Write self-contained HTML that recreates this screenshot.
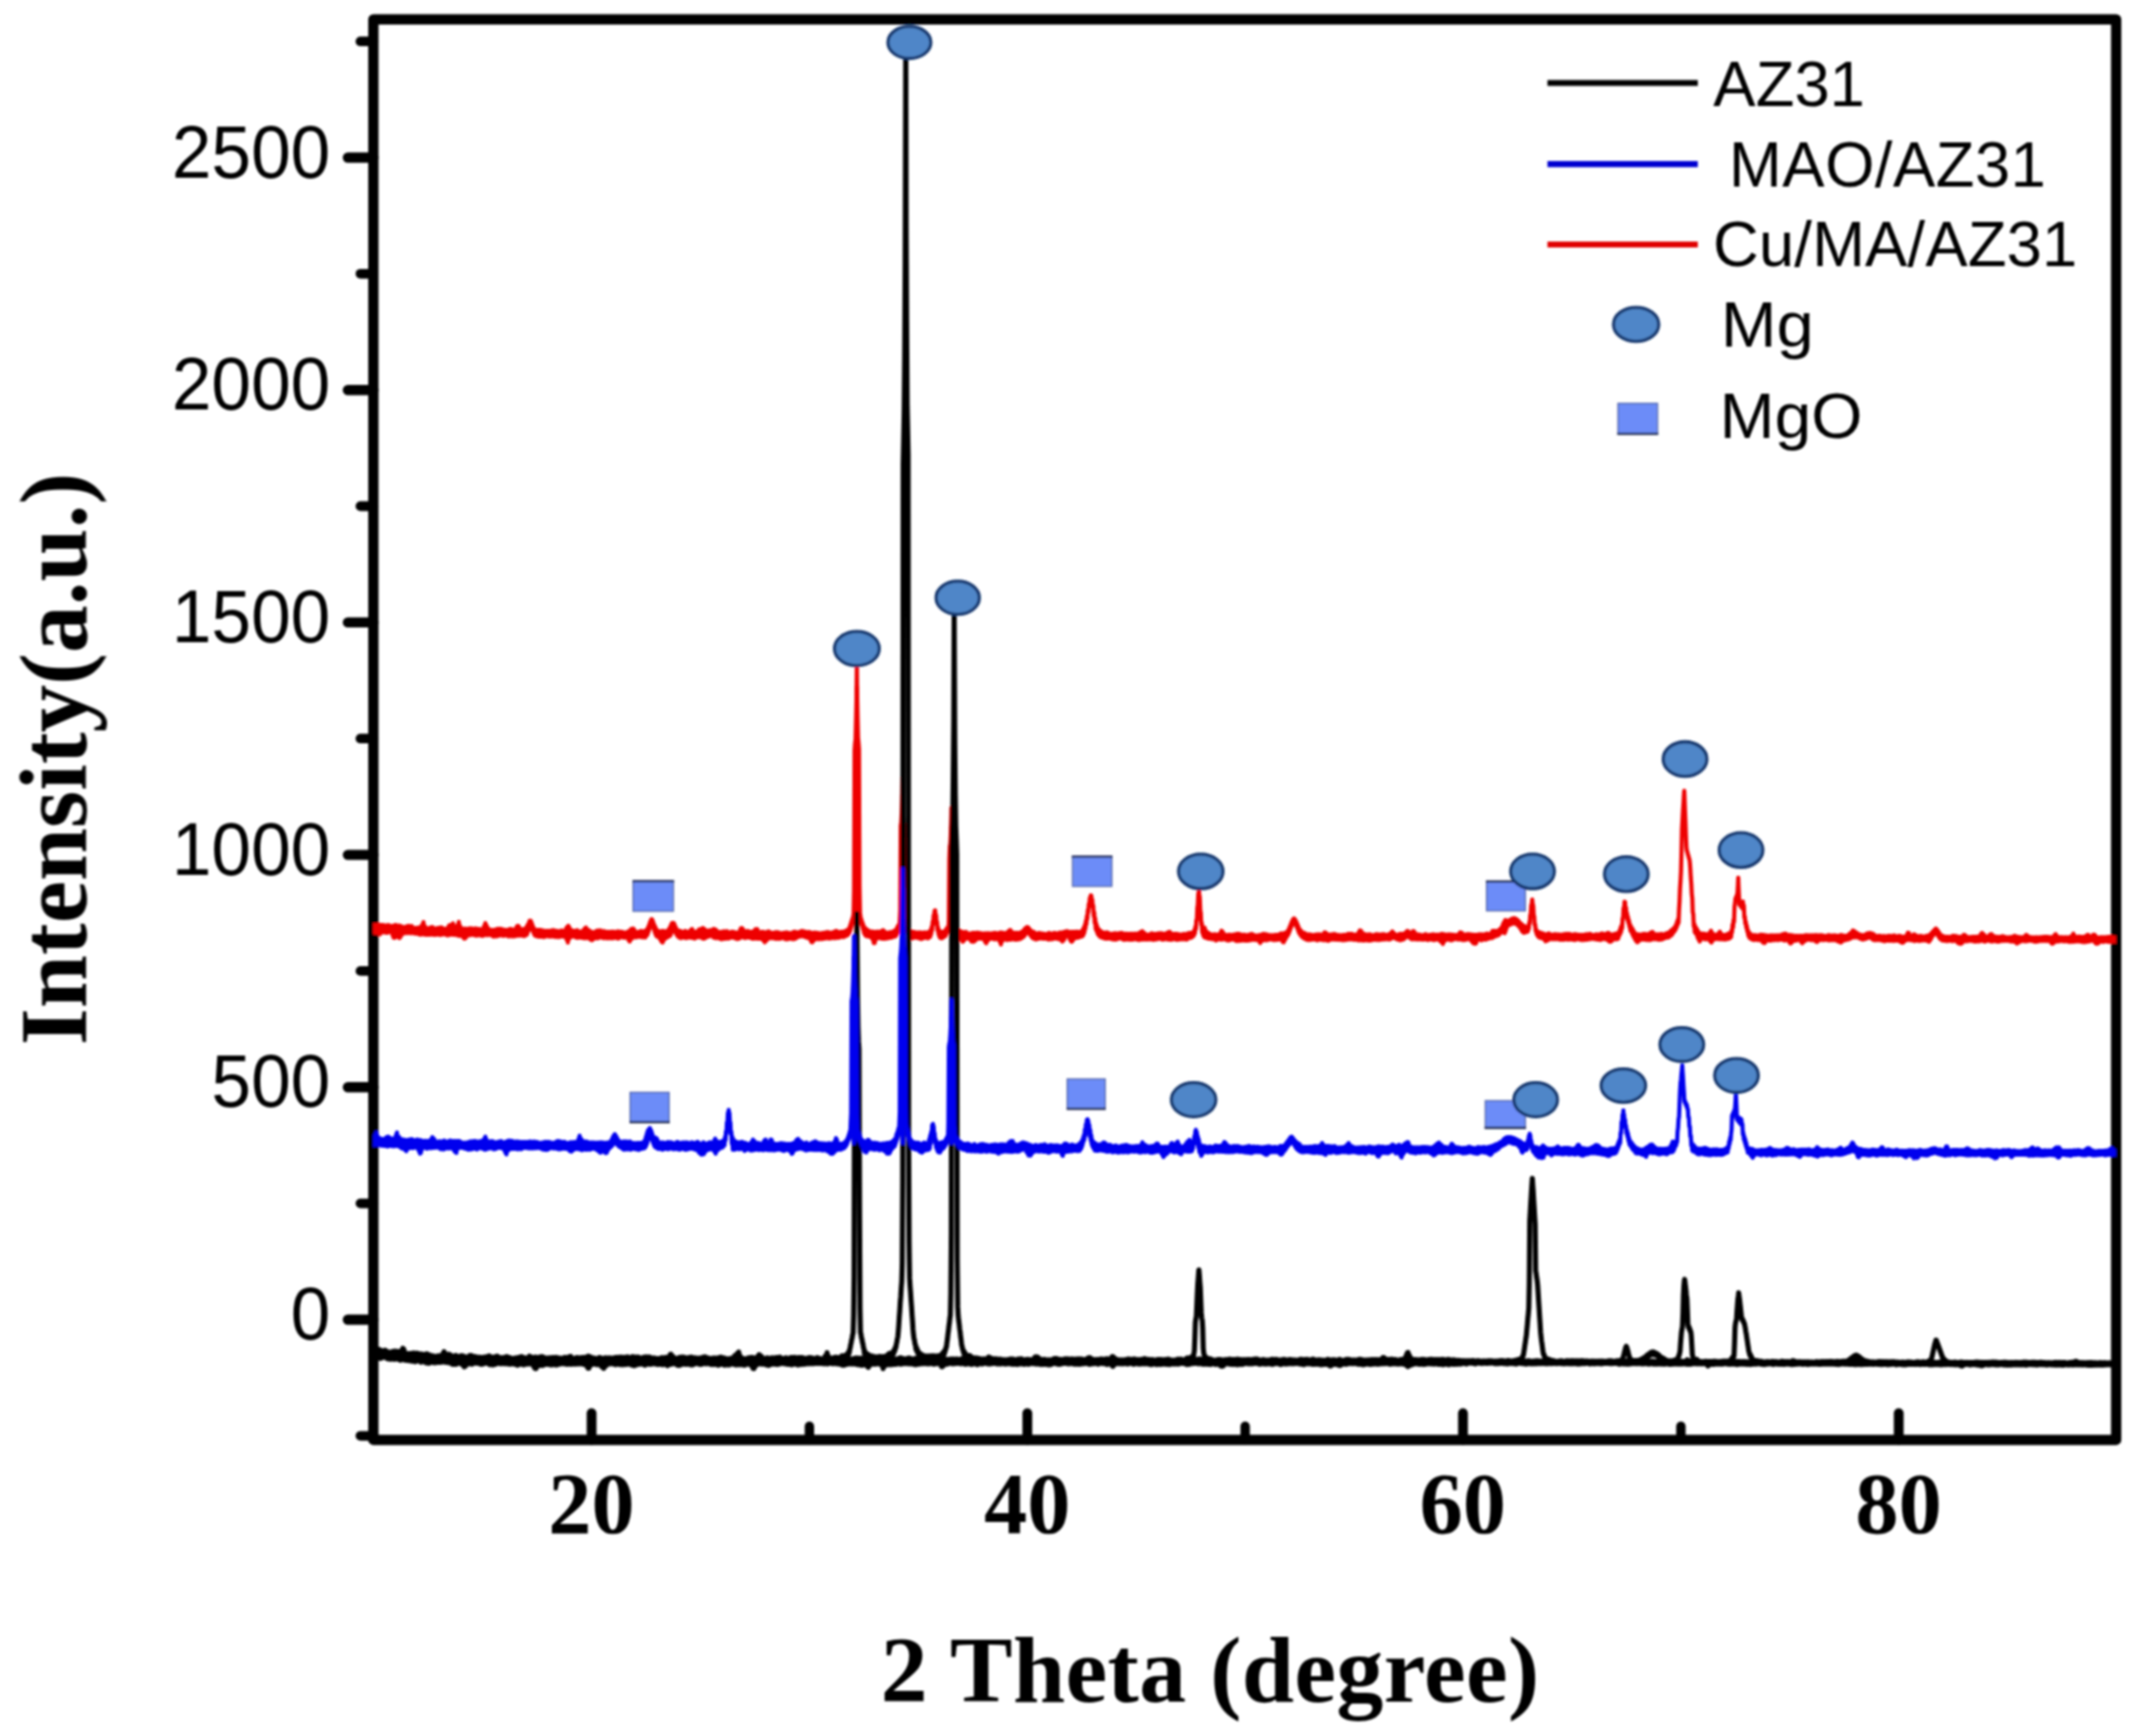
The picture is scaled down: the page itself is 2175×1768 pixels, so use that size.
<!DOCTYPE html>
<html lang="en">
<head>
<meta charset="utf-8">
<title>XRD patterns of AZ31, MAO/AZ31 and Cu/MA/AZ31</title>
<style>
html,body{margin:0;padding:0;background:#fff;}
body{width:2175px;height:1768px;overflow:hidden;}
svg{display:block;}
.sans{font-family:"Liberation Sans",Arial,Helvetica,sans-serif;fill:#000;}
.serif{font-family:"Liberation Serif","Times New Roman",Times,serif;font-weight:bold;fill:#000;}
.curve{fill:none;stroke-linejoin:round;stroke-linecap:round;}
</style>
</head>
<body>
<svg width="2175" height="1768" viewBox="0 0 2175 1768">
<defs><clipPath id="plot"><rect x="379.6" y="19.6" width="1775.2" height="1446.8"/></clipPath>
<filter id="soft" x="-2%" y="-2%" width="104%" height="104%"><feGaussianBlur stdDeviation="0.9"/></filter></defs>
<rect x="0" y="0" width="2175" height="1768" fill="#fff"/>
<g filter="url(#soft)">
<rect x="380.20" y="19.65" width="1774.60" height="1446.75" fill="none" stroke="#000" stroke-width="10.5" stroke-linejoin="round"/>
<g stroke="#000" stroke-linecap="round" fill="none">
<line x1="354.2" y1="1344.0" x2="380.2" y2="1344.0" stroke-width="10.4"/>
<line x1="354.2" y1="1107.3" x2="380.2" y2="1107.3" stroke-width="10.4"/>
<line x1="354.2" y1="870.6" x2="380.2" y2="870.6" stroke-width="10.4"/>
<line x1="354.2" y1="633.9" x2="380.2" y2="633.9" stroke-width="10.4"/>
<line x1="354.2" y1="397.2" x2="380.2" y2="397.2" stroke-width="10.4"/>
<line x1="354.2" y1="160.5" x2="380.2" y2="160.5" stroke-width="10.4"/>
<line x1="367" y1="1462.3" x2="380.2" y2="1462.3" stroke-width="9.8"/>
<line x1="367" y1="1225.6" x2="380.2" y2="1225.6" stroke-width="9.8"/>
<line x1="367" y1="988.9" x2="380.2" y2="988.9" stroke-width="9.8"/>
<line x1="367" y1="752.2" x2="380.2" y2="752.2" stroke-width="9.8"/>
<line x1="367" y1="515.5" x2="380.2" y2="515.5" stroke-width="9.8"/>
<line x1="367" y1="278.8" x2="380.2" y2="278.8" stroke-width="9.8"/>
<line x1="367" y1="42.2" x2="380.2" y2="42.2" stroke-width="9.8"/>
<line x1="602.4" y1="1439.2" x2="602.4" y2="1466.4" stroke-width="10"/>
<line x1="1046.1" y1="1439.2" x2="1046.1" y2="1466.4" stroke-width="10"/>
<line x1="1489.7" y1="1439.2" x2="1489.7" y2="1466.4" stroke-width="10"/>
<line x1="1933.4" y1="1439.2" x2="1933.4" y2="1466.4" stroke-width="10"/>
<line x1="824.2" y1="1452.6" x2="824.2" y2="1466.4" stroke-width="9.6"/>
<line x1="1267.9" y1="1452.6" x2="1267.9" y2="1466.4" stroke-width="9.6"/>
<line x1="1711.6" y1="1452.6" x2="1711.6" y2="1466.4" stroke-width="9.6"/>
</g>
<g clip-path="url(#plot)">
<path class="curve" stroke="#ee0000" stroke-width="4.2" d="M380.2 942.2L380.7 949.7L381.2 941.8L381.7 950.0L382.2 942.1L382.7 950.1L383.2 942.2L383.7 949.5L384.2 942.4L384.7 950.0L385.2 941.5L385.7 950.8L386.2 941.8L386.7 951.7L387.2 942.2L387.7 950.4L388.2 942.2L388.7 949.5L389.2 942.0L389.7 949.4L390.2 942.1L390.7 948.9L391.2 942.9L391.7 949.6L392.2 942.7L392.7 949.4L393.2 942.7L393.7 950.0L394.2 943.1L394.7 949.9L395.2 942.2L395.7 949.1L396.2 942.6L396.7 949.2L397.2 942.9L397.7 949.2L398.2 943.3L398.7 949.4L399.2 943.1L399.7 952.4L400.2 943.4L400.7 954.9L401.2 942.7L401.7 955.2L402.2 942.2L402.7 953.3L403.2 942.1L403.7 954.2L404.2 942.9L404.7 954.0L405.2 943.0L405.7 953.3L406.2 942.6L406.7 955.5L407.2 942.9L407.7 954.5L408.2 943.4L408.7 952.5L409.2 943.7L409.7 951.6L410.2 944.5L410.7 949.8L411.2 944.6L411.7 950.1L412.2 944.1L412.7 950.1L413.2 944.1L413.7 950.3L414.2 943.3L414.7 950.1L415.2 943.8L415.7 950.1L416.2 942.8L416.7 950.1L417.2 943.6L417.7 949.9L418.2 943.8L418.7 950.5L419.2 943.2L419.7 950.1L420.2 944.5L420.7 950.0L421.2 944.8L421.7 950.3L422.2 945.3L422.7 950.8L423.2 945.2L423.7 950.6L424.2 945.2L424.7 950.8L425.2 944.8L425.7 951.1L426.2 944.7L426.7 951.5L427.2 945.4L427.7 951.9L428.2 945.3L428.7 951.1L429.2 943.0L429.7 951.7L430.2 941.4L430.7 951.5L431.2 939.2L431.7 951.5L432.2 942.5L432.7 951.8L433.2 944.1L433.7 951.6L434.2 945.5L434.7 952.0L435.2 945.7L435.7 951.5L436.2 945.6L436.7 951.4L437.2 945.1L437.7 952.0L438.2 944.7L438.7 951.2L439.2 945.1L439.7 951.2L440.2 944.2L440.7 951.8L441.2 945.0L441.7 951.8L442.2 945.5L442.7 952.1L443.2 945.6L443.7 951.2L444.2 945.6L444.7 951.8L445.2 945.3L445.7 950.8L446.2 945.2L446.7 951.6L447.2 945.0L447.7 952.2L448.2 944.7L448.7 952.2L449.2 944.6L449.7 951.8L450.2 944.9L450.7 951.7L451.2 945.8L451.7 951.1L452.2 946.0L452.7 951.2L453.2 946.1L453.7 951.8L454.2 946.0L454.7 952.0L455.2 945.4L455.7 952.7L456.2 944.6L456.7 952.4L457.2 942.7L457.7 951.4L458.2 942.0L458.7 951.8L459.2 942.0L459.7 951.5L460.2 941.8L460.7 951.8L461.2 940.3L461.7 952.0L462.2 942.8L462.7 951.9L463.2 944.9L463.7 952.1L464.2 946.2L464.7 951.9L465.2 944.0L465.7 952.5L466.2 941.6L466.7 952.9L467.2 938.9L467.7 953.2L468.2 942.5L468.7 952.6L469.2 944.3L469.7 952.2L470.2 946.7L470.7 953.5L471.2 946.3L471.7 954.6L472.2 946.1L472.7 955.9L473.2 945.6L473.7 955.7L474.2 946.1L474.7 954.4L475.2 946.0L475.7 953.0L476.2 946.3L476.7 952.5L477.2 945.7L477.7 952.4L478.2 945.5L478.7 952.3L479.2 945.8L479.7 952.1L480.2 945.6L480.7 951.8L481.2 945.9L481.7 951.9L482.2 946.5L482.7 952.2L483.2 945.9L483.7 952.6L484.2 945.7L484.7 952.7L485.2 945.8L485.7 952.8L486.2 946.0L486.7 952.3L487.2 946.3L487.7 952.1L488.2 946.1L488.7 952.0L489.2 946.6L489.7 952.8L490.2 946.8L490.7 952.5L491.2 947.1L491.7 953.2L492.2 944.9L492.7 952.3L493.2 942.7L493.7 952.2L494.2 940.2L494.7 952.2L495.2 942.2L495.7 952.5L496.2 944.2L496.7 952.2L497.2 946.4L497.7 952.2L498.2 946.4L498.7 952.2L499.2 947.0L499.7 952.1L500.2 947.3L500.7 952.5L501.2 947.2L501.7 953.3L502.2 947.1L502.7 953.8L503.2 947.4L503.7 953.4L504.2 946.8L504.7 953.4L505.2 946.5L505.7 953.6L506.2 946.1L506.7 952.6L507.2 945.8L507.7 953.0L508.2 946.3L508.7 952.5L509.2 945.9L509.7 952.5L510.2 946.1L510.7 952.7L511.2 946.3L511.7 952.4L512.2 946.9L512.7 953.1L513.2 946.9L513.7 952.5L514.2 947.1L514.7 952.2L515.2 947.6L515.7 952.7L516.2 947.1L516.7 952.6L517.2 947.1L517.7 953.7L518.2 946.6L518.7 953.3L519.2 946.0L519.7 953.4L520.2 946.4L520.7 953.4L521.2 946.4L521.7 953.6L522.2 946.8L522.7 953.1L523.2 947.2L523.7 953.6L524.2 947.9L524.7 953.1L525.2 945.6L525.7 953.1L526.2 943.6L526.7 953.0L527.2 942.9L527.7 952.3L528.2 943.3L528.7 952.8L529.2 945.3L529.7 952.7L530.2 947.2L530.7 952.4L531.2 946.4L531.7 952.8L532.2 946.7L532.7 952.6L533.2 946.2L533.7 953.4L534.2 946.4L534.7 952.9L535.2 945.7L535.7 952.4L536.2 943.9L536.7 951.7L537.2 942.0L537.7 948.8L538.2 940.3L538.7 946.6L539.2 937.8L539.7 945.5L540.0 937.7L540.2 945.3L540.7 938.2L541.2 946.0L541.7 940.7L542.2 947.5L542.7 943.3L543.2 949.8L543.7 945.3L544.2 952.0L544.7 947.1L545.2 953.1L545.7 947.3L546.2 953.2L546.7 947.0L547.2 953.6L547.7 947.1L548.2 953.8L548.7 947.1L549.2 954.0L549.7 947.2L550.2 953.7L550.7 947.4L551.2 953.8L551.7 947.7L552.2 954.2L552.7 947.7L553.2 954.2L553.7 948.0L554.2 954.4L554.7 948.2L555.2 953.9L555.7 948.6L556.2 953.3L556.7 948.2L557.2 953.1L557.7 948.2L558.2 953.6L558.7 948.2L559.2 953.4L559.7 948.3L560.2 953.8L560.7 947.9L561.2 953.6L561.7 948.1L562.2 953.7L562.7 947.3L563.2 953.4L563.7 947.6L564.2 953.8L564.7 947.7L565.2 954.2L565.7 948.2L566.2 954.2L566.7 948.7L567.2 954.1L567.7 948.2L568.2 954.1L568.7 948.7L569.2 954.5L569.7 948.6L570.2 953.9L570.7 948.4L571.2 953.6L571.7 947.7L572.2 953.5L572.7 948.1L573.2 953.9L573.7 948.5L574.2 953.3L574.7 948.1L575.2 953.2L575.7 947.1L576.2 955.1L576.7 944.8L577.2 957.4L577.7 943.9L578.2 959.9L578.7 942.8L579.2 956.8L579.7 944.4L580.2 955.2L580.7 946.5L581.2 954.4L581.7 948.0L582.2 954.0L582.7 947.6L583.2 953.6L583.7 948.0L584.2 953.4L584.7 948.1L585.2 954.0L585.7 948.1L586.2 954.6L586.7 947.9L587.2 955.0L587.7 947.4L588.2 955.1L588.7 948.4L589.2 954.2L589.7 948.8L590.2 953.8L590.7 949.3L591.2 954.8L591.7 948.6L592.2 955.0L592.7 948.6L593.2 955.1L593.7 948.3L594.2 955.4L594.7 946.4L595.2 955.3L595.7 945.3L596.2 955.5L596.7 944.5L597.2 955.3L597.7 946.3L598.2 954.4L598.7 947.6L599.2 954.6L599.7 947.3L600.2 955.9L600.7 948.3L601.2 956.9L601.7 948.9L602.2 957.3L602.7 949.0L603.2 957.4L603.7 949.5L604.2 956.1L604.7 949.5L605.2 954.3L605.7 949.2L606.2 954.8L606.7 949.1L607.2 955.6L607.7 947.9L608.2 955.3L608.7 948.1L609.2 955.5L609.7 947.6L610.2 954.6L610.7 948.1L611.2 954.3L611.7 947.7L612.2 954.5L612.7 948.7L613.2 955.0L613.7 949.1L614.2 955.4L614.7 948.4L615.2 955.4L615.7 948.7L616.2 955.2L616.7 949.0L617.2 955.3L617.7 949.0L618.2 955.7L618.7 949.1L619.2 955.5L619.7 949.0L620.2 955.2L620.7 949.6L621.2 955.4L621.7 949.2L622.2 955.7L622.7 948.8L623.2 955.3L623.7 949.2L624.2 955.5L624.7 948.9L625.2 955.4L625.7 949.7L626.2 954.8L626.7 949.3L627.2 955.1L627.7 949.2L628.2 954.9L628.7 948.7L629.2 955.9L629.7 948.5L630.2 955.5L630.7 949.3L631.2 954.6L631.7 948.9L632.2 954.3L632.7 949.2L633.2 954.4L633.7 949.2L634.2 954.6L634.7 949.9L635.2 955.0L635.7 949.8L636.2 954.8L636.7 949.9L637.2 954.1L637.7 949.5L638.2 954.5L638.7 949.6L639.2 955.9L639.7 948.5L640.2 957.7L640.7 948.3L641.2 959.0L641.7 947.3L642.2 956.9L642.7 946.1L643.2 956.1L643.7 946.3L644.2 954.3L644.7 945.5L645.2 954.4L645.7 946.7L646.2 954.6L646.7 948.6L647.2 954.3L647.7 949.4L648.2 954.6L648.7 949.7L649.2 954.2L649.7 949.2L650.2 954.0L650.7 948.8L651.2 954.1L651.7 948.7L652.2 954.2L652.7 948.1L653.2 954.2L653.7 948.5L654.2 954.6L654.7 948.5L655.2 954.4L655.7 948.6L656.2 954.6L656.7 948.2L657.2 954.6L657.7 947.6L658.2 953.2L658.7 946.5L659.2 952.2L659.7 944.8L660.2 949.5L660.7 942.5L661.2 946.6L661.7 939.6L662.2 943.7L662.7 937.2L663.2 941.8L663.5 936.0L663.7 941.8L664.2 936.5L664.7 943.2L665.2 939.1L665.7 946.2L666.2 941.8L666.7 949.4L667.2 943.8L667.7 952.1L668.2 946.2L668.7 953.6L669.2 947.9L669.7 953.8L670.2 948.2L670.7 954.7L671.2 949.4L671.7 955.7L672.2 948.7L672.7 957.5L673.2 948.5L673.7 959.1L674.2 948.4L674.7 959.9L675.2 948.1L675.7 958.0L676.2 948.6L676.7 956.1L677.2 948.8L677.7 955.6L678.2 948.8L678.7 955.2L679.2 948.2L679.7 954.2L680.2 947.9L680.7 953.8L681.2 946.0L681.7 953.3L682.2 944.3L682.7 952.6L683.2 942.1L683.7 950.2L684.2 940.1L684.7 948.4L685.2 939.8L685.7 947.0L686.0 940.2L686.2 946.8L686.7 941.1L687.2 948.3L687.7 943.7L688.2 950.5L688.7 945.7L689.2 952.3L689.7 947.5L690.2 953.5L690.7 948.4L691.2 954.6L691.7 947.8L692.2 954.9L692.7 948.3L693.2 955.5L693.7 948.6L694.2 954.8L694.7 949.4L695.2 954.7L695.7 949.4L696.2 954.6L696.7 948.8L697.2 955.1L697.7 948.2L698.2 955.2L698.7 948.5L699.2 955.3L699.7 949.0L700.2 954.8L700.7 949.7L701.2 954.6L701.7 948.9L702.2 954.7L702.7 947.9L703.2 954.8L703.7 946.8L704.2 955.1L704.7 946.2L705.2 954.7L705.7 947.8L706.2 955.0L706.7 949.0L707.2 955.9L707.7 949.8L708.2 955.4L708.7 949.1L709.2 954.5L709.7 948.7L710.2 954.3L710.7 948.7L711.2 954.1L711.7 946.7L712.2 954.5L712.7 947.1L713.2 954.4L713.7 946.1L714.2 954.6L714.7 946.3L715.2 955.6L715.7 945.2L716.2 955.9L716.7 945.8L717.2 956.0L717.7 946.7L718.2 955.1L718.7 947.9L719.2 954.6L719.7 947.8L720.2 954.3L720.7 948.4L721.2 953.8L721.7 948.1L722.2 953.5L722.7 947.3L723.2 953.0L723.6 947.5L723.7 953.4L724.2 947.6L724.7 952.8L725.2 947.8L725.7 953.2L726.2 946.4L726.7 954.8L727.2 946.1L727.7 954.9L728.2 946.8L728.7 955.4L729.2 947.0L729.7 955.3L730.2 948.8L730.7 954.6L731.2 949.2L731.7 954.9L732.2 949.5L732.7 955.8L733.2 949.2L733.7 956.0L734.2 949.8L734.7 956.7L735.2 949.3L735.7 955.6L736.2 948.7L736.7 955.7L737.2 948.6L737.7 956.1L738.2 948.7L738.7 956.0L739.2 949.0L739.7 955.6L740.2 948.4L740.7 955.7L741.2 949.2L741.7 955.9L742.2 949.8L742.7 955.4L743.2 950.0L743.7 955.1L744.2 949.4L744.7 954.9L745.2 948.8L745.7 954.6L746.2 949.3L746.7 954.8L747.2 949.2L747.7 955.0L748.2 949.6L748.7 955.7L749.2 949.8L749.7 955.9L750.2 949.8L750.7 956.4L751.2 950.0L751.7 955.3L752.2 949.4L752.7 955.9L753.2 948.2L753.7 954.9L754.2 945.6L754.7 954.6L755.2 945.0L755.7 954.5L756.2 945.8L756.7 954.7L757.2 947.3L757.7 954.9L758.2 948.8L758.7 955.3L759.2 948.9L759.7 954.7L760.2 948.9L760.7 954.6L761.2 948.2L761.7 954.4L762.2 948.8L762.7 955.0L763.2 948.9L763.7 954.7L764.2 949.0L764.7 955.1L765.2 949.2L765.7 955.9L766.2 948.8L766.7 955.3L767.2 949.4L767.7 956.0L768.2 947.8L768.7 955.6L769.2 946.3L769.7 955.3L770.2 946.5L770.7 956.0L771.2 946.4L771.7 956.0L772.2 948.8L772.7 955.8L773.2 950.0L773.7 956.0L774.2 949.7L774.7 956.0L775.2 949.3L775.7 955.7L776.2 949.1L776.7 957.2L777.2 949.4L777.7 958.2L778.2 949.4L778.7 959.6L779.2 949.9L779.7 958.4L780.2 949.6L780.7 957.6L781.2 949.1L781.7 956.3L782.2 948.6L782.7 955.6L783.2 948.9L783.7 955.3L784.2 949.7L784.7 955.5L785.2 950.0L785.7 955.3L786.2 950.2L786.7 955.5L787.2 950.2L787.7 955.3L788.2 949.8L788.7 955.4L789.2 949.7L789.7 956.1L790.2 949.4L790.7 955.8L791.2 949.6L791.7 956.1L792.2 949.6L792.7 955.7L793.2 949.9L793.7 956.2L794.2 950.4L794.7 955.3L795.2 950.5L795.7 955.6L796.2 950.6L796.7 955.5L797.2 950.1L797.7 955.1L798.2 950.3L798.7 955.3L799.2 949.8L799.7 956.5L800.2 949.9L800.7 956.3L801.2 949.7L801.7 956.7L802.2 950.1L802.7 956.1L803.2 950.4L803.7 955.8L804.2 950.4L804.7 955.9L805.2 950.6L805.7 956.2L806.2 950.5L806.7 956.2L807.2 949.7L807.7 956.5L808.2 949.0L808.7 956.4L809.2 948.8L809.7 955.7L810.2 949.5L810.7 955.6L811.2 949.6L811.7 954.5L812.2 949.7L812.7 954.4L813.2 949.3L813.7 953.7L814.2 949.3L814.7 953.6L815.2 948.9L815.7 953.7L816.2 948.0L816.6 953.3L816.7 948.5L817.2 953.4L817.7 948.4L818.2 953.6L818.7 948.6L819.2 954.1L819.7 948.9L820.2 954.3L820.7 949.0L821.2 954.5L821.7 949.3L822.2 955.2L822.7 949.8L823.2 955.0L823.7 949.2L824.2 955.6L824.7 949.6L825.2 957.2L825.7 949.8L826.2 959.3L826.7 950.0L827.2 959.7L827.7 950.4L828.2 958.0L828.7 949.8L829.2 957.3L829.7 949.8L830.2 954.6L830.7 949.8L831.2 955.7L831.7 950.3L832.2 956.0L832.7 950.1L833.2 956.6L833.7 950.6L834.2 955.9L834.7 950.7L835.2 955.7L835.7 950.6L836.2 956.5L836.7 950.3L837.2 955.9L837.7 950.1L838.2 956.1L838.7 950.1L839.2 955.8L839.7 949.9L840.2 955.4L840.7 950.0L841.2 955.7L841.7 949.3L842.2 955.3L842.7 949.4L843.2 955.4L843.7 949.6L844.2 955.8L844.7 949.8L845.2 955.7L845.7 950.1L846.2 955.2L846.7 949.8L847.2 955.5L847.7 949.6L848.2 955.1L848.7 949.4L849.2 955.1L849.7 948.9L850.2 955.5L850.7 948.4L851.2 955.2L851.7 948.2L852.2 954.9L852.7 949.0L853.2 955.2L853.7 949.4L854.2 954.9L854.7 949.4L855.2 954.7L855.7 949.2L856.2 954.1L856.7 949.2L857.2 954.1L857.7 948.8L858.2 953.8L858.7 949.0L859.2 954.4L859.7 948.6L860.2 953.6L860.7 948.4L861.2 953.3L861.7 947.6L862.2 952.8L862.7 947.9L863.2 952.3L863.7 946.5L864.2 951.0L864.7 945.1L865.2 949.5L865.7 942.3L866.2 946.7L866.7 939.1L867.2 943.5L867.7 936.0L868.2 940.5L868.7 932.9L869.2 931.7L869.7 905.5L870.2 764.4L870.7 757.1L871.2 753.3L871.7 732.3L872.2 708.8L872.5 676.0L872.7 698.5L873.2 728.4L873.7 751.1L874.2 756.3L874.7 763.4L875.2 901.3L875.7 930.0L876.2 932.9L876.7 940.1L877.2 936.4L877.7 942.5L878.2 939.5L878.7 946.1L879.2 942.2L879.7 949.9L880.2 944.6L880.7 951.8L881.2 945.4L881.7 953.0L882.2 946.3L882.7 953.5L883.2 947.0L883.7 953.2L884.2 947.6L884.7 953.8L885.2 948.5L885.7 954.0L886.2 948.8L886.7 954.1L887.2 948.7L887.7 955.3L888.2 949.2L888.7 957.0L889.2 948.8L889.7 960.3L890.2 949.7L890.7 960.5L891.2 949.2L891.7 957.2L892.2 949.4L892.7 955.8L893.2 948.9L893.7 954.7L894.2 948.9L894.7 955.2L895.2 949.1L895.7 955.3L896.2 949.5L896.7 955.2L897.2 948.7L897.7 955.8L898.2 947.8L898.7 955.8L899.2 947.3L899.7 955.9L900.2 948.3L900.7 956.1L901.2 949.1L901.7 955.3L902.2 950.1L902.7 955.5L903.2 950.5L903.7 955.7L904.2 949.9L904.7 955.1L905.2 950.1L905.7 955.2L906.2 949.4L906.7 954.8L907.2 949.4L907.7 955.0L908.2 949.5L908.7 954.2L909.2 949.0L909.7 954.1L910.2 948.2L910.7 953.9L911.2 947.5L911.7 953.7L912.2 947.0L912.7 952.7L913.2 945.1L913.7 950.5L914.2 943.1L914.7 948.8L915.2 941.8L915.7 946.6L916.2 937.3L916.7 927.1L917.2 840.6L917.7 837.9L918.2 827.7L918.7 813.6L919.0 791.0L919.2 806.5L919.7 824.5L920.2 837.2L920.7 839.7L921.2 923.1L921.7 935.0L922.2 945.2L922.7 941.7L923.2 947.3L923.7 943.7L924.2 949.5L924.7 946.5L925.2 952.1L925.7 947.6L926.2 953.3L926.7 948.4L927.2 954.6L927.7 948.6L928.2 954.7L928.7 949.1L929.2 955.6L929.7 949.2L930.2 955.2L930.7 949.2L931.2 954.6L931.7 950.0L932.2 954.7L932.7 950.1L933.2 955.0L933.7 949.7L934.2 955.2L934.7 949.9L935.2 955.3L935.7 949.9L936.2 955.5L936.7 949.7L937.2 956.1L937.7 949.9L938.2 956.3L938.7 950.1L939.2 956.0L939.7 949.8L940.2 955.0L940.7 949.8L941.2 955.2L941.7 949.7L942.2 954.8L942.7 949.8L943.2 955.1L943.7 949.9L944.2 955.5L944.7 949.7L945.2 955.6L945.7 949.2L946.2 954.6L946.7 948.7L947.2 954.0L947.7 946.9L948.2 951.4L948.7 943.8L949.2 947.3L949.7 938.7L950.2 941.4L950.7 932.0L951.2 935.2L951.7 927.5L952.0 932.6L952.2 927.0L952.7 934.6L953.2 931.9L953.7 941.1L954.2 938.8L954.7 947.7L955.2 944.6L955.7 951.7L956.2 947.6L956.7 954.3L957.2 948.7L957.7 955.4L958.2 949.1L958.7 955.5L959.2 949.2L959.7 955.4L960.2 949.2L960.7 954.4L961.2 949.0L961.7 953.8L962.2 948.0L962.7 953.4L963.2 946.5L963.7 951.1L964.2 945.1L964.7 949.4L965.2 943.9L965.7 947.9L966.2 936.8L966.7 875.9L967.2 861.4L967.7 859.4L968.2 847.6L968.7 829.8L968.8 822.9L969.2 844.1L969.7 854.6L970.2 861.4L970.7 863.2L971.2 936.2L971.7 940.9L972.2 948.6L972.7 943.3L973.2 950.1L973.7 944.6L974.2 952.5L974.7 946.3L975.2 954.4L975.7 947.1L976.2 954.7L976.7 948.2L977.2 955.7L977.7 948.2L978.2 956.6L978.7 948.8L979.2 957.4L979.7 949.5L980.2 959.2L980.7 949.4L981.2 958.5L981.7 949.3L982.2 956.9L982.7 949.6L983.2 956.1L983.7 949.2L984.2 955.6L984.7 950.3L985.2 955.6L985.7 950.7L986.2 954.9L986.7 950.9L987.2 956.4L987.7 950.8L988.2 957.4L988.7 950.8L989.2 958.9L989.7 950.4L990.2 958.8L990.7 950.2L991.2 959.1L991.7 950.4L992.2 958.6L992.7 950.2L993.2 957.6L993.7 950.4L994.2 956.8L994.7 949.8L995.2 955.2L995.7 949.9L996.2 955.6L996.7 950.3L997.2 955.8L997.7 950.3L998.2 955.7L998.7 950.4L999.2 956.0L999.7 950.5L1000.2 955.4L1000.7 950.8L1001.2 955.9L1001.7 950.8L1002.2 957.3L1002.7 950.5L1003.2 959.4L1003.7 950.7L1004.2 960.6L1004.7 950.6L1005.2 958.7L1005.7 950.5L1006.2 957.6L1006.7 950.8L1007.2 956.1L1007.7 950.7L1008.2 956.0L1008.7 951.1L1009.2 955.8L1009.7 950.8L1010.2 955.9L1010.7 950.3L1011.2 956.2L1011.7 950.3L1012.2 956.4L1012.7 950.2L1013.2 956.6L1013.7 950.1L1014.2 956.5L1014.7 950.7L1015.2 956.2L1015.7 950.6L1016.2 955.6L1016.7 950.5L1017.2 957.3L1017.7 950.1L1018.2 959.4L1018.7 949.6L1019.2 962.0L1019.7 950.0L1020.2 959.0L1020.7 949.8L1021.2 957.7L1021.7 950.2L1022.2 956.7L1022.7 950.6L1023.2 956.4L1023.7 950.3L1024.2 956.7L1024.7 950.3L1025.2 957.3L1025.7 949.7L1026.2 956.5L1026.7 948.5L1027.2 957.0L1027.7 947.9L1028.2 956.9L1028.7 947.0L1029.2 956.8L1029.7 948.3L1030.2 956.7L1030.7 949.7L1031.2 956.1L1031.7 949.9L1032.2 956.4L1032.7 950.5L1033.2 956.9L1033.7 950.0L1034.2 957.0L1034.7 950.3L1035.2 957.0L1035.7 950.2L1036.2 956.6L1036.7 950.1L1037.2 956.6L1037.7 950.5L1038.2 956.5L1038.7 949.9L1039.2 956.0L1039.7 949.6L1040.2 955.1L1040.7 948.8L1041.2 954.8L1041.7 948.2L1042.2 953.9L1042.7 947.0L1043.2 953.0L1043.7 945.5L1044.2 951.5L1044.7 945.1L1045.2 950.3L1045.7 944.2L1046.0 949.5L1046.2 944.9L1046.7 949.4L1047.2 944.7L1047.7 950.2L1048.2 946.3L1048.7 951.7L1049.2 947.0L1049.7 953.1L1050.2 948.4L1050.7 954.4L1051.2 948.9L1051.7 955.5L1052.2 948.8L1052.7 955.5L1053.2 949.5L1053.7 956.3L1054.2 950.7L1054.7 956.6L1055.2 950.8L1055.7 956.7L1056.2 950.7L1056.7 955.9L1057.2 950.7L1057.7 956.0L1058.2 950.1L1058.7 955.8L1059.2 950.6L1059.7 955.5L1060.2 950.7L1060.7 955.6L1061.2 950.9L1061.7 956.0L1062.2 950.8L1062.7 955.8L1063.2 951.0L1063.7 955.8L1064.2 951.4L1064.7 955.6L1065.2 951.3L1065.7 956.1L1066.2 951.0L1066.7 956.2L1067.2 950.5L1067.7 956.9L1068.2 950.2L1068.7 956.6L1069.2 950.8L1069.7 956.2L1070.2 950.8L1070.7 956.6L1071.2 951.0L1071.7 956.5L1072.2 950.7L1072.7 956.0L1073.2 950.0L1073.7 955.8L1074.2 950.4L1074.7 955.7L1075.2 950.4L1075.7 955.8L1076.2 951.4L1076.7 955.8L1077.2 950.7L1077.7 956.4L1078.2 950.4L1078.7 956.6L1079.2 949.6L1079.7 956.7L1080.2 950.2L1080.7 957.3L1081.2 949.9L1081.7 959.0L1082.2 950.2L1082.7 958.0L1083.2 949.2L1083.7 956.9L1084.2 949.1L1084.7 954.3L1085.2 948.7L1085.7 953.5L1086.0 948.6L1086.2 953.7L1086.7 948.4L1087.2 953.7L1087.7 949.1L1088.2 954.0L1088.7 949.1L1089.2 956.4L1089.7 949.5L1090.2 958.2L1090.7 949.1L1091.2 959.1L1091.7 949.0L1092.2 958.2L1092.7 949.4L1093.2 956.6L1093.7 949.2L1094.2 955.7L1094.7 949.1L1095.2 955.2L1095.7 948.9L1096.2 955.1L1096.7 949.2L1097.2 954.8L1097.7 948.9L1098.2 954.8L1098.7 949.5L1099.2 954.5L1099.7 949.3L1100.2 953.8L1100.7 948.9L1101.2 953.9L1101.7 948.1L1102.2 953.5L1102.7 946.5L1103.2 952.1L1103.7 944.5L1104.2 949.7L1104.7 941.8L1105.2 945.9L1105.7 937.8L1106.2 941.3L1106.7 933.1L1107.2 936.0L1107.7 926.8L1108.2 929.0L1108.7 920.7L1109.2 922.4L1109.7 914.6L1110.2 916.5L1110.7 911.8L1110.8 915.6L1111.2 912.0L1111.7 917.8L1112.2 916.1L1112.7 924.0L1113.2 922.2L1113.7 932.8L1114.2 929.4L1114.7 939.8L1115.2 935.4L1115.7 946.1L1116.2 940.3L1116.7 948.4L1117.2 943.4L1117.7 951.1L1118.2 945.8L1118.7 952.3L1119.2 946.8L1119.7 953.6L1120.2 947.8L1120.7 954.3L1121.2 948.7L1121.7 954.5L1122.2 949.2L1122.7 955.0L1123.2 950.0L1123.7 955.4L1124.2 950.2L1124.7 955.7L1125.2 950.2L1125.7 955.9L1126.2 949.6L1126.7 955.9L1127.2 949.9L1127.7 955.8L1128.2 949.8L1128.7 955.5L1129.2 951.0L1129.7 955.9L1130.2 951.3L1130.7 955.9L1131.2 951.3L1131.7 955.9L1132.2 950.8L1132.7 956.6L1133.2 951.2L1133.7 956.4L1134.2 950.9L1134.7 956.7L1135.2 950.4L1135.7 957.0L1136.2 950.8L1136.7 956.2L1137.2 950.8L1137.7 956.5L1138.2 950.7L1138.7 955.7L1139.2 950.7L1139.7 955.6L1140.2 950.8L1140.7 955.6L1141.2 950.2L1141.7 955.7L1142.2 950.2L1142.7 956.2L1143.2 950.6L1143.7 956.9L1144.2 950.9L1144.7 957.2L1145.2 951.4L1145.7 957.0L1146.2 950.9L1146.7 956.6L1147.2 951.0L1147.7 956.8L1148.2 951.2L1148.7 956.6L1149.2 951.0L1149.7 956.6L1150.2 951.2L1150.7 957.1L1151.2 951.3L1151.7 957.0L1152.2 950.9L1152.7 956.8L1153.2 951.5L1153.7 956.8L1154.2 951.1L1154.7 956.6L1155.2 950.9L1155.7 956.5L1156.2 951.3L1156.7 956.5L1157.2 950.8L1157.7 956.9L1158.2 951.0L1158.7 956.8L1159.2 950.5L1159.7 957.4L1160.2 950.9L1160.7 957.1L1161.2 949.4L1161.7 956.9L1162.2 949.0L1162.7 956.4L1163.2 948.4L1163.7 956.9L1164.2 949.6L1164.7 956.4L1165.2 950.0L1165.7 956.3L1166.2 951.8L1166.7 956.7L1167.2 951.9L1167.7 956.8L1168.2 951.9L1168.7 956.7L1169.2 951.9L1169.7 956.7L1170.2 952.0L1170.7 956.5L1171.2 951.6L1171.7 956.7L1172.2 950.5L1172.7 956.6L1173.2 950.7L1173.7 957.0L1174.2 951.3L1174.7 957.2L1175.2 951.3L1175.7 957.0L1176.2 951.1L1176.7 956.3L1177.2 951.2L1177.7 956.7L1178.2 951.1L1178.7 956.5L1179.2 950.7L1179.7 956.0L1180.2 950.5L1180.7 955.9L1181.2 950.5L1181.7 956.0L1182.2 950.4L1182.7 956.7L1183.2 950.9L1183.7 956.9L1184.2 950.9L1184.7 956.9L1185.2 951.1L1185.7 956.5L1186.2 951.0L1186.7 956.5L1187.2 951.2L1187.7 956.2L1188.2 950.2L1188.7 956.6L1189.2 949.5L1189.7 956.8L1190.2 949.4L1190.7 956.9L1191.2 949.2L1191.7 956.7L1192.2 950.4L1192.7 957.1L1193.2 951.0L1193.7 956.7L1194.2 951.5L1194.7 956.3L1195.2 951.0L1195.7 956.5L1196.2 951.2L1196.7 956.2L1197.2 951.1L1197.7 957.0L1198.2 951.1L1198.7 957.2L1199.2 951.3L1199.7 957.0L1200.2 951.6L1200.7 956.8L1201.2 951.7L1201.7 956.2L1202.2 952.1L1202.7 956.6L1203.2 951.8L1203.7 956.1L1204.2 951.6L1204.7 956.6L1205.2 951.1L1205.7 956.3L1206.2 951.6L1206.7 956.6L1207.2 951.3L1207.7 956.6L1208.2 951.2L1208.7 956.8L1209.2 950.7L1209.7 955.9L1210.2 950.6L1210.7 955.5L1211.2 950.1L1211.7 955.0L1212.2 950.1L1212.7 955.1L1213.2 950.2L1213.7 954.6L1214.2 950.1L1214.7 953.8L1215.2 949.0L1215.7 952.8L1216.2 947.0L1216.7 950.6L1217.2 943.8L1217.7 946.3L1218.2 937.2L1218.7 937.5L1219.2 924.9L1219.7 921.4L1220.2 910.1L1220.7 908.7L1220.8 906.1L1221.2 910.8L1221.7 914.3L1222.2 927.1L1222.7 929.6L1223.2 942.0L1223.7 939.8L1224.2 949.7L1224.7 944.0L1225.2 952.6L1225.7 944.4L1226.2 954.4L1226.7 944.8L1227.2 954.9L1227.7 947.5L1228.2 955.2L1228.7 949.2L1229.2 955.5L1229.7 949.6L1230.2 955.9L1230.7 950.4L1231.2 955.7L1231.7 950.9L1232.2 956.0L1232.7 951.5L1233.2 956.2L1233.7 951.8L1234.2 956.4L1234.7 951.9L1235.2 956.2L1235.7 951.7L1236.2 956.6L1236.7 951.7L1237.2 956.8L1237.7 951.6L1238.2 957.9L1238.7 951.9L1239.2 957.1L1239.7 951.9L1240.2 956.8L1240.7 951.7L1241.2 956.4L1241.7 951.4L1242.2 956.3L1242.7 950.0L1243.2 957.0L1243.7 947.8L1244.2 956.9L1244.7 948.7L1245.2 956.5L1245.7 950.2L1246.2 956.3L1246.7 951.7L1247.2 956.4L1247.7 952.3L1248.2 957.0L1248.7 952.3L1249.2 957.5L1249.7 952.4L1250.2 957.7L1250.7 952.0L1251.2 957.9L1251.7 951.8L1252.2 957.0L1252.7 952.1L1253.2 957.1L1253.7 952.3L1254.2 956.9L1254.7 952.3L1255.2 956.6L1255.7 951.9L1256.2 956.6L1256.7 951.8L1257.2 956.9L1257.7 951.6L1258.2 958.0L1258.7 951.3L1259.2 958.4L1259.7 951.1L1260.2 957.7L1260.7 951.1L1261.2 958.2L1261.7 951.0L1262.2 958.1L1262.7 951.7L1263.2 957.8L1263.7 951.8L1264.2 958.0L1264.7 952.2L1265.2 957.7L1265.7 952.4L1266.2 957.3L1266.7 951.9L1267.2 957.9L1267.7 952.2L1268.2 958.0L1268.7 952.5L1269.2 957.9L1269.7 952.3L1270.2 957.5L1270.7 952.4L1271.2 958.0L1271.7 952.2L1272.2 957.5L1272.7 951.6L1273.2 957.4L1273.7 951.3L1274.2 957.3L1274.7 951.1L1275.2 956.9L1275.7 952.2L1276.2 957.0L1276.7 952.2L1277.2 957.1L1277.7 952.6L1278.2 957.2L1278.7 953.0L1279.2 956.7L1279.7 952.9L1280.2 957.2L1280.7 952.7L1281.2 957.7L1281.7 952.6L1282.2 958.7L1282.7 952.4L1283.2 960.4L1283.7 952.2L1284.2 958.4L1284.7 952.2L1285.2 958.1L1285.7 951.4L1286.2 956.9L1286.7 951.2L1287.2 956.9L1287.7 951.3L1288.2 957.5L1288.7 951.3L1289.2 957.1L1289.7 951.9L1290.2 957.6L1290.7 951.9L1291.2 957.0L1291.7 952.3L1292.2 956.8L1292.7 952.6L1293.2 956.6L1293.7 952.4L1294.2 956.7L1294.7 952.5L1295.2 956.3L1295.7 952.5L1296.2 957.1L1296.7 952.4L1297.2 957.5L1297.7 952.5L1298.2 957.2L1298.7 952.2L1299.2 957.2L1299.7 952.2L1300.2 957.1L1300.7 952.1L1301.2 956.9L1301.7 952.0L1302.2 956.9L1302.7 951.8L1303.2 956.7L1303.7 950.9L1304.2 956.3L1304.7 950.7L1305.2 957.1L1305.7 950.8L1306.2 959.3L1306.7 951.0L1307.2 959.7L1307.7 950.3L1308.2 957.5L1308.7 950.1L1309.2 956.1L1309.7 949.7L1310.2 954.1L1310.7 948.8L1311.2 952.7L1311.7 947.3L1312.2 951.2L1312.7 945.1L1313.2 948.6L1313.7 942.8L1314.2 945.8L1314.7 940.2L1315.2 943.2L1315.7 937.9L1316.2 941.2L1316.7 936.1L1317.2 940.1L1317.7 935.4L1318.2 939.8L1318.7 936.3L1319.2 941.7L1319.7 938.0L1320.2 943.6L1320.7 940.1L1321.2 946.0L1321.7 942.7L1322.2 948.8L1322.7 945.1L1323.2 950.8L1323.7 946.8L1324.2 952.1L1324.7 947.9L1325.2 953.6L1325.7 949.5L1326.2 954.3L1326.7 949.5L1327.2 955.3L1327.7 950.1L1328.2 955.5L1328.7 950.4L1329.2 956.2L1329.7 951.3L1330.2 956.8L1330.7 951.5L1331.2 957.2L1331.7 951.6L1332.2 957.2L1332.7 952.1L1333.2 957.4L1333.7 951.5L1334.2 957.2L1334.7 952.1L1335.2 956.9L1335.7 952.0L1336.2 957.0L1336.7 952.4L1337.2 956.6L1337.7 952.3L1338.2 956.7L1338.7 952.1L1339.2 956.9L1339.7 952.0L1340.2 957.2L1340.7 951.5L1341.2 957.7L1341.7 951.8L1342.2 957.0L1342.7 951.6L1343.2 957.1L1343.7 951.5L1344.2 956.8L1344.7 951.9L1345.2 957.0L1345.7 952.6L1346.2 957.0L1346.7 951.6L1347.2 957.5L1347.7 951.4L1348.2 956.9L1348.7 949.7L1349.2 957.5L1349.7 949.8L1350.2 957.2L1350.7 950.6L1351.2 957.3L1351.7 951.4L1352.2 958.1L1352.7 951.8L1353.2 957.8L1353.7 952.1L1354.2 957.0L1354.7 951.8L1355.2 957.0L1355.7 951.6L1356.2 956.6L1356.7 951.7L1357.2 956.6L1357.7 951.6L1358.2 956.8L1358.7 951.2L1359.2 956.5L1359.7 951.7L1360.2 956.8L1360.7 951.9L1361.2 956.5L1361.7 952.0L1362.2 957.0L1362.7 952.3L1363.2 957.1L1363.7 952.8L1364.2 957.0L1364.7 952.4L1365.2 957.1L1365.7 952.8L1366.2 957.3L1366.7 952.5L1367.2 957.5L1367.7 952.1L1368.2 957.5L1368.7 952.5L1369.2 957.4L1369.7 952.0L1370.2 956.9L1370.7 952.0L1371.2 957.2L1371.7 951.5L1372.2 956.7L1372.7 951.2L1373.2 956.7L1373.7 951.2L1374.2 956.7L1374.7 951.8L1375.2 956.6L1375.7 951.2L1376.2 956.5L1376.7 951.2L1377.2 956.7L1377.7 951.9L1378.2 956.7L1378.7 952.4L1379.2 957.2L1379.7 951.8L1380.2 956.8L1380.7 951.9L1381.2 957.0L1381.7 951.7L1382.2 957.3L1382.7 951.3L1383.2 957.6L1383.7 949.1L1384.2 957.6L1384.7 947.7L1385.2 957.2L1385.7 947.9L1386.2 957.6L1386.7 949.2L1387.2 957.3L1387.7 950.7L1388.2 957.9L1388.7 951.3L1389.2 957.6L1389.7 951.4L1390.2 957.7L1390.7 951.8L1391.2 957.2L1391.7 951.9L1392.2 957.6L1392.7 951.8L1393.2 957.7L1393.7 951.5L1394.2 958.0L1394.7 951.6L1395.2 957.4L1395.7 951.9L1396.2 957.7L1396.7 952.7L1397.2 957.5L1397.7 952.5L1398.2 957.1L1398.7 952.5L1399.2 957.0L1399.7 952.0L1400.2 956.8L1400.7 951.5L1401.2 957.2L1401.7 951.4L1402.2 957.1L1402.7 952.1L1403.2 957.0L1403.7 951.5L1404.2 957.3L1404.7 952.0L1405.2 957.1L1405.7 951.9L1406.2 956.9L1406.7 951.7L1407.2 956.8L1407.7 951.6L1408.2 956.7L1408.7 951.3L1409.2 956.3L1409.7 951.8L1410.2 956.7L1410.7 951.8L1411.2 956.5L1411.7 952.2L1412.2 956.3L1412.7 952.3L1413.2 956.6L1413.7 951.9L1414.2 956.7L1414.7 951.0L1415.2 956.8L1415.7 950.9L1416.2 956.2L1416.7 949.8L1417.2 955.6L1417.7 948.6L1418.0 955.0L1418.2 949.3L1418.7 954.9L1419.2 950.3L1419.7 955.2L1420.2 951.2L1420.7 955.5L1421.2 952.1L1421.7 956.1L1422.2 952.3L1422.7 956.7L1423.2 952.1L1423.7 957.0L1424.2 951.7L1424.7 957.1L1425.2 951.2L1425.7 957.6L1426.2 951.4L1426.7 957.3L1427.2 951.0L1427.7 956.7L1428.2 951.4L1428.7 956.8L1429.2 951.1L1429.7 956.5L1430.2 950.7L1430.7 955.1L1431.2 949.9L1431.7 954.6L1432.2 948.8L1432.7 953.9L1433.0 948.1L1433.2 953.6L1433.7 948.3L1434.2 954.3L1434.7 949.1L1435.2 954.8L1435.7 950.5L1436.2 955.6L1436.7 950.5L1437.2 956.5L1437.7 950.3L1438.2 956.6L1438.7 948.4L1439.2 956.5L1439.7 948.3L1440.2 956.5L1440.7 949.8L1441.2 956.3L1441.7 951.2L1442.2 956.7L1442.7 952.2L1443.2 956.7L1443.7 951.6L1444.2 956.6L1444.7 952.0L1445.2 956.4L1445.7 951.9L1446.2 956.7L1446.7 952.3L1447.2 956.7L1447.7 952.7L1448.2 956.8L1448.7 952.7L1449.2 956.8L1449.7 952.1L1450.2 956.4L1450.7 951.9L1451.2 956.7L1451.7 951.4L1452.2 956.9L1452.7 952.1L1453.2 957.0L1453.7 952.3L1454.2 957.4L1454.7 952.6L1455.2 957.0L1455.7 952.2L1456.2 956.5L1456.7 952.2L1457.2 956.1L1457.7 952.1L1458.2 957.0L1458.7 951.6L1459.2 956.9L1459.7 951.5L1460.2 957.5L1460.7 951.9L1461.2 957.1L1461.7 952.0L1462.2 956.9L1462.7 952.0L1463.2 956.2L1463.7 951.8L1464.2 956.8L1464.7 952.1L1465.2 957.4L1465.7 952.1L1466.2 957.8L1466.7 951.7L1467.2 959.2L1467.7 951.2L1468.2 959.5L1468.7 951.1L1469.2 961.4L1469.7 951.7L1470.2 959.4L1470.7 951.5L1471.2 957.8L1471.7 951.9L1472.2 956.8L1472.7 952.1L1473.2 957.1L1473.7 951.9L1474.2 956.6L1474.7 951.6L1475.2 956.3L1475.7 951.8L1476.2 957.2L1476.7 951.6L1477.2 957.6L1477.7 952.0L1478.2 957.3L1478.7 951.9L1479.2 957.4L1479.7 952.4L1480.2 956.6L1480.7 952.0L1481.2 956.1L1481.7 952.3L1482.2 956.3L1482.7 952.3L1483.2 956.2L1483.7 952.4L1484.2 956.5L1484.7 951.8L1485.2 956.8L1485.7 951.1L1486.2 956.6L1486.7 949.7L1487.2 956.7L1487.7 949.9L1488.2 956.7L1488.7 950.2L1489.2 957.3L1489.7 951.5L1490.2 957.1L1490.7 952.1L1491.2 957.4L1491.7 951.9L1492.2 957.1L1492.7 951.7L1493.2 956.6L1493.7 951.7L1494.2 956.7L1494.7 951.4L1495.2 956.4L1495.7 951.4L1496.2 956.2L1496.7 951.5L1497.2 956.9L1497.7 951.5L1498.2 958.1L1498.7 952.1L1499.2 959.4L1499.7 951.9L1500.2 960.7L1500.7 952.2L1501.2 960.3L1501.7 952.0L1502.2 961.1L1502.7 952.1L1503.2 960.3L1503.7 952.1L1504.2 957.9L1504.7 952.0L1505.2 956.3L1505.7 951.7L1506.2 957.0L1506.7 951.6L1507.2 957.0L1507.7 951.7L1508.2 957.7L1508.7 952.1L1509.2 957.4L1509.7 951.7L1510.2 957.0L1510.7 951.8L1511.2 956.7L1511.7 951.5L1512.2 956.9L1512.7 951.5L1513.2 956.8L1513.7 950.9L1514.2 956.5L1514.7 950.9L1515.2 955.9L1515.7 951.4L1516.2 955.8L1516.7 951.4L1517.2 955.4L1517.7 951.1L1518.2 955.2L1518.7 949.9L1519.2 955.3L1519.7 948.0L1520.2 954.7L1520.7 948.1L1521.2 954.3L1521.7 948.1L1522.2 953.6L1522.7 948.2L1523.2 953.4L1523.7 948.7L1524.2 953.1L1524.7 948.2L1525.2 952.7L1525.7 947.8L1526.2 952.2L1526.7 946.8L1527.2 951.1L1527.7 945.9L1528.2 949.8L1528.7 945.1L1529.2 948.8L1529.7 943.1L1530.2 949.7L1530.7 940.5L1531.2 949.7L1531.7 938.9L1532.2 950.4L1532.7 937.0L1533.2 948.1L1533.7 937.4L1534.2 945.0L1534.7 938.1L1535.2 942.8L1535.7 938.3L1536.2 942.4L1536.7 937.4L1537.2 941.8L1537.7 936.9L1538.2 941.6L1538.7 936.1L1539.2 940.7L1539.7 935.6L1540.2 940.6L1540.5 935.4L1540.7 940.2L1541.2 935.3L1541.7 940.4L1542.2 935.1L1542.7 940.7L1543.2 936.2L1543.7 940.7L1544.2 936.0L1544.7 941.6L1545.2 937.2L1545.7 942.6L1546.2 937.9L1546.7 943.6L1547.2 939.0L1547.7 944.9L1548.2 940.4L1548.7 946.2L1549.2 940.8L1549.7 948.3L1550.2 942.2L1550.7 949.0L1551.2 942.5L1551.7 950.0L1552.2 943.4L1552.7 949.3L1553.2 943.5L1553.7 949.4L1554.2 944.1L1554.7 949.2L1555.2 944.2L1555.7 948.7L1556.2 943.1L1556.7 946.0L1557.2 939.3L1557.7 940.4L1558.2 932.1L1558.7 930.9L1559.2 921.9L1559.7 921.1L1560.2 916.2L1560.7 921.3L1561.2 922.3L1561.7 932.3L1562.2 933.1L1562.7 942.2L1563.2 941.5L1563.7 948.2L1564.2 946.3L1564.7 951.4L1565.2 948.6L1565.7 952.9L1566.2 949.4L1566.7 954.2L1567.2 949.3L1567.7 954.9L1568.2 949.7L1568.7 955.2L1569.2 950.2L1569.7 955.2L1570.2 950.5L1570.7 955.7L1571.2 950.5L1571.7 955.9L1572.2 951.4L1572.7 957.0L1573.2 951.7L1573.7 958.6L1574.2 951.8L1574.7 958.2L1575.2 951.4L1575.7 957.8L1576.2 951.1L1576.7 956.9L1577.2 950.7L1577.7 956.6L1578.2 951.5L1578.7 956.4L1579.2 951.8L1579.7 956.3L1580.2 951.9L1580.7 956.3L1581.2 952.2L1581.7 956.4L1582.2 951.6L1582.7 956.1L1583.2 951.4L1583.7 956.5L1584.2 951.7L1584.7 956.5L1585.2 951.5L1585.7 956.4L1586.2 951.8L1586.7 956.4L1587.2 951.7L1587.7 956.5L1588.2 951.9L1588.7 957.1L1589.2 952.6L1589.7 957.0L1590.2 952.2L1590.7 956.7L1591.2 951.7L1591.7 957.1L1592.2 951.6L1592.7 957.0L1593.2 951.4L1593.7 956.4L1594.2 951.0L1594.7 956.6L1595.2 951.5L1595.7 956.4L1596.2 951.1L1596.7 956.9L1597.2 951.5L1597.7 956.8L1598.2 951.0L1598.7 956.7L1599.2 951.6L1599.7 956.6L1600.2 951.8L1600.7 956.8L1601.2 952.1L1601.7 956.8L1602.2 951.8L1602.7 957.1L1603.2 951.4L1603.7 957.3L1604.2 951.6L1604.7 957.0L1605.2 951.6L1605.7 956.6L1606.2 951.8L1606.7 956.4L1607.2 952.1L1607.7 956.6L1608.2 952.0L1608.7 956.9L1609.2 952.0L1609.7 957.2L1610.2 952.4L1610.7 957.4L1611.2 952.0L1611.7 957.0L1612.2 952.0L1612.7 957.3L1613.2 952.1L1613.7 956.7L1614.2 951.8L1614.7 957.1L1615.2 951.4L1615.7 956.9L1616.2 951.8L1616.7 957.0L1617.2 951.5L1617.7 956.3L1618.2 951.2L1618.7 956.5L1619.2 951.0L1619.7 956.4L1620.2 951.5L1620.7 956.1L1621.2 952.2L1621.7 956.0L1622.2 952.5L1622.7 956.2L1623.2 952.4L1623.7 956.4L1624.2 951.8L1624.7 956.4L1625.2 951.7L1625.7 956.6L1626.2 951.6L1626.7 957.0L1627.2 952.0L1627.7 956.6L1628.2 951.8L1628.7 957.0L1629.2 951.4L1629.7 957.3L1630.2 951.7L1630.7 956.5L1631.2 950.7L1631.7 956.5L1632.2 951.5L1632.7 956.5L1633.2 951.4L1633.7 956.0L1634.2 951.5L1634.7 956.1L1635.2 951.1L1635.7 956.7L1636.2 950.6L1636.7 957.3L1637.2 950.0L1637.7 957.4L1638.2 950.4L1638.7 958.8L1639.2 951.3L1639.7 959.1L1640.2 952.2L1640.7 958.6L1641.2 951.8L1641.7 957.9L1642.2 952.1L1642.7 956.9L1643.2 951.3L1643.7 956.1L1644.2 951.5L1644.7 956.4L1645.2 950.9L1645.7 956.6L1646.2 950.6L1646.7 956.5L1647.2 950.9L1647.7 956.1L1648.2 949.9L1648.7 953.4L1649.2 947.5L1649.7 951.3L1650.2 944.7L1650.7 949.2L1651.2 942.4L1651.7 945.6L1652.2 935.3L1652.7 935.6L1653.2 924.8L1653.7 927.2L1654.2 918.3L1654.4 922.1L1654.7 918.7L1655.2 926.9L1655.7 924.2L1656.2 932.0L1656.7 929.8L1657.2 936.8L1657.7 933.9L1658.2 940.1L1658.7 937.5L1659.2 943.8L1659.7 941.1L1660.2 947.9L1660.7 943.4L1661.2 949.0L1661.7 945.0L1662.2 951.5L1662.7 946.6L1663.2 953.5L1663.7 948.7L1664.2 955.4L1664.7 950.0L1665.2 957.1L1665.7 951.2L1666.2 958.7L1666.7 951.5L1667.2 959.7L1667.7 951.5L1668.2 958.9L1668.7 951.7L1669.2 958.0L1669.7 952.0L1670.2 957.2L1670.7 952.4L1671.2 957.0L1671.7 951.7L1672.2 956.9L1672.7 951.4L1673.2 956.6L1673.7 951.0L1674.2 956.8L1674.7 951.1L1675.2 957.0L1675.7 951.6L1676.2 957.2L1676.7 951.4L1677.2 957.3L1677.7 951.3L1678.2 956.7L1678.7 951.3L1679.2 957.3L1679.7 951.0L1680.2 957.4L1680.7 949.8L1681.2 957.0L1681.7 949.6L1682.2 956.4L1682.7 949.1L1683.2 956.5L1683.7 950.4L1684.2 956.3L1684.7 951.4L1685.2 956.4L1685.7 952.3L1686.2 956.4L1686.7 951.7L1687.2 956.6L1687.7 951.5L1688.2 956.7L1688.7 951.6L1689.2 957.1L1689.7 951.7L1690.2 957.0L1690.7 951.6L1691.2 956.7L1691.7 951.1L1692.2 956.8L1692.7 951.8L1693.2 956.2L1693.7 951.9L1694.2 955.9L1694.7 951.4L1695.2 955.5L1695.7 951.3L1696.2 954.9L1696.7 950.7L1697.2 954.9L1697.7 950.1L1698.2 954.7L1698.7 950.3L1699.2 954.6L1699.7 949.5L1700.2 953.9L1700.7 948.4L1701.2 952.8L1701.7 947.5L1702.2 952.5L1702.7 946.9L1703.2 950.9L1703.7 945.9L1704.2 949.6L1704.7 944.9L1705.2 948.3L1705.7 943.7L1706.2 946.8L1706.7 941.5L1707.2 944.5L1707.7 938.5L1708.2 942.2L1708.7 936.0L1709.2 939.7L1709.7 926.4L1710.2 918.3L1710.7 904.9L1711.2 897.4L1711.7 887.5L1712.2 867.3L1712.7 844.0L1713.2 835.1L1713.7 825.9L1714.2 818.5L1714.7 809.3L1715.0 805.3L1715.2 809.7L1715.7 823.9L1716.2 836.2L1716.7 850.6L1717.2 862.8L1717.7 866.8L1718.2 867.5L1718.7 870.4L1719.2 871.1L1719.7 873.9L1720.2 874.7L1720.7 878.3L1721.2 885.0L1721.7 894.0L1722.2 900.3L1722.7 910.8L1723.2 914.8L1723.7 929.4L1724.2 930.5L1724.7 943.4L1725.2 940.7L1725.7 949.3L1726.2 943.4L1726.7 950.5L1727.2 945.2L1727.7 952.1L1728.2 946.7L1728.7 955.2L1729.2 948.7L1729.7 956.8L1730.2 950.3L1730.7 959.0L1731.2 950.5L1731.7 957.2L1732.2 950.5L1732.7 955.3L1733.2 951.0L1733.7 955.1L1734.2 950.9L1734.7 955.9L1735.2 951.2L1735.7 956.5L1736.2 951.1L1736.7 956.6L1737.2 951.6L1737.7 956.5L1738.2 951.8L1738.7 956.1L1739.2 951.8L1739.7 956.6L1740.2 950.3L1740.7 957.7L1741.2 949.8L1741.7 958.9L1742.2 947.9L1742.7 959.8L1743.2 949.9L1743.7 958.1L1744.2 950.8L1744.7 956.9L1745.2 952.6L1745.7 956.4L1746.2 952.3L1746.7 956.4L1747.2 952.2L1747.7 956.2L1748.2 951.5L1748.7 956.2L1749.2 951.0L1749.7 956.4L1750.2 950.5L1750.7 956.4L1751.2 948.9L1751.7 956.4L1752.2 950.3L1752.7 956.6L1753.2 951.7L1753.7 956.3L1754.2 952.5L1754.7 956.6L1755.2 952.3L1755.7 956.7L1756.2 952.0L1756.7 956.8L1757.2 952.4L1757.7 956.5L1758.2 951.8L1758.7 956.3L1759.2 951.0L1759.7 956.2L1760.2 951.0L1760.7 956.0L1761.2 950.2L1761.7 955.2L1762.2 950.4L1762.7 954.3L1763.2 947.4L1763.7 949.3L1764.2 941.7L1764.7 944.5L1765.2 936.9L1765.7 939.0L1766.2 923.2L1766.7 920.1L1767.2 914.8L1767.7 916.8L1768.2 912.3L1768.7 913.9L1769.2 909.6L1769.7 901.2L1770.0 893.8L1770.2 900.6L1770.7 912.0L1771.2 921.5L1771.7 918.8L1772.2 922.4L1772.7 918.9L1773.2 924.0L1773.7 919.4L1774.2 924.8L1774.7 918.2L1775.2 926.4L1775.7 922.0L1776.2 934.6L1776.7 933.7L1777.2 940.7L1777.7 938.6L1778.2 944.9L1778.7 942.6L1779.2 948.7L1779.7 946.6L1780.2 952.6L1780.7 950.3L1781.2 954.8L1781.7 950.2L1782.2 955.6L1782.7 951.5L1783.2 956.2L1783.7 952.1L1784.2 956.8L1784.7 952.5L1785.2 957.0L1785.7 952.3L1786.2 957.3L1786.7 952.3L1787.2 956.8L1787.7 952.7L1788.2 957.0L1788.7 953.0L1789.2 957.1L1789.7 952.7L1790.2 957.5L1790.7 952.9L1791.2 957.2L1791.7 952.6L1792.2 957.3L1792.7 951.8L1793.2 956.6L1793.7 952.0L1794.2 958.6L1794.7 952.2L1795.2 959.9L1795.7 952.1L1796.2 960.5L1796.7 952.7L1797.2 960.2L1797.7 952.5L1798.2 958.3L1798.7 952.6L1799.2 957.5L1799.7 952.9L1800.2 957.7L1800.7 953.0L1801.2 957.8L1801.7 953.0L1802.2 958.0L1802.7 952.6L1803.2 958.0L1803.7 952.6L1804.2 957.5L1804.7 952.9L1805.2 957.3L1805.7 952.6L1806.2 957.4L1806.7 952.9L1807.2 957.3L1807.7 952.6L1808.2 957.0L1808.7 952.9L1809.2 957.2L1809.7 952.5L1810.2 957.3L1810.7 952.5L1811.2 957.3L1811.7 952.7L1812.2 956.8L1812.7 952.8L1813.2 956.9L1813.7 952.4L1814.2 956.7L1814.7 951.6L1815.2 957.1L1815.7 951.6L1816.2 957.5L1816.7 951.2L1817.2 957.8L1817.7 950.8L1818.2 957.3L1818.7 951.2L1819.2 957.5L1819.7 952.1L1820.2 957.6L1820.7 952.3L1821.2 957.9L1821.7 952.6L1822.2 959.9L1822.7 952.2L1823.2 960.9L1823.7 952.6L1824.2 960.2L1824.7 953.0L1825.2 959.1L1825.7 952.6L1826.2 958.2L1826.7 953.3L1827.2 957.6L1827.7 953.3L1828.2 957.9L1828.7 953.1L1829.2 958.0L1829.7 953.2L1830.2 957.4L1830.7 953.1L1831.2 957.1L1831.7 953.3L1832.2 956.9L1832.7 953.0L1833.2 957.9L1833.7 953.0L1834.2 959.6L1834.7 953.2L1835.2 960.7L1835.7 953.5L1836.2 958.8L1836.7 953.1L1837.2 958.8L1837.7 952.6L1838.2 957.9L1838.7 952.7L1839.2 957.6L1839.7 952.4L1840.2 957.1L1840.7 953.0L1841.2 956.6L1841.7 952.7L1842.2 956.9L1842.7 953.0L1843.2 957.0L1843.7 952.7L1844.2 957.5L1844.7 952.7L1845.2 957.5L1845.7 952.5L1846.2 957.2L1846.7 952.7L1847.2 957.5L1847.7 952.6L1848.2 957.9L1848.7 952.4L1849.2 959.0L1849.7 952.5L1850.2 959.3L1850.7 952.7L1851.2 958.5L1851.7 952.5L1852.2 957.5L1852.7 952.8L1853.2 956.7L1853.7 952.4L1854.2 957.0L1854.7 952.7L1855.2 957.3L1855.7 952.6L1856.2 957.1L1856.7 953.0L1857.2 957.3L1857.7 953.0L1858.2 957.2L1858.7 953.6L1859.2 956.9L1859.7 953.5L1860.2 957.2L1860.7 952.9L1861.2 957.2L1861.7 952.4L1862.2 957.7L1862.7 952.7L1863.2 957.6L1863.7 952.5L1864.2 957.2L1864.7 952.9L1865.2 957.4L1865.7 953.1L1866.2 957.2L1866.7 952.5L1867.2 957.5L1867.7 953.0L1868.2 957.4L1868.7 952.6L1869.2 957.5L1869.7 952.8L1870.2 957.9L1870.7 953.0L1871.2 958.6L1871.7 953.0L1872.2 958.9L1872.7 953.0L1873.2 959.2L1873.7 952.7L1874.2 959.8L1874.7 952.2L1875.2 959.3L1875.7 952.8L1876.2 958.4L1876.7 952.8L1877.2 957.2L1877.7 952.9L1878.2 957.6L1878.7 953.1L1879.2 957.5L1879.7 953.2L1880.2 956.9L1880.7 952.9L1881.2 956.9L1881.7 952.6L1882.2 956.7L1882.7 951.5L1883.2 956.4L1883.7 950.5L1884.2 956.0L1884.7 950.1L1885.2 955.2L1885.7 949.0L1886.2 954.6L1886.7 947.6L1887.2 954.7L1887.7 948.4L1888.2 954.4L1888.7 948.5L1889.2 954.6L1889.4 949.5L1889.7 954.3L1890.2 949.8L1890.7 954.5L1891.2 950.4L1891.7 954.5L1892.2 951.1L1892.7 954.9L1893.2 951.5L1893.7 955.7L1894.2 951.9L1894.7 956.1L1895.2 952.5L1895.7 956.4L1896.2 952.4L1896.7 956.8L1897.2 952.5L1897.7 956.7L1898.2 952.7L1898.7 956.3L1899.2 951.9L1899.7 956.2L1900.2 951.3L1900.7 955.7L1901.2 950.7L1901.7 955.3L1902.2 950.7L1902.7 955.0L1903.2 950.4L1903.7 954.8L1904.0 950.0L1904.2 954.6L1904.7 950.6L1905.2 955.3L1905.7 950.7L1906.2 956.1L1906.7 950.8L1907.2 957.0L1907.7 951.3L1908.2 957.3L1908.7 952.3L1909.2 957.4L1909.7 952.8L1910.2 957.5L1910.7 953.4L1911.2 957.1L1911.7 953.5L1912.2 957.3L1912.7 953.1L1913.2 957.1L1913.7 953.1L1914.2 957.3L1914.7 953.1L1915.2 957.4L1915.7 953.6L1916.2 957.4L1916.7 953.7L1917.2 958.2L1917.7 953.3L1918.2 958.0L1918.7 953.4L1919.2 958.6L1919.7 953.7L1920.2 957.9L1920.7 953.6L1921.2 957.9L1921.7 953.6L1922.2 958.0L1922.7 953.0L1923.2 957.9L1923.7 953.2L1924.2 958.1L1924.7 953.5L1925.2 957.9L1925.7 953.1L1926.2 957.9L1926.7 953.5L1927.2 958.2L1927.7 953.3L1928.2 958.1L1928.7 952.7L1929.2 958.2L1929.7 953.1L1930.2 957.6L1930.7 953.6L1931.2 957.8L1931.7 953.7L1932.2 957.7L1932.7 953.3L1933.2 958.0L1933.7 953.2L1934.2 958.6L1934.7 953.2L1935.2 959.1L1935.7 953.6L1936.2 959.8L1936.7 953.9L1937.2 960.2L1937.7 954.3L1938.2 959.8L1938.7 953.9L1939.2 958.4L1939.7 954.3L1940.2 957.9L1940.7 953.5L1941.2 957.6L1941.7 951.9L1942.2 957.2L1942.7 949.9L1943.2 957.2L1943.7 950.0L1944.2 957.2L1944.7 952.0L1945.2 957.5L1945.7 952.9L1946.2 957.5L1946.7 953.4L1947.2 957.7L1947.7 952.5L1948.2 957.8L1948.7 951.6L1949.2 958.3L1949.7 951.8L1950.2 958.2L1950.7 952.5L1951.2 957.9L1951.7 953.4L1952.2 957.8L1952.7 953.4L1953.2 957.8L1953.7 953.6L1954.2 958.3L1954.7 953.3L1955.2 958.0L1955.7 953.2L1956.2 958.1L1956.7 953.4L1957.2 957.5L1957.7 954.1L1958.2 957.7L1958.7 953.8L1959.2 957.7L1959.7 953.9L1960.2 957.5L1960.7 953.4L1961.2 957.8L1961.7 953.3L1962.2 957.9L1962.7 952.9L1963.2 958.5L1963.7 953.0L1964.2 959.1L1964.7 952.4L1965.2 957.9L1965.7 951.4L1966.2 956.5L1966.7 950.4L1967.2 954.2L1967.7 949.1L1968.2 953.0L1968.7 948.0L1969.2 951.9L1969.7 947.1L1970.2 951.0L1970.7 946.0L1971.0 950.1L1971.2 945.7L1971.7 950.4L1972.2 946.6L1972.7 951.8L1973.2 947.8L1973.7 953.5L1974.2 949.3L1974.7 955.0L1975.2 950.8L1975.7 956.4L1976.2 952.1L1976.7 956.9L1977.2 952.9L1977.7 957.7L1978.2 953.1L1978.7 957.8L1979.2 953.5L1979.7 957.9L1980.2 954.0L1980.7 957.9L1981.2 954.1L1981.7 958.3L1982.2 954.0L1982.7 958.0L1983.2 954.2L1983.7 958.3L1984.2 954.2L1984.7 957.7L1985.2 954.3L1985.7 957.6L1986.2 954.1L1986.7 958.1L1987.2 953.8L1987.7 958.4L1988.2 953.1L1988.7 958.3L1989.2 953.2L1989.7 958.1L1990.2 953.1L1990.7 957.6L1991.2 953.5L1991.7 958.2L1992.2 953.4L1992.7 958.8L1993.2 954.0L1993.7 960.3L1994.2 954.3L1994.7 960.2L1995.2 954.1L1995.7 961.2L1996.2 954.2L1996.7 961.1L1997.2 954.4L1997.7 960.6L1998.2 953.8L1998.7 959.7L1999.2 952.4L1999.7 958.7L2000.2 952.0L2000.7 958.0L2001.2 952.7L2001.7 958.4L2002.2 953.8L2002.7 958.7L2003.2 954.5L2003.7 958.2L2004.2 954.4L2004.7 958.2L2005.2 954.7L2005.7 958.2L2006.2 954.3L2006.7 957.8L2007.2 954.6L2007.7 958.1L2008.2 954.2L2008.7 958.4L2009.2 954.2L2009.7 958.5L2010.2 954.0L2010.7 958.9L2011.2 954.2L2011.7 958.9L2012.2 954.3L2012.7 958.3L2013.2 953.9L2013.7 958.3L2014.2 954.0L2014.7 958.7L2015.2 954.1L2015.7 958.7L2016.2 952.8L2016.7 958.2L2017.2 951.1L2017.7 957.8L2018.2 950.2L2018.7 958.2L2019.2 951.1L2019.7 958.5L2020.2 951.9L2020.7 958.8L2021.2 953.6L2021.7 958.8L2022.2 953.7L2022.7 958.2L2023.2 954.1L2023.7 957.7L2024.2 954.1L2024.7 957.8L2025.2 953.0L2025.7 958.2L2026.2 951.8L2026.7 958.2L2027.2 951.4L2027.7 958.9L2028.2 951.7L2028.7 958.6L2029.2 953.0L2029.7 958.6L2030.2 953.4L2030.7 958.2L2031.2 953.5L2031.7 958.3L2032.2 954.1L2032.7 958.7L2033.2 954.7L2033.7 959.0L2034.2 954.2L2034.7 958.4L2035.2 954.3L2035.7 959.0L2036.2 954.1L2036.7 958.5L2037.2 954.0L2037.7 958.2L2038.2 953.9L2038.7 958.2L2039.2 953.3L2039.7 958.2L2040.2 953.9L2040.7 958.1L2041.2 954.1L2041.7 957.8L2042.2 954.4L2042.7 958.1L2043.2 954.8L2043.7 957.9L2044.2 954.7L2044.7 958.2L2045.2 954.5L2045.7 958.0L2046.2 954.6L2046.7 958.4L2047.2 954.4L2047.7 958.8L2048.2 954.7L2048.7 958.3L2049.2 954.1L2049.7 958.9L2050.2 953.6L2050.7 958.9L2051.2 953.1L2051.7 958.9L2052.2 953.3L2052.7 959.9L2053.2 953.9L2053.7 960.9L2054.2 954.1L2054.7 960.3L2055.2 954.3L2055.7 959.7L2056.2 954.3L2056.7 959.3L2057.2 954.5L2057.7 958.6L2058.2 954.5L2058.7 958.5L2059.2 954.6L2059.7 958.1L2060.2 954.7L2060.7 958.0L2061.2 954.1L2061.7 958.6L2062.2 953.2L2062.7 958.5L2063.2 952.2L2063.7 958.6L2064.2 952.9L2064.7 958.2L2065.2 953.7L2065.7 958.1L2066.2 954.6L2066.7 957.8L2067.2 954.5L2067.7 958.0L2068.2 954.7L2068.7 958.1L2069.2 954.6L2069.7 958.1L2070.2 954.9L2070.7 958.6L2071.2 954.8L2071.7 959.0L2072.2 954.6L2072.7 959.1L2073.2 954.5L2073.7 959.0L2074.2 954.6L2074.7 958.9L2075.2 954.8L2075.7 958.4L2076.2 954.6L2076.7 958.2L2077.2 954.6L2077.7 958.3L2078.2 954.6L2078.7 958.0L2079.2 954.4L2079.7 958.2L2080.2 954.3L2080.7 958.1L2081.2 954.2L2081.7 957.9L2082.2 954.0L2082.7 958.2L2083.2 954.0L2083.7 958.2L2084.2 954.1L2084.7 958.3L2085.2 954.2L2085.7 958.2L2086.2 954.8L2086.7 958.2L2087.2 954.6L2087.7 958.6L2088.2 954.4L2088.7 960.3L2089.2 954.6L2089.7 961.1L2090.2 954.6L2090.7 960.7L2091.2 953.8L2091.7 959.9L2092.2 952.1L2092.7 958.9L2093.2 951.4L2093.7 958.3L2094.2 953.0L2094.7 958.8L2095.2 953.7L2095.7 958.5L2096.2 954.7L2096.7 958.7L2097.2 954.8L2097.7 958.5L2098.2 954.6L2098.7 958.0L2099.2 954.3L2099.7 958.3L2100.2 954.8L2100.7 958.4L2101.2 954.8L2101.7 958.6L2102.2 954.5L2102.7 958.6L2103.2 954.7L2103.7 958.4L2104.2 954.7L2104.7 958.3L2105.2 954.9L2105.7 958.8L2106.2 954.8L2106.7 959.1L2107.2 954.4L2107.7 959.1L2108.2 954.5L2108.7 958.7L2109.2 953.7L2109.7 959.2L2110.2 952.7L2110.7 958.8L2111.2 950.9L2111.7 959.2L2112.2 952.7L2112.7 958.8L2113.2 953.8L2113.7 958.7L2114.2 954.3L2114.7 958.5L2115.2 954.1L2115.7 958.7L2116.2 953.8L2116.7 958.2L2117.2 953.8L2117.7 958.7L2118.2 954.0L2118.7 958.4L2119.2 954.0L2119.7 959.2L2120.2 954.3L2120.7 959.4L2121.2 954.2L2121.7 959.5L2122.2 954.0L2122.7 959.5L2123.2 954.1L2123.7 959.5L2124.2 953.0L2124.7 959.2L2125.2 952.3L2125.7 958.8L2126.2 952.2L2126.7 958.9L2127.2 953.3L2127.7 958.6L2128.2 953.5L2128.7 958.4L2129.2 954.8L2129.7 958.2L2130.2 953.5L2130.7 958.0L2131.2 952.2L2131.7 958.0L2132.2 951.9L2132.7 959.0L2133.2 952.4L2133.7 960.3L2134.2 953.7L2134.7 961.1L2135.2 955.1L2135.7 961.0L2136.2 955.0L2136.7 960.7L2137.2 954.9L2137.7 958.7L2138.2 954.5L2138.7 958.4L2139.2 954.5L2139.7 958.9L2140.2 954.7L2140.7 958.9L2141.2 954.5L2141.7 959.3L2142.2 954.7L2142.7 958.9L2143.2 954.6L2143.7 958.6L2144.2 954.7L2144.7 958.7L2145.2 954.3L2145.7 958.8L2146.2 954.3L2146.7 959.2L2147.2 954.2L2147.7 959.1L2148.2 954.1L2148.7 959.2L2149.2 954.0L2149.7 958.7L2150.2 954.4L2150.7 959.0L2151.2 954.7L2151.7 958.6L2152.2 954.7L2152.7 958.7L2153.2 954.8L2153.7 958.8L2154.2 954.8L2154.7 958.8"/>
<path class="curve" stroke="#ee0000" stroke-width="4.4" d="M872.5 700V948M919.0 810V948M968.8 842V948"/>
<path class="curve" stroke="#000000" stroke-width="5.2" d="M847.7 1388.9L848.2 1383.8L848.7 1388.4L849.2 1383.3L849.7 1388.6L850.2 1383.1L850.7 1388.7L851.2 1383.2L851.7 1388.9L852.2 1383.1L852.7 1389.0L853.2 1384.0L853.7 1389.1L854.2 1383.9L854.7 1389.0L855.2 1384.1L855.7 1389.3L856.2 1383.6L856.7 1389.9L857.2 1382.7L857.7 1390.3L858.2 1382.8L858.7 1389.7L859.2 1383.4L859.7 1390.3L860.2 1383.3L860.7 1389.6L861.2 1383.7L861.7 1389.2L862.2 1383.5L862.7 1389.4L863.2 1383.6L863.7 1389.2L864.2 1384.0L864.7 1388.8L865.2 1383.9L865.7 1389.0L866.2 1384.3L866.7 1389.1L867.2 1384.2L867.7 1388.9L868.2 1384.0L868.7 1389.2L869.2 1383.9L869.7 1389.0L870.2 1383.4L870.7 1389.1L871.2 1383.0L871.7 1389.4L872.2 1383.3L872.5 1389.6L872.7 1383.7L873.2 1389.4L873.7 1383.1L874.2 1390.0L874.7 1383.5L875.2 1389.9L875.7 1383.4L876.2 1390.1L876.7 1383.3L877.2 1390.5L877.7 1383.2L878.2 1390.4L878.7 1383.5L879.2 1390.0L879.7 1383.7L880.2 1390.0L880.7 1383.8L881.2 1390.2L881.7 1383.4L882.2 1390.1L882.7 1383.2L883.2 1391.5L883.7 1383.0L884.2 1392.7L884.7 1383.5L885.2 1390.8L885.7 1383.2L886.2 1390.2L886.7 1383.4L887.2 1388.6L887.7 1383.5L888.2 1388.9L888.7 1383.4L889.2 1389.0L889.7 1383.7L890.2 1389.3L890.7 1384.2L891.2 1388.8L891.7 1383.8L892.2 1389.2L892.7 1384.0L893.2 1388.8L893.7 1384.4L894.2 1388.9L894.7 1383.8L895.2 1388.3L895.7 1383.5L896.2 1388.4L896.7 1384.2L897.2 1389.9L897.7 1384.3L898.2 1390.9L898.7 1384.2L899.2 1393.8L899.7 1384.7L900.2 1391.8L900.7 1384.3L901.2 1391.0L901.7 1384.2L902.2 1389.6L902.7 1383.8L903.2 1389.7L903.7 1383.6L904.2 1389.7L904.7 1383.0L905.2 1390.0L905.7 1383.0L906.2 1389.9L906.7 1383.8L907.2 1389.4L907.7 1383.8L908.2 1389.8L908.7 1383.9L909.2 1389.5L909.7 1383.9L910.2 1389.5L910.7 1384.7L911.2 1389.3L911.7 1384.6L912.2 1389.4L912.7 1384.1L913.2 1388.6L913.7 1384.3L914.2 1388.4L914.7 1383.7L915.2 1388.9L915.7 1383.8L916.2 1388.6L916.7 1382.9L917.2 1389.3L917.7 1383.1L918.2 1388.9L918.7 1383.4L919.2 1389.0L919.7 1383.8L920.2 1388.6L920.7 1383.9L921.2 1388.7L921.7 1384.1L922.2 1388.6L922.3 1384.3L922.7 1388.7L923.2 1384.2L923.7 1388.3L924.2 1383.4L924.7 1388.8L925.2 1383.2L925.7 1388.8L926.2 1383.0L926.7 1388.9L927.2 1383.6L927.7 1388.5L928.2 1383.8L928.7 1389.1L929.2 1384.0L929.7 1388.7L930.2 1384.4L930.7 1389.4L931.2 1384.0L931.7 1389.8L932.2 1383.4L932.7 1389.5L933.2 1383.9L933.7 1389.6L934.2 1384.2L934.7 1389.2L935.2 1384.5L935.7 1388.9L936.2 1384.4L936.7 1389.2L937.2 1384.5L937.7 1388.8L938.2 1384.9L938.7 1388.7L939.2 1384.6L939.7 1388.8L940.2 1384.8L940.7 1388.5L941.2 1384.5L941.7 1388.6L942.2 1384.6L942.7 1388.6L943.2 1384.4L943.7 1388.9L944.2 1384.1L944.7 1388.9L945.2 1384.5L945.7 1388.9L946.2 1384.0L946.7 1388.8L947.2 1383.8L947.7 1388.6L948.2 1384.0L948.7 1388.6L949.2 1383.7L949.7 1388.7L950.2 1383.6L950.7 1389.3L951.2 1383.7L951.7 1388.9L952.2 1383.7L952.7 1388.9L953.2 1383.9L953.7 1388.8L954.2 1384.3L954.7 1388.2L955.2 1384.4L955.7 1388.5L956.2 1384.4L956.7 1389.2L957.2 1384.6L957.7 1389.8L958.2 1384.1L958.7 1391.8L959.2 1383.9L959.7 1391.8L960.2 1384.0L960.7 1390.9L961.2 1384.0L961.7 1389.4L962.2 1384.0L962.7 1388.8L963.2 1384.7L963.7 1388.8L964.2 1384.6L964.7 1389.3L965.2 1384.7L965.7 1388.8L966.2 1384.3L966.7 1388.5L967.2 1384.4L967.7 1388.5L968.2 1384.3L968.7 1388.6L969.2 1384.1L969.7 1388.8L970.2 1384.2L970.7 1388.9L971.2 1384.4L971.6 1388.7L971.7 1384.3L972.2 1388.3L972.7 1384.3L973.2 1388.7L973.7 1384.2L974.2 1388.4L974.7 1384.2L975.2 1388.4L975.7 1384.3L976.2 1388.4L976.7 1384.6L977.2 1388.7L977.7 1384.3L978.2 1388.9L978.7 1384.1L979.2 1388.7L979.7 1383.7L980.2 1388.6L980.7 1384.3L981.2 1388.5L981.7 1384.0L982.2 1389.2L982.7 1384.1L983.2 1389.4L983.7 1384.6L984.2 1389.0L984.7 1384.0L985.2 1388.8L985.7 1384.1L986.2 1388.8L986.7 1383.7L987.2 1388.7L987.7 1383.3L988.2 1389.1L988.7 1384.0L989.2 1389.7L989.7 1384.0L990.2 1388.9L990.7 1384.4L991.2 1388.9L991.7 1384.8L992.2 1388.5L992.7 1384.5L993.2 1389.1L993.7 1384.2L994.2 1389.5L994.7 1384.4L995.2 1389.8L995.7 1384.5L996.2 1389.4L996.7 1384.8L997.2 1388.9L997.7 1384.6L998.2 1388.8L998.7 1384.8L999.2 1389.0L999.7 1385.0L1000.2 1389.2L1000.7 1384.8M1208.2 1389.6L1208.7 1383.7L1209.2 1389.6L1209.7 1383.8L1210.2 1389.5L1210.7 1383.8L1211.2 1389.4L1211.7 1384.4L1212.2 1389.0L1212.7 1384.5L1213.2 1388.7L1213.7 1384.4L1214.2 1388.7L1214.7 1385.0L1215.2 1388.6L1215.7 1384.7L1216.2 1388.5L1216.7 1385.0L1217.2 1388.3L1217.7 1385.0L1218.2 1388.4L1218.7 1384.6L1219.2 1388.7L1219.7 1384.5L1220.2 1388.8L1220.7 1384.2L1220.8 1388.9L1221.2 1384.0L1221.7 1388.7L1222.2 1384.2L1222.7 1388.8L1223.2 1384.8L1223.7 1388.7L1224.2 1384.9L1224.7 1389.3L1225.2 1384.7L1225.7 1389.1L1226.2 1384.6L1226.7 1389.5L1227.2 1384.8L1227.7 1389.1L1228.2 1384.8L1228.7 1389.1L1229.2 1385.4L1229.7 1389.3L1230.2 1384.8L1230.7 1389.4L1231.2 1385.0L1231.7 1389.5L1232.2 1384.7L1232.7 1389.7L1233.2 1384.8L1233.7 1389.1M1428.2 1384.8L1428.7 1389.1L1429.2 1385.4L1429.7 1388.5L1430.2 1385.4L1430.7 1389.4L1431.2 1385.4L1431.7 1390.2L1432.2 1385.4L1432.7 1391.0L1433.2 1385.6L1433.5 1391.8L1433.7 1385.1L1434.2 1390.9L1434.7 1385.3L1435.2 1390.9L1435.7 1384.8L1436.2 1389.7L1436.7 1385.2L1437.2 1389.9L1437.7 1384.8L1438.2 1389.8L1438.7 1385.3M1542.7 1386.1L1543.2 1389.0L1543.7 1386.4L1544.2 1389.0L1544.7 1386.4L1545.2 1388.8L1545.7 1386.0L1546.2 1388.4L1546.7 1385.8L1547.2 1388.2L1547.7 1386.0L1548.2 1388.3L1548.7 1386.1L1549.2 1388.5L1549.7 1386.1L1550.2 1388.5L1550.7 1386.0L1551.2 1388.7L1551.7 1386.0L1552.2 1388.9L1552.7 1386.2L1553.2 1389.0L1553.7 1386.2L1554.2 1389.1L1554.7 1386.1L1555.2 1388.9L1555.7 1386.0L1556.2 1388.8L1556.7 1385.9L1557.2 1388.7L1557.7 1386.3L1558.2 1388.8L1558.7 1386.5L1559.2 1388.9L1559.7 1386.4L1560.2 1388.6L1560.3 1386.5L1560.7 1388.9L1561.2 1386.3L1561.7 1388.9L1562.2 1386.2L1562.7 1388.6L1563.2 1386.1L1563.7 1388.9L1564.2 1386.2L1564.7 1388.8L1565.2 1385.9L1565.7 1388.7L1566.2 1386.1L1566.7 1388.6L1567.2 1386.1L1567.7 1388.7L1568.2 1386.4L1568.7 1388.6L1569.2 1386.3L1569.7 1388.6L1570.2 1386.2L1570.7 1388.4L1571.2 1386.4L1571.7 1388.5L1572.2 1386.0L1572.7 1388.7L1573.2 1386.1L1573.7 1388.6L1574.2 1385.7L1574.7 1388.8L1575.2 1385.9L1575.7 1388.8L1576.2 1385.8L1576.7 1388.6L1577.2 1385.9L1577.7 1388.6L1578.2 1386.1L1578.7 1388.7L1579.2 1386.3L1579.7 1388.5L1580.2 1386.2L1580.7 1388.7L1581.2 1386.3L1581.7 1388.5M1648.7 1389.3L1649.2 1386.5L1649.7 1389.1L1650.2 1386.6L1650.7 1388.9L1651.2 1386.5L1651.7 1388.9L1652.2 1386.7L1652.7 1388.7L1653.2 1386.4L1653.7 1389.1L1654.2 1386.3L1654.7 1388.9L1655.2 1386.4L1655.7 1389.1L1656.0 1386.2L1656.2 1389.2L1656.7 1386.1L1657.2 1389.2L1657.7 1386.4L1658.2 1389.3L1658.7 1386.3L1659.2 1388.8L1659.7 1386.5L1660.2 1389.0L1660.7 1386.4L1661.2 1388.8L1661.7 1386.5L1662.2 1388.5L1662.7 1386.4L1663.2 1388.5L1663.7 1386.5L1664.2 1388.5L1664.7 1386.6L1665.2 1388.6L1665.7 1386.4L1666.2 1388.7L1666.7 1386.6L1667.2 1388.8L1667.7 1386.7L1668.2 1388.7L1668.7 1386.6L1669.2 1388.6L1669.7 1386.7L1670.2 1388.6L1670.7 1386.4L1671.2 1388.9L1671.7 1386.5L1672.2 1388.7L1672.7 1386.4L1673.2 1389.0L1673.7 1386.3L1674.2 1388.7L1674.7 1386.2L1675.2 1388.8L1675.7 1386.3L1676.2 1388.7L1676.7 1386.1L1677.2 1388.9L1677.7 1386.3L1678.2 1389.0L1678.7 1386.4L1679.2 1389.0L1679.7 1386.5L1680.2 1389.0L1680.7 1386.3L1681.2 1388.7L1681.7 1386.1L1682.2 1388.8L1682.7 1386.5L1683.2 1389.0L1683.5 1386.3L1683.7 1388.9L1684.2 1386.5L1684.7 1389.2L1685.2 1386.8L1685.7 1389.1L1686.2 1386.7L1686.7 1389.2L1687.2 1386.4L1687.7 1389.2L1688.2 1386.5L1688.7 1389.0L1689.2 1386.4L1689.7 1388.9L1690.2 1386.8L1690.7 1389.1L1691.2 1386.7L1691.7 1389.1L1692.2 1386.7L1692.7 1389.1L1693.2 1386.3L1693.7 1389.1L1694.2 1386.2L1694.7 1389.3L1695.2 1386.5L1695.7 1389.2L1696.2 1386.6L1696.7 1389.0L1697.2 1386.9L1697.7 1388.8L1698.2 1386.9L1698.7 1389.0L1699.2 1386.8L1699.7 1389.4L1700.2 1386.7L1700.7 1389.4M1701.7 1389.3L1702.2 1386.6L1702.7 1389.0L1703.2 1386.7L1703.7 1389.1L1704.2 1386.6L1704.7 1389.2L1705.2 1386.4L1705.7 1388.9L1706.2 1386.4L1706.7 1389.0L1707.2 1386.4L1707.7 1389.2L1708.2 1386.4L1708.7 1389.1L1709.2 1386.7L1709.7 1389.0L1710.2 1386.4L1710.7 1389.1L1711.2 1386.4L1711.7 1389.0L1712.2 1386.4L1712.7 1389.1L1713.2 1386.7L1713.7 1388.9L1714.2 1386.5L1714.7 1388.9L1715.2 1386.7L1715.4 1388.9L1715.7 1386.5L1716.2 1389.1L1716.7 1386.1L1717.2 1389.2L1717.7 1385.2L1718.2 1389.3L1718.7 1385.2L1719.2 1389.3L1719.7 1385.7L1720.2 1389.2L1720.7 1386.3L1721.2 1389.4L1721.7 1386.4L1722.2 1389.1L1722.7 1386.6L1723.2 1388.9L1723.7 1386.3L1724.2 1388.7L1724.7 1386.3L1725.2 1388.8L1725.7 1386.0L1726.2 1388.6L1726.7 1385.7L1727.2 1388.8L1727.7 1385.2L1728.2 1388.8L1728.7 1386.0L1729.2 1388.9M1759.2 1389.2L1759.7 1387.0L1760.2 1389.1L1760.7 1387.0L1761.2 1389.4L1761.7 1386.6L1762.2 1389.3L1762.7 1386.8L1763.2 1389.0L1763.7 1386.6L1764.2 1389.0L1764.7 1387.0L1765.2 1389.2L1765.7 1386.9L1766.2 1389.3L1766.7 1386.9L1767.2 1389.2L1767.7 1386.8L1768.2 1389.5L1768.7 1386.6L1769.2 1389.7L1769.7 1386.6L1770.2 1389.4L1770.4 1386.7L1770.7 1389.2L1771.2 1386.8L1771.7 1389.1L1772.2 1386.9L1772.7 1388.8L1773.2 1386.9L1773.7 1389.1L1774.2 1386.8L1774.7 1389.0L1775.2 1386.7L1775.7 1389.2L1776.2 1387.0L1776.7 1389.3L1777.2 1386.9L1777.7 1389.2L1778.2 1387.0L1778.7 1389.5L1779.2 1387.0L1779.7 1389.3L1780.2 1387.1L1780.7 1389.4L1781.2 1387.1L1781.7 1389.6L1782.2 1386.9L1782.7 1389.5L1783.2 1386.7L1783.7 1389.3L1784.2 1386.9L1784.7 1389.3L1785.2 1386.7L1785.7 1389.2L1786.2 1386.6L1786.7 1389.0L1787.2 1386.8L1787.7 1389.0L1788.2 1386.6L1788.7 1389.1L1789.2 1386.5M1878.7 1389.2L1879.2 1387.2L1879.7 1389.1L1880.2 1387.4L1880.7 1389.2L1881.2 1387.2L1881.7 1389.2L1882.2 1387.1L1882.7 1389.3L1883.2 1386.9L1883.7 1389.4L1884.2 1386.8L1884.7 1389.4L1885.2 1386.9L1885.7 1389.4L1886.2 1387.1L1886.7 1389.4L1887.2 1387.1L1887.7 1389.4L1888.2 1387.1L1888.7 1389.8L1889.2 1387.2L1889.7 1389.5L1890.2 1387.2L1890.7 1389.5L1891.2 1387.5L1891.7 1389.5L1892.2 1387.5L1892.7 1389.3L1893.2 1387.3L1893.7 1389.5L1894.2 1387.3L1894.7 1389.6L1895.2 1387.2L1895.7 1389.7L1896.2 1387.1L1896.7 1389.6L1897.2 1387.1L1897.7 1389.4L1898.2 1387.2L1898.7 1389.2L1899.2 1387.3L1899.7 1389.4L1900.2 1387.0L1900.7 1389.3L1901.2 1386.9L1901.7 1389.4M1963.7 1389.8L1964.2 1387.0L1964.7 1389.9L1965.2 1387.3L1965.7 1389.9L1966.2 1387.3L1966.7 1389.7L1967.2 1387.6L1967.7 1389.8L1968.2 1387.6L1968.7 1389.8L1969.2 1387.5L1969.7 1389.4L1970.2 1387.4L1970.7 1389.6L1971.2 1387.7L1971.5 1389.4L1971.7 1387.5L1972.2 1389.6L1972.7 1387.6L1973.2 1389.5L1973.7 1387.6L1974.2 1389.7L1974.7 1387.2L1975.2 1389.9L1975.7 1387.1L1976.2 1389.9L1976.7 1386.9L1977.2 1389.9L1977.7 1387.2L1978.2 1389.5L1978.7 1387.3L1979.2 1389.6L1979.7 1387.2L1980.2 1389.4L1980.7 1387.2L1981.2 1389.6L1981.7 1387.1L1982.2 1389.7"/>
<path class="curve" stroke="#000000" stroke-width="5.2" d="M380.2 1374.3L380.7 1382.8L381.2 1373.3L381.7 1381.7L382.2 1373.9L382.7 1381.9L383.2 1373.0L383.7 1382.4L384.2 1373.6L384.7 1381.9L385.2 1374.0L385.7 1382.3L386.2 1374.3L386.7 1383.4L387.2 1374.8L387.7 1383.3L388.2 1375.5L388.7 1383.0L389.2 1375.8L389.7 1382.3L390.2 1375.8L390.7 1382.1L391.2 1376.0L391.7 1381.8L392.2 1375.0L392.7 1382.1L393.2 1375.8L393.7 1383.4L394.2 1376.3L394.7 1383.9L395.2 1377.2L395.7 1383.9L396.2 1377.4L396.7 1384.2L397.2 1377.2L397.7 1384.2L398.2 1377.6L398.7 1384.2L399.2 1376.8L399.7 1383.7L400.2 1376.4L400.7 1384.2L401.2 1376.0L401.7 1384.3L402.2 1376.6L402.7 1383.6L403.2 1376.2L403.7 1383.6L404.2 1376.7L404.7 1384.1L405.2 1376.4L405.7 1384.4L406.2 1376.5L406.7 1384.8L407.2 1377.5L407.7 1385.3L408.2 1376.1L408.7 1384.7L409.2 1375.1L409.7 1384.2L410.2 1373.1L410.7 1384.6L411.2 1374.0L411.7 1385.1L412.2 1377.0L412.7 1385.2L413.2 1379.2L413.7 1385.4L414.2 1378.6L414.7 1385.1L415.2 1379.0L415.7 1385.7L416.2 1378.6L416.7 1385.5L417.2 1378.6L417.7 1385.9L418.2 1378.3L418.7 1385.3L419.2 1378.6L419.7 1386.3L420.2 1378.4L420.7 1386.0L421.2 1377.9L421.7 1386.3L422.2 1378.5L422.7 1386.9L423.2 1378.5L423.7 1386.5L424.2 1378.2L424.7 1385.5L425.2 1378.4L425.7 1385.7L426.2 1378.6L426.7 1386.1L427.2 1379.0L427.7 1386.2L428.2 1379.0L428.7 1387.4L429.2 1378.9L429.7 1386.3L430.2 1380.1L430.7 1386.4L431.2 1379.9L431.7 1386.7L432.2 1380.0L432.7 1387.1L433.2 1379.1L433.7 1388.0L434.2 1378.9L434.7 1388.2L435.2 1378.8L435.7 1388.2L436.2 1379.9L436.7 1388.5L437.2 1380.1L437.7 1387.6L438.2 1380.1L438.7 1387.3L439.2 1381.0L439.7 1387.4L440.2 1381.0L440.7 1387.0L441.2 1380.8L441.7 1387.8L442.2 1381.3L442.7 1387.5L443.2 1381.6L443.7 1387.8L444.2 1381.5L444.7 1387.1L445.2 1381.2L445.7 1387.5L446.2 1380.8L446.7 1387.1L447.2 1380.9L447.7 1387.5L448.2 1381.1L448.7 1387.4L449.2 1380.7L449.7 1387.1L450.2 1379.8L450.7 1387.1L451.2 1378.4L451.7 1387.0L452.2 1376.7L452.7 1387.1L453.2 1378.3L453.7 1387.5L454.2 1379.0L454.7 1387.3L455.2 1379.4L455.7 1387.4L456.2 1380.0L456.7 1387.8L457.2 1379.2L457.7 1387.8L458.2 1379.9L458.7 1388.1L459.2 1380.2L459.7 1388.2L460.2 1381.0L460.7 1389.5L461.2 1381.8L461.7 1389.4L462.2 1381.4L462.7 1389.3L463.2 1381.2L463.7 1389.4L464.2 1380.3L464.7 1389.4L465.2 1381.1L465.7 1388.8L466.2 1381.9L466.7 1388.1L467.2 1381.8L467.7 1387.9L468.2 1381.3L468.7 1388.1L469.2 1380.9L469.7 1389.2L470.2 1380.5L470.7 1389.9L471.2 1381.3L471.7 1390.5L472.2 1381.1L472.7 1392.1L473.2 1382.2L473.7 1391.5L474.2 1382.0L474.7 1390.4L475.2 1382.0L475.7 1388.7L476.2 1382.4L476.7 1388.4L477.2 1381.7L477.7 1388.8L478.2 1380.7L478.7 1388.8L479.2 1380.4L479.7 1389.1L480.2 1380.7L480.7 1389.3L481.2 1381.4L481.7 1388.4L482.2 1381.3L482.7 1388.1L483.2 1382.0L483.7 1388.1L484.2 1381.6L484.7 1388.1L485.2 1382.4L485.7 1388.3L486.2 1382.4L486.7 1387.9L487.2 1382.3L487.7 1388.3L488.2 1382.4L488.7 1389.1L489.2 1382.4L489.7 1389.4L490.2 1382.6L490.7 1389.5L491.2 1382.9L491.7 1388.9L492.2 1382.4L492.7 1388.8L493.2 1382.2L493.7 1388.0L494.2 1382.6L494.7 1387.9L495.2 1381.8L495.7 1387.9L496.2 1381.5L496.7 1388.7L497.2 1381.3L497.7 1388.8L498.2 1380.9L498.7 1389.8L499.2 1382.1L499.7 1389.3L500.2 1382.7L500.7 1389.4L501.2 1382.2L501.7 1390.1L502.2 1382.8L502.7 1389.8L503.2 1382.5L503.7 1389.0L504.2 1381.9L504.7 1389.3L505.2 1382.1L505.7 1388.7L506.2 1381.1L506.7 1388.2L507.2 1381.5L507.7 1388.3L508.2 1382.5L508.7 1388.5L509.2 1383.1L509.7 1389.0L510.2 1382.9L510.7 1388.7L511.2 1382.5L511.7 1388.4L512.2 1383.1L512.7 1388.7L513.2 1382.8L513.7 1388.9L514.2 1382.3L514.7 1388.4L515.2 1381.8L515.7 1388.8L516.2 1381.6L516.7 1389.0L517.2 1382.8L517.7 1389.1L518.2 1382.7L518.7 1389.0L519.2 1382.7L519.7 1389.4L520.2 1383.4L520.7 1388.7L521.2 1383.6L521.7 1389.0L522.2 1383.6L522.7 1389.0L523.2 1383.5L523.7 1389.3L524.2 1383.0L524.7 1389.2L525.2 1383.3L525.7 1389.0L526.2 1383.0L526.7 1390.3L527.2 1382.7L527.7 1390.1L528.2 1382.8L528.7 1389.0L529.2 1382.5L529.7 1389.2L530.2 1381.9L530.7 1388.9L531.2 1381.6L531.7 1389.6L532.2 1382.2L532.7 1389.8L533.2 1382.5L533.7 1390.0L534.2 1382.8L534.7 1389.5L535.2 1383.1L535.7 1389.2L536.2 1383.4L536.7 1388.8L537.2 1382.8L537.7 1389.2L538.2 1382.4L538.7 1388.7L539.2 1381.2L539.7 1389.0L540.2 1382.1L540.7 1388.9L541.2 1382.2L541.7 1389.4L542.2 1383.0L542.7 1390.3L543.2 1382.5L543.7 1392.0L544.2 1382.4L544.7 1393.6L545.2 1382.0L545.7 1393.8L546.2 1382.4L546.7 1392.3L547.2 1382.5L547.7 1391.0L548.2 1383.4L548.7 1389.3L549.2 1382.9L549.7 1389.6L550.2 1381.9L550.7 1390.6L551.2 1382.0L551.7 1390.1L552.2 1381.6L552.7 1390.6L553.2 1382.2L553.7 1390.2L554.2 1382.5L554.7 1389.7L555.2 1383.1L555.7 1389.5L556.2 1383.0L556.7 1389.5L557.2 1383.3L557.7 1389.4L558.2 1383.7L558.7 1389.2L559.2 1382.9L559.7 1389.8L560.2 1383.1L560.7 1389.7L561.2 1382.8L561.7 1390.1L562.2 1382.7L562.7 1389.7L563.2 1382.7L563.7 1389.7L564.2 1383.2L564.7 1389.9L565.2 1382.5L565.7 1389.5L566.2 1382.3L566.7 1390.2L567.2 1382.8L567.7 1389.9L568.2 1382.9L568.7 1389.5L569.2 1383.6L569.7 1389.2L570.2 1383.1L570.7 1389.1L571.2 1383.7L571.7 1388.7L572.2 1383.5L572.7 1388.6L573.2 1383.1L573.7 1389.0L574.2 1383.3L574.7 1388.8L575.2 1382.3L575.7 1388.9L576.2 1382.9L576.7 1389.3L577.2 1382.6L577.7 1389.5L578.2 1382.3L578.7 1388.7L579.2 1382.0L579.7 1389.0L580.2 1381.6L580.7 1389.5L581.2 1381.4L581.7 1388.8L582.2 1382.9L582.7 1389.3L583.2 1383.4L583.7 1388.7L584.2 1384.0L584.7 1388.6L585.2 1383.4L585.7 1389.3L586.2 1383.2L586.7 1388.7L587.2 1382.5L587.7 1388.7L588.2 1382.9L588.7 1389.2L589.2 1382.8L589.7 1388.7L590.2 1383.3L590.7 1389.0L591.2 1382.8L591.7 1388.8L592.2 1382.6L592.7 1388.6L593.2 1382.5L593.7 1389.4L594.2 1382.9L594.7 1389.1L595.2 1382.4L595.7 1389.9L596.2 1383.4L596.7 1390.2L597.2 1382.8L597.7 1391.5L598.2 1381.7L598.7 1393.5L599.2 1381.1L599.7 1393.3L600.2 1381.7L600.7 1391.3L601.2 1381.8L601.7 1390.0L602.2 1382.8L602.7 1389.2L603.2 1382.8L603.7 1389.3L604.2 1383.5L604.7 1388.9L605.2 1383.1L605.7 1389.2L606.2 1383.7L606.7 1389.1L607.2 1383.6L607.7 1389.9L608.2 1384.0L608.7 1389.5L609.2 1383.3L609.7 1389.7L610.2 1382.7L610.7 1389.2L611.2 1382.7L611.7 1390.4L612.2 1383.2L612.7 1392.0L613.2 1383.7L613.7 1392.2L614.2 1383.8L614.7 1393.6L615.2 1383.3L615.7 1392.3L616.2 1382.9L616.7 1391.1L617.2 1383.2L617.7 1390.5L618.2 1383.2L618.7 1389.3L619.2 1383.4L619.7 1388.8L620.2 1382.8L620.7 1388.9L621.2 1383.6L621.7 1388.6L622.2 1383.2L622.7 1388.9L623.2 1383.4L623.7 1388.6L624.2 1383.5L624.7 1389.1L625.2 1383.0L625.7 1389.2L626.2 1382.6L626.7 1389.8L627.2 1382.7L627.7 1389.2L628.2 1382.3L628.7 1389.2L629.2 1382.7L629.7 1389.5L630.2 1382.3L630.7 1389.7L631.2 1382.3L631.7 1389.7L632.2 1382.1L632.7 1389.9L633.2 1382.7L633.7 1389.5L634.2 1382.4L634.7 1390.0L635.2 1383.2L635.7 1389.7L636.2 1382.3L636.7 1389.2L637.2 1382.5L637.7 1389.6L638.2 1382.1L638.7 1389.4L639.2 1381.9L639.7 1388.8L640.2 1382.9L640.7 1388.9L641.2 1382.8L641.7 1389.5L642.2 1382.5L642.7 1390.1L643.2 1382.7L643.7 1389.9L644.2 1381.7L644.7 1390.6L645.2 1382.7L645.7 1390.9L646.2 1382.2L646.7 1390.7L647.2 1382.7L647.7 1390.2L648.2 1382.2L648.7 1389.9L649.2 1382.6L649.7 1389.3L650.2 1382.2L650.7 1389.0L651.2 1382.9L651.7 1389.3L652.2 1383.7L652.7 1388.9L653.2 1383.7L653.7 1389.0L654.2 1382.9L654.7 1389.3L655.2 1382.4L655.7 1390.0L656.2 1382.1L656.7 1390.3L657.2 1382.4L657.7 1389.6L658.2 1381.8L658.7 1389.5L659.2 1382.7L659.7 1388.9L660.2 1382.2L660.7 1389.1L661.2 1382.0L661.7 1389.4L662.2 1382.4L662.7 1389.5L663.2 1383.1L663.7 1388.7L664.2 1383.3L664.7 1388.6L665.2 1383.2L665.7 1388.9L666.2 1383.2L666.7 1388.5L667.2 1383.4L667.7 1388.9L668.2 1383.8L668.7 1389.5L669.2 1383.6L669.7 1389.7L670.2 1383.9L670.7 1389.3L671.2 1384.0L671.7 1389.3L672.2 1383.4L672.7 1389.5L673.2 1383.1L673.7 1389.2L674.2 1382.7L674.7 1390.0L675.2 1383.1L675.7 1389.7L676.2 1383.0L676.7 1389.1L677.2 1382.6L677.7 1389.4L678.2 1382.4L678.7 1390.1L679.2 1382.5L679.7 1390.8L680.2 1383.2L680.7 1389.7L681.2 1382.2L681.7 1389.7L682.2 1379.9L682.7 1389.5L683.2 1379.2L683.7 1389.4L684.2 1380.6L684.7 1388.8L685.2 1381.3L685.7 1388.7L686.2 1382.9L686.7 1388.8L687.2 1383.3L687.7 1389.1L688.2 1383.3L688.7 1389.4L689.2 1383.6L689.7 1390.3L690.2 1383.5L690.7 1389.7L691.2 1382.8L691.7 1390.6L692.2 1382.3L692.7 1390.2L693.2 1382.4L693.7 1389.9L694.2 1382.2L694.7 1389.4L695.2 1382.5L695.7 1389.1L696.2 1382.2L696.7 1389.1L697.2 1383.0L697.7 1389.3L698.2 1382.9L698.7 1389.5L699.2 1382.8L699.7 1389.3L700.2 1383.4L700.7 1388.9L701.2 1383.1L701.7 1389.5L702.2 1382.4L702.7 1389.8L703.2 1382.7L703.7 1389.8L704.2 1382.2L704.7 1390.1L705.2 1382.7L705.7 1389.8L706.2 1382.9L706.7 1389.0L707.2 1383.3L707.7 1388.8L708.2 1382.9L708.7 1388.7L709.2 1383.5L709.7 1388.7L710.2 1383.3L710.7 1388.9L711.2 1383.6L711.7 1389.2L712.2 1383.1L712.7 1389.6L713.2 1383.1L713.7 1389.1L714.2 1383.0L714.7 1389.3L715.2 1382.9L715.7 1388.4L716.2 1382.0L716.7 1388.6L717.2 1382.7L717.7 1388.4L718.2 1381.8L718.7 1388.8L719.2 1382.7L719.7 1388.8L720.2 1383.0L720.7 1388.6L721.2 1383.1L721.7 1388.4L722.2 1383.4L722.7 1388.8L723.2 1383.9L723.7 1389.6L724.2 1383.9L724.7 1389.3L725.2 1383.4L725.7 1389.7L726.2 1383.1L726.7 1389.6L727.2 1383.6L727.7 1388.6L728.2 1383.2L728.7 1389.0L729.2 1383.4L729.7 1389.8L730.2 1383.4L730.7 1390.1L731.2 1383.5L731.7 1390.4L732.2 1382.5L732.7 1389.7L733.2 1382.9L733.7 1389.3L734.2 1382.0L734.7 1389.4L735.2 1383.2L735.7 1389.5L736.2 1383.3L736.7 1389.9L737.2 1382.8L737.7 1390.4L738.2 1383.7L738.7 1390.0L739.2 1383.9L739.7 1389.5L740.2 1383.9L740.7 1390.1L741.2 1384.2L741.7 1389.8L742.2 1383.9L742.7 1390.1L743.2 1384.1L743.7 1389.4L744.2 1384.0L744.7 1389.2L745.2 1383.1L745.7 1389.2L746.2 1382.9L746.7 1389.2L747.2 1382.3L747.7 1389.3L748.2 1380.5L748.7 1390.0L749.2 1380.9L749.7 1390.2L750.2 1379.2L750.7 1389.9L751.2 1378.1L751.7 1389.7L752.2 1376.9L752.7 1390.0L753.2 1380.0L753.7 1389.8L754.2 1381.9L754.7 1389.7L755.2 1383.8L755.7 1390.0L756.2 1383.9L756.7 1389.8L757.2 1383.7L757.7 1390.3L758.2 1384.0L758.7 1390.2L759.2 1383.9L759.7 1389.5L760.2 1383.8L760.7 1388.8L761.2 1383.7L761.7 1389.1L762.2 1382.8L762.7 1389.1L763.2 1383.2L763.7 1389.2L764.2 1383.3L764.7 1390.6L765.2 1382.3L765.7 1391.2L766.2 1382.8L766.7 1393.7L767.2 1382.7L767.7 1394.0L768.2 1383.0L768.7 1392.0L769.2 1383.6L769.7 1390.6L770.2 1383.9L770.7 1389.8L771.2 1382.0L771.7 1389.1L772.2 1380.5L772.7 1389.2L773.2 1379.6L773.7 1388.6L774.2 1381.1L774.7 1388.7L775.2 1381.2L775.7 1389.3L776.2 1383.3L776.7 1389.2L777.2 1383.0L777.7 1389.1L778.2 1383.8L778.7 1389.2L779.2 1383.8L779.7 1389.8L780.2 1383.6L780.7 1390.2L781.2 1382.8L781.7 1390.2L782.2 1383.3L782.7 1390.6L783.2 1383.4L783.7 1390.1L784.2 1383.4L784.7 1389.5L785.2 1383.2L785.7 1389.3L786.2 1382.8L786.7 1389.2L787.2 1383.0L787.7 1389.1L788.2 1383.3L788.7 1388.9L789.2 1383.2L789.7 1389.4L790.2 1382.7L790.7 1389.3L791.2 1382.5L791.7 1389.6L792.2 1382.5L792.7 1389.4L793.2 1382.3L793.7 1388.9L794.2 1382.2L794.7 1388.9L795.2 1383.4L795.7 1388.4L796.2 1383.9L796.7 1388.3L797.2 1383.7L797.7 1388.5L798.2 1383.8L798.7 1388.9L799.2 1383.4L799.7 1389.0L800.2 1382.8L800.7 1389.2L801.2 1383.0L801.7 1389.4L802.2 1383.8L802.7 1389.1L803.2 1383.9L803.7 1389.5L804.2 1383.7L804.7 1389.3L805.2 1382.7L805.7 1390.0L806.2 1382.5L806.7 1389.8L807.2 1382.6L807.7 1389.3L808.2 1382.6L808.7 1389.1L809.2 1382.3L809.7 1389.0L810.2 1383.1L810.7 1389.3L811.2 1382.9L811.7 1389.9L812.2 1383.6L812.7 1390.2L813.2 1382.7L813.7 1389.4L814.2 1383.3L814.7 1389.6L815.2 1382.5L815.7 1389.0L816.2 1382.8L816.7 1389.6L817.2 1382.7L817.7 1389.2L818.2 1383.5L818.7 1389.1L819.2 1383.6L819.7 1389.4L820.2 1383.4L820.7 1388.8L821.2 1384.2L821.7 1388.6L822.2 1383.7L822.7 1388.8L823.2 1382.8L823.7 1388.8L824.2 1382.6L824.7 1388.7L825.2 1382.8L825.7 1388.7L826.2 1383.1L826.7 1389.0L827.2 1383.2L827.7 1388.7L828.2 1383.4L828.7 1388.5L829.2 1384.0L829.7 1388.6L830.2 1383.8L830.7 1388.3L831.2 1383.7L831.7 1388.4L832.2 1382.6L832.7 1388.6L833.2 1383.2L833.7 1388.3L834.2 1383.3L834.7 1388.3L835.2 1383.9L835.7 1388.6L836.2 1383.8L836.7 1388.5L837.2 1384.0L837.7 1388.3L838.2 1383.8L838.7 1388.9L839.2 1383.4L839.7 1388.9L840.2 1381.1L840.7 1388.5L841.2 1380.4L841.7 1388.8L842.2 1377.6L842.7 1389.1L843.2 1380.5L843.7 1388.7L844.2 1382.1L844.7 1388.5L845.2 1383.6L845.7 1388.2L846.2 1383.5L846.7 1388.4L847.2 1383.5L847.7 1388.3L848.2 1383.2L848.7 1387.7L849.2 1382.7L849.7 1387.8L850.2 1382.3L850.7 1387.8L851.2 1382.4L851.7 1388.0L852.2 1382.3L852.7 1388.0L853.2 1383.0L853.7 1387.8L854.2 1382.7L854.7 1387.6L855.2 1382.8L855.7 1387.6L856.2 1382.1L856.7 1388.0L857.2 1380.9L857.7 1388.2L858.2 1380.9L858.7 1387.2L859.2 1381.4L859.7 1386.9L860.2 1380.6L860.7 1385.5L861.2 1380.1L861.7 1384.4L862.2 1379.4L862.7 1382.9L863.2 1378.4L863.7 1380.9L864.2 1376.7L864.7 1377.8L865.2 1374.3L865.7 1372.8L866.2 1369.3L866.7 1367.7L867.2 1364.3L867.7 1362.7L868.2 1359.3L868.7 1357.8L869.2 1340.3L869.7 1299.8L870.2 1070.1L870.7 1062.4L871.2 1052.4L871.7 1020.7L872.2 977.1L872.5 930.5L872.7 961.3L873.2 1014.1L873.7 1045.9L874.2 1060.9L874.7 1068.4L875.2 1222.8L875.7 1331.9L876.2 1357.5L876.7 1358.6L877.2 1362.6L877.7 1363.6L878.2 1367.4L878.7 1368.5L879.2 1372.4L879.7 1373.6L880.2 1378.5L880.7 1376.2L881.2 1381.1L881.7 1377.7L882.2 1383.2L882.7 1378.5L883.2 1385.9L883.7 1379.0L884.2 1387.6L884.7 1380.1L885.2 1386.8L885.7 1380.4L886.2 1387.2L886.7 1380.8L887.2 1385.9L887.7 1381.0L888.2 1386.3L888.7 1381.1L889.2 1386.6L889.7 1381.5L890.2 1387.0L890.7 1382.1L891.2 1386.7L891.7 1381.9L892.2 1387.3L892.7 1382.1L893.2 1386.7L893.7 1382.5L894.2 1386.7L894.7 1381.8L895.2 1386.1L895.7 1381.3L896.2 1386.1L896.7 1381.9L897.2 1387.4L897.7 1381.8L898.2 1388.2L898.7 1381.7L899.2 1390.9L899.7 1382.0L900.2 1388.9L900.7 1381.5L901.2 1388.0L901.7 1381.3L902.2 1386.3L902.7 1380.8L903.2 1385.7L903.7 1380.1L904.2 1385.2L904.7 1379.0L905.2 1384.8L905.7 1378.4L906.2 1384.2L906.7 1378.5L907.2 1383.1L907.7 1377.9L908.2 1382.9L908.7 1378.1L909.2 1380.3L909.7 1376.1L910.2 1378.0L910.7 1374.3L911.2 1375.6L911.7 1372.0L912.2 1372.4L912.7 1368.9L913.2 1367.1L913.7 1363.5L914.2 1361.6L914.7 1356.0L915.2 1349.6L915.7 1341.2L916.2 1334.7L916.7 1326.2L917.2 1320.2L917.7 1311.7L918.2 1305.5L918.7 1286.8L919.2 1203.8L919.7 472.5L920.2 447.6L920.7 420.9L921.2 367.5L921.7 269.6L922.2 90.6L922.3 42.7L922.7 231.7L923.2 327.8L923.7 411.4L924.2 436.3L924.7 463.2L925.2 1153.8L925.7 1264.4L926.2 1301.4L926.7 1309.9L927.2 1316.1L927.7 1324.4L928.2 1330.7L928.7 1339.2L929.2 1345.6L929.7 1354.0L930.2 1359.7L930.7 1363.4L931.2 1365.0L931.7 1368.9L932.2 1369.7L932.7 1374.1L933.2 1372.2L933.7 1376.4L934.2 1374.6L934.7 1378.5L935.2 1377.0L935.7 1381.2L936.2 1377.9L936.7 1382.3L937.2 1378.6L937.7 1382.6L938.2 1379.5L938.7 1383.1L939.2 1379.7L939.7 1383.8L940.2 1380.5L940.7 1384.1L941.2 1380.9L941.7 1384.8L942.2 1381.3L942.7 1385.3L943.2 1381.2L943.7 1385.7L944.2 1381.0L944.7 1385.7L945.2 1381.5L945.7 1385.9L946.2 1381.0L946.7 1385.8L947.2 1380.9L947.7 1385.7L948.2 1381.2L948.7 1385.7L949.2 1380.9L949.7 1385.9L950.2 1380.9L950.7 1386.6L951.2 1381.1L951.7 1386.2L952.2 1381.2L952.7 1385.9L953.2 1381.1L953.7 1385.6L954.2 1381.2L954.7 1384.7L955.2 1380.9L955.7 1384.8L956.2 1380.7L956.7 1385.1L957.2 1380.6L957.7 1385.3L958.2 1380.2L958.7 1385.4L959.2 1378.8L959.7 1384.2L960.2 1377.7L960.7 1382.2L961.2 1376.6L961.7 1378.7L962.2 1375.0L962.7 1375.4L963.2 1372.3L963.7 1371.9L964.2 1367.4L964.7 1364.2L965.2 1359.1L965.7 1355.7L966.2 1350.7L966.7 1347.5L967.2 1342.5L967.7 1339.3L968.2 1316.8L968.7 1255.8L969.2 863.7L969.7 850.1L970.2 834.5L970.7 788.7L971.2 732.9L971.6 627.4L971.7 653.1L972.2 755.6L972.7 809.7L973.2 841.3L973.7 855.0L974.2 870.4L974.7 1282.5L975.2 1330.9L975.7 1340.1L976.2 1345.0L976.7 1348.4L977.2 1353.3L977.7 1356.6L978.2 1361.7L978.7 1365.0L979.2 1370.1L979.7 1371.2L980.2 1374.7L980.7 1374.6L981.2 1377.9L981.7 1376.5L982.2 1380.9L982.7 1377.9L983.2 1382.4L983.7 1379.5L984.2 1383.4L984.7 1380.3L985.2 1384.9L985.7 1380.7L986.2 1385.3L986.7 1380.7L987.2 1385.5L987.7 1380.6L988.2 1386.2L988.7 1381.7L989.2 1387.1L989.7 1382.0L990.2 1386.8L990.7 1382.7L991.2 1387.1L991.7 1383.3L992.2 1387.0L992.7 1383.1L993.2 1387.7L993.7 1383.0L994.2 1388.2L994.7 1383.2L995.2 1388.6L995.7 1383.4L996.2 1388.3L996.7 1383.8L997.2 1387.9L997.7 1383.7L998.2 1387.9L998.7 1384.0L999.2 1388.2L999.7 1384.3L1000.2 1388.5L1000.7 1384.2L1001.2 1388.7L1001.7 1383.9L1002.2 1388.5L1002.7 1384.3L1003.2 1388.2L1003.7 1384.3L1004.2 1388.2L1004.7 1384.0L1005.2 1389.0L1005.7 1383.0L1006.2 1388.6L1006.7 1382.0L1007.2 1389.1L1007.7 1382.4L1008.2 1389.1L1008.7 1382.8L1009.2 1388.7L1009.7 1383.6L1010.2 1388.5L1010.7 1384.1L1011.2 1388.7L1011.7 1383.9L1012.2 1388.5L1012.7 1383.8L1013.2 1388.0L1013.7 1384.2L1014.2 1388.7L1014.7 1383.9L1015.2 1389.1L1015.7 1384.2L1016.2 1388.8L1016.7 1384.6L1017.2 1388.8L1017.7 1384.3L1018.2 1389.2L1018.7 1384.1L1019.2 1388.9L1019.7 1384.7L1020.2 1388.8L1020.7 1384.8L1021.2 1388.5L1021.7 1384.8L1022.2 1388.7L1022.7 1384.9L1023.2 1389.1L1023.7 1385.0L1024.2 1389.1L1024.7 1384.9L1025.2 1388.7L1025.7 1385.1L1026.2 1389.0L1026.7 1384.5L1027.2 1388.6L1027.7 1384.3L1028.2 1388.7L1028.7 1384.2L1029.2 1389.2L1029.7 1384.2L1030.2 1388.8L1030.7 1384.6L1031.2 1389.4L1031.7 1384.2L1032.2 1389.3L1032.7 1384.6L1033.2 1388.7L1033.7 1384.9L1034.2 1389.3L1034.7 1385.0L1035.2 1389.0L1035.7 1384.7L1036.2 1389.6L1036.7 1384.2L1037.2 1389.1L1037.7 1384.1L1038.2 1389.0L1038.7 1384.0L1039.2 1389.1L1039.7 1383.8L1040.2 1388.6L1040.7 1384.0L1041.2 1388.7L1041.7 1384.5L1042.2 1389.3L1042.7 1385.0L1043.2 1389.4L1043.7 1385.1L1044.2 1389.1L1044.7 1384.6L1045.2 1388.8L1045.7 1384.6L1046.2 1389.2L1046.7 1384.4L1047.2 1389.4L1047.7 1384.5L1048.2 1388.7L1048.7 1384.8L1049.2 1388.7L1049.7 1384.8L1050.2 1388.7L1050.7 1384.8L1051.2 1388.6L1051.7 1384.5L1052.2 1388.2L1052.7 1384.2L1053.2 1388.8L1053.7 1382.3L1054.2 1388.9L1054.7 1381.8L1055.2 1389.2L1055.7 1382.0L1056.2 1389.2L1056.7 1382.0L1057.2 1389.0L1057.7 1384.0L1058.2 1389.1L1058.7 1384.4L1059.2 1389.6L1059.7 1384.2L1060.2 1389.4L1060.7 1384.7L1061.2 1389.6L1061.7 1384.8L1062.2 1389.1L1062.7 1384.5L1063.2 1389.5L1063.7 1384.4L1064.2 1389.5L1064.7 1384.9L1065.2 1389.2L1065.7 1385.0L1066.2 1389.5L1066.7 1385.1L1067.2 1389.9L1067.7 1384.9L1068.2 1389.8L1068.7 1385.1L1069.2 1389.8L1069.7 1385.0L1070.2 1389.7L1070.7 1384.8L1071.2 1388.9L1071.7 1384.7L1072.2 1388.6L1072.7 1384.1L1073.2 1388.5L1073.7 1383.7L1074.2 1388.5L1074.7 1384.1L1075.2 1389.0L1075.7 1383.7L1076.2 1389.0L1076.7 1383.8L1077.2 1389.3L1077.7 1384.5L1078.2 1389.3L1078.7 1384.8L1079.2 1389.5L1079.7 1384.3L1080.2 1389.1L1080.7 1384.8L1081.2 1388.9L1081.7 1384.8L1082.2 1388.6L1082.7 1384.7L1083.2 1388.5L1083.7 1384.1L1084.2 1388.5L1084.7 1383.9L1085.2 1388.3L1085.7 1384.1L1086.2 1388.4L1086.7 1383.8L1087.2 1389.0L1087.7 1384.1L1088.2 1389.0L1088.7 1384.0L1089.2 1388.8L1089.7 1384.3L1090.2 1388.6L1090.7 1384.2L1091.2 1388.4L1091.7 1384.0L1092.2 1388.9L1092.7 1384.2L1093.2 1389.2L1093.7 1384.8L1094.2 1389.2L1094.7 1384.3L1095.2 1389.3L1095.7 1384.2L1096.2 1389.2L1096.7 1384.5L1097.2 1388.8L1097.7 1384.1L1098.2 1389.3L1098.7 1383.8L1099.2 1389.3L1099.7 1384.3L1100.2 1389.0L1100.7 1384.2L1101.2 1389.1L1101.7 1384.1L1102.2 1388.8L1102.7 1384.8L1103.2 1388.5L1103.7 1385.0L1104.2 1388.8L1104.7 1384.7L1105.2 1388.3L1105.7 1385.3L1106.2 1388.3L1106.7 1384.8L1107.2 1388.7L1107.7 1383.2L1108.2 1389.2L1108.7 1382.8L1109.2 1389.5L1109.7 1382.6L1110.2 1389.3L1110.7 1383.4L1111.2 1389.0L1111.7 1383.8L1112.2 1388.6L1112.7 1384.6L1113.2 1388.8L1113.7 1384.6L1114.2 1388.5L1114.7 1384.8L1115.2 1388.7L1115.7 1385.0L1116.2 1388.6L1116.7 1384.6L1117.2 1388.8L1117.7 1384.7L1118.2 1389.3L1118.7 1384.6L1119.2 1389.0L1119.7 1384.5L1120.2 1388.5L1120.7 1384.1L1121.2 1388.5L1121.7 1384.2L1122.2 1388.7L1122.7 1384.4L1123.2 1388.7L1123.7 1384.4L1124.2 1388.6L1124.7 1384.5L1125.2 1388.8L1125.7 1384.2L1126.2 1389.0L1126.7 1383.9L1127.2 1389.7L1127.7 1383.8L1128.2 1389.0L1128.7 1384.5L1129.2 1388.8L1129.7 1384.3L1130.2 1388.7L1130.7 1383.8L1131.2 1389.5L1131.7 1382.7L1132.2 1390.6L1132.7 1381.6L1133.2 1391.6L1133.7 1381.8L1134.2 1390.3L1134.7 1383.2L1135.2 1389.6L1135.7 1383.5L1136.2 1389.0L1136.7 1384.5L1137.2 1388.7L1137.7 1384.5L1138.2 1388.7L1138.7 1384.8L1139.2 1388.8L1139.7 1385.0L1140.2 1388.7L1140.7 1385.0L1141.2 1388.8L1141.7 1385.1L1142.2 1388.9L1142.7 1385.0L1143.2 1388.8L1143.7 1385.0L1144.2 1388.8L1144.7 1385.1L1145.2 1388.5L1145.7 1384.9L1146.2 1388.5L1146.7 1384.6L1147.2 1388.9L1147.7 1384.4L1148.2 1389.1L1148.7 1384.1L1149.2 1389.0L1149.7 1384.2L1150.2 1388.6L1150.7 1384.3L1151.2 1388.4L1151.7 1384.7L1152.2 1388.6L1152.7 1384.4L1153.2 1389.0L1153.7 1384.7L1154.2 1389.4L1154.7 1384.2L1155.2 1388.9L1155.7 1384.2L1156.2 1388.8L1156.7 1384.5L1157.2 1388.4L1157.7 1384.9L1158.2 1388.8L1158.7 1384.7L1159.2 1389.1L1159.7 1384.9L1160.2 1389.2L1160.7 1384.9L1161.2 1389.2L1161.7 1384.7L1162.2 1389.0L1162.7 1384.3L1163.2 1388.8L1163.7 1384.5L1164.2 1388.9L1164.7 1384.0L1165.2 1388.8L1165.7 1383.7L1166.2 1388.9L1166.7 1384.4L1167.2 1389.0L1167.7 1384.5L1168.2 1388.8L1168.7 1384.3L1169.2 1388.9L1169.7 1384.5L1170.2 1389.0L1170.7 1384.7L1171.2 1389.7L1171.7 1384.9L1172.2 1389.7L1172.7 1385.0L1173.2 1389.6L1173.7 1384.7L1174.2 1389.1L1174.7 1385.1L1175.2 1388.9L1175.7 1385.3L1176.2 1389.1L1176.7 1385.0L1177.2 1389.6L1177.7 1385.1L1178.2 1389.6L1178.7 1384.7L1179.2 1389.5L1179.7 1384.5L1180.2 1389.5L1180.7 1384.7L1181.2 1389.6L1181.7 1384.5L1182.2 1389.1L1182.7 1384.7L1183.2 1389.4L1183.7 1385.1L1184.2 1389.2L1184.7 1384.9L1185.2 1389.1L1185.7 1385.0L1186.2 1389.2L1186.7 1384.7L1187.2 1389.4L1187.7 1384.5L1188.2 1389.3L1188.7 1384.4L1189.2 1389.5L1189.7 1384.2L1190.2 1389.7L1190.7 1384.7L1191.2 1389.6L1191.7 1384.8L1192.2 1389.0L1192.7 1385.3L1193.2 1389.1L1193.7 1385.3L1194.2 1389.0L1194.7 1385.4L1195.2 1389.1L1195.7 1385.4L1196.2 1389.1L1196.7 1385.2L1197.2 1388.9L1197.7 1384.8L1198.2 1389.1L1198.7 1384.5L1199.2 1389.2L1199.7 1384.0L1200.2 1389.1L1200.7 1384.5L1201.2 1388.9L1201.7 1384.6L1202.2 1388.2L1202.7 1384.1L1203.2 1388.4L1203.7 1385.0L1204.2 1388.5L1204.7 1385.2L1205.2 1388.7L1205.7 1385.2L1206.2 1388.5L1206.7 1384.7L1207.2 1388.4L1207.7 1383.9L1208.2 1388.8L1208.7 1383.1L1209.2 1388.6L1209.7 1383.0L1210.2 1388.3L1210.7 1382.8L1211.2 1388.0L1211.7 1383.4L1212.2 1386.8L1212.7 1382.7L1213.2 1385.6L1213.7 1381.6L1214.2 1384.7L1214.7 1381.2L1215.2 1382.6L1215.7 1378.6L1216.2 1375.4L1216.7 1362.2L1217.2 1346.5L1217.7 1343.0L1218.2 1340.8L1218.7 1329.2L1219.2 1317.2L1219.7 1307.2L1220.2 1301.3L1220.7 1293.7L1220.8 1293.3L1221.2 1297.7L1221.7 1305.3L1222.2 1311.1L1222.7 1324.9L1223.2 1336.9L1223.7 1342.6L1224.2 1344.7L1224.7 1353.0L1225.2 1373.1L1225.7 1377.9L1226.2 1380.2L1226.7 1384.7L1227.2 1381.3L1227.7 1385.3L1228.2 1382.3L1228.7 1386.3L1229.2 1383.7L1229.7 1387.6L1230.2 1383.6L1230.7 1388.1L1231.2 1383.9L1231.7 1388.4L1232.2 1383.8L1232.7 1388.8L1233.2 1384.2L1233.7 1388.3L1234.2 1384.6L1234.7 1388.2L1235.2 1385.2L1235.7 1388.6L1236.2 1385.4L1236.7 1389.1L1237.2 1385.4L1237.7 1389.6L1238.2 1385.3L1238.7 1389.5L1239.2 1384.8L1239.7 1389.1L1240.2 1384.6L1240.7 1388.9L1241.2 1384.6L1241.7 1389.1L1242.2 1384.6L1242.7 1391.0L1243.2 1384.8L1243.7 1391.4L1244.2 1385.1L1244.7 1391.5L1245.2 1385.1L1245.7 1390.9L1246.2 1385.2L1246.7 1389.5L1247.2 1384.9L1247.7 1388.8L1248.2 1384.7L1248.7 1388.9L1249.2 1384.8L1249.7 1388.9L1250.2 1384.7L1250.7 1389.0L1251.2 1384.4L1251.7 1389.1L1252.2 1384.1L1252.7 1389.3L1253.2 1384.5L1253.7 1389.4L1254.2 1384.6L1254.7 1389.3L1255.2 1384.5L1255.7 1389.6L1256.2 1385.0L1256.7 1389.4L1257.2 1384.7L1257.7 1389.4L1258.2 1384.7L1258.7 1389.4L1259.2 1384.6L1259.7 1390.0L1260.2 1384.0L1260.7 1389.5L1261.2 1384.8L1261.7 1389.7L1262.2 1384.5L1262.7 1389.1L1263.2 1384.6L1263.7 1389.1L1264.2 1385.1L1264.7 1389.6L1265.2 1384.9L1265.7 1389.0L1266.2 1384.9L1266.7 1389.1L1267.2 1384.8L1267.7 1388.7L1268.2 1384.9L1268.7 1388.4L1269.2 1384.9L1269.7 1388.7L1270.2 1384.6L1270.7 1388.9L1271.2 1384.5L1271.7 1388.9L1272.2 1384.7L1272.7 1388.8L1273.2 1384.8L1273.7 1388.8L1274.2 1385.0L1274.7 1389.0L1275.2 1384.7L1275.7 1388.8L1276.2 1384.4L1276.7 1388.7L1277.2 1384.4L1277.7 1388.5L1278.2 1384.1L1278.7 1388.5L1279.2 1384.2L1279.7 1388.6L1280.2 1384.2L1280.7 1388.7L1281.2 1384.8L1281.7 1388.9L1282.2 1384.9L1282.7 1389.5L1283.2 1385.5L1283.7 1389.2L1284.2 1385.3L1284.7 1389.0L1285.2 1385.0L1285.7 1388.9L1286.2 1384.7L1286.7 1388.9L1287.2 1384.9L1287.7 1389.2L1288.2 1385.2L1288.7 1389.1L1289.2 1385.3L1289.7 1389.1L1290.2 1385.2L1290.7 1389.0L1291.2 1385.3L1291.7 1388.9L1292.2 1385.4L1292.7 1388.6L1293.2 1385.2L1293.7 1389.1L1294.2 1384.6L1294.7 1389.1L1295.2 1384.3L1295.7 1389.6L1296.2 1384.4L1296.7 1388.9L1297.2 1384.9L1297.7 1388.9L1298.2 1384.9L1298.7 1388.5L1299.2 1384.4L1299.7 1388.6L1300.2 1384.6L1300.7 1388.6L1301.2 1385.0L1301.7 1388.7L1302.2 1385.2L1302.7 1389.0L1303.2 1385.0L1303.7 1389.7L1304.2 1385.2L1304.7 1389.6L1305.2 1385.0L1305.7 1388.9L1306.2 1384.9L1306.7 1388.7L1307.2 1384.3L1307.7 1388.7L1308.2 1384.8L1308.7 1389.1L1309.2 1384.9L1309.7 1389.1L1310.2 1385.2L1310.7 1388.9L1311.2 1385.2L1311.7 1388.9L1312.2 1384.8L1312.7 1388.9L1313.2 1384.6L1313.7 1388.4L1314.2 1384.6L1314.7 1388.7L1315.2 1385.2L1315.7 1389.0L1316.2 1385.2L1316.7 1389.0L1317.2 1385.2L1317.7 1388.6L1318.2 1385.2L1318.7 1388.6L1319.2 1385.2L1319.7 1388.7L1320.2 1385.3L1320.7 1388.5L1321.2 1385.3L1321.7 1388.4L1322.2 1385.0L1322.7 1388.8L1323.2 1384.8L1323.7 1389.1L1324.2 1384.4L1324.7 1389.2L1325.2 1384.4L1325.7 1389.5L1326.2 1384.5L1326.7 1389.5L1327.2 1384.8L1327.7 1389.8L1328.2 1384.7L1328.7 1389.2L1329.2 1384.5L1329.7 1389.0L1330.2 1384.6L1330.7 1389.0L1331.2 1384.4L1331.7 1388.9L1332.2 1384.8L1332.7 1388.8L1333.2 1385.1L1333.7 1389.0L1334.2 1385.1L1334.7 1388.9L1335.2 1384.9L1335.7 1389.3L1336.2 1384.3L1336.7 1389.3L1337.2 1384.1L1337.7 1389.5L1338.2 1384.5L1338.7 1389.3L1339.2 1385.0L1339.7 1389.2L1340.2 1385.5L1340.7 1389.5L1341.2 1385.2L1341.7 1389.2L1342.2 1384.9L1342.7 1389.3L1343.2 1385.0L1343.7 1389.6L1344.2 1384.8L1344.7 1389.8L1345.2 1385.3L1345.7 1389.9L1346.2 1385.3L1346.7 1389.7L1347.2 1385.3L1347.7 1389.7L1348.2 1385.4L1348.7 1389.0L1349.2 1385.5L1349.7 1389.4L1350.2 1385.3L1350.7 1389.2L1351.2 1384.9L1351.7 1389.7L1352.2 1384.4L1352.7 1389.5L1353.2 1384.9L1353.7 1390.6L1354.2 1385.0L1354.7 1391.2L1355.2 1385.1L1355.7 1390.5L1356.2 1385.3L1356.7 1390.1L1357.2 1384.9L1357.7 1389.6L1358.2 1384.8L1358.7 1389.3L1359.2 1385.2L1359.7 1389.5L1360.2 1385.0L1360.7 1389.2L1361.2 1385.6L1361.7 1389.9L1362.2 1385.4L1362.7 1389.9L1363.2 1384.9L1363.7 1390.6L1364.2 1384.4L1364.7 1390.7L1365.2 1384.9L1365.7 1389.9L1366.2 1385.4L1366.7 1389.5L1367.2 1385.5L1367.7 1389.2L1368.2 1385.4L1368.7 1389.1L1369.2 1385.0L1369.7 1389.1L1370.2 1385.1L1370.7 1389.5L1371.2 1384.4L1371.7 1389.2L1372.2 1384.5L1372.7 1388.8L1373.2 1384.3L1373.7 1388.6L1374.2 1384.8L1374.7 1388.7L1375.2 1384.8L1375.7 1388.7L1376.2 1385.3L1376.7 1388.5L1377.2 1385.3L1377.7 1388.8L1378.2 1385.1L1378.7 1388.6L1379.2 1385.0L1379.7 1388.7L1380.2 1385.3L1380.7 1388.7L1381.2 1385.4L1381.7 1388.7L1382.2 1385.3L1382.7 1389.3L1383.2 1384.6L1383.7 1389.2L1384.2 1384.3L1384.7 1389.3L1385.2 1384.3L1385.7 1389.2L1386.2 1384.7L1386.7 1389.6L1387.2 1384.9L1387.7 1389.8L1388.2 1385.2L1388.7 1389.8L1389.2 1385.3L1389.7 1389.5L1390.2 1385.2L1390.7 1389.3L1391.2 1385.4L1391.7 1389.0L1392.2 1385.0L1392.7 1388.9L1393.2 1385.1L1393.7 1389.3L1394.2 1385.0L1394.7 1389.3L1395.2 1384.9L1395.7 1389.6L1396.2 1385.0L1396.7 1389.3L1397.2 1384.7L1397.7 1389.1L1398.2 1384.9L1398.7 1389.1L1399.2 1384.9L1399.7 1389.2L1400.2 1384.7L1400.7 1389.0L1401.2 1384.8L1401.7 1388.8L1402.2 1384.8L1402.7 1389.4L1403.2 1384.8L1403.7 1389.1L1404.2 1384.8L1404.7 1389.1L1405.2 1384.9L1405.7 1388.9L1406.2 1384.4L1406.7 1389.0L1407.2 1384.2L1407.7 1388.9L1408.2 1382.5L1408.7 1388.7L1409.2 1382.5L1409.7 1388.8L1410.2 1383.4L1410.7 1388.6L1411.2 1384.0L1411.7 1388.4L1412.2 1385.0L1412.7 1388.6L1413.2 1384.9L1413.7 1388.7L1414.2 1384.4L1414.7 1389.2L1415.2 1384.5L1415.7 1389.4L1416.2 1384.5L1416.7 1389.0L1417.2 1384.2L1417.7 1388.9L1418.2 1384.6L1418.7 1388.9L1419.2 1384.5L1419.7 1388.8L1420.2 1385.0L1420.7 1389.0L1421.2 1384.7L1421.7 1389.0L1422.2 1385.2L1422.7 1389.1L1423.2 1385.4L1423.7 1389.2L1424.2 1385.3L1424.7 1389.1L1425.2 1385.3L1425.7 1389.0L1426.2 1384.6L1426.7 1388.8L1427.2 1384.7L1427.7 1388.7L1428.2 1384.3L1428.7 1388.1L1429.2 1384.6L1429.7 1386.6L1430.2 1383.8L1430.7 1385.5L1431.2 1382.2L1431.7 1383.5L1432.2 1379.7L1432.7 1382.5L1433.2 1377.5L1433.5 1382.9L1433.7 1377.4L1434.2 1381.7L1434.7 1379.5L1435.2 1383.6L1435.7 1381.5L1436.2 1385.6L1436.7 1383.4L1437.2 1387.7L1437.7 1383.9L1438.2 1388.7L1438.7 1384.7L1439.2 1388.5L1439.7 1384.8L1440.2 1388.9L1440.7 1384.7L1441.2 1389.0L1441.7 1384.9L1442.2 1389.0L1442.7 1384.9L1443.2 1388.9L1443.7 1384.9L1444.2 1389.2L1444.7 1385.0L1445.2 1389.5L1445.7 1385.1L1446.2 1389.5L1446.7 1384.5L1447.2 1389.1L1447.7 1384.8L1448.2 1389.2L1448.7 1384.4L1449.2 1389.6L1449.7 1384.6L1450.2 1389.5L1450.7 1384.7L1451.2 1389.3L1451.7 1384.9L1452.2 1389.2L1452.7 1385.0L1453.2 1388.8L1453.7 1384.9L1454.2 1388.8L1454.7 1384.6L1455.2 1388.7L1455.7 1384.9L1456.2 1389.0L1456.7 1384.3L1457.2 1389.1L1457.7 1384.3L1458.2 1388.8L1458.7 1384.7L1459.2 1389.0L1459.7 1384.7L1460.2 1389.3L1460.7 1384.8L1461.2 1388.8L1461.7 1384.6L1462.2 1388.9L1462.7 1384.9L1463.2 1389.2L1463.7 1384.5L1464.2 1389.3L1464.7 1384.9L1465.2 1389.4L1465.7 1384.6L1466.2 1389.3L1466.7 1384.8L1467.2 1389.4L1467.7 1384.5L1468.2 1389.6L1468.7 1384.4L1469.2 1390.0L1469.7 1384.7L1470.2 1389.7L1470.7 1384.9L1471.2 1389.5L1471.7 1385.1L1472.2 1389.1L1472.7 1384.8L1473.2 1389.4L1473.7 1384.8L1474.2 1389.7L1474.7 1384.4L1475.2 1389.9L1475.7 1384.9L1476.2 1389.4L1476.7 1384.9L1477.2 1389.2L1477.7 1385.4L1478.2 1389.1L1478.7 1385.1L1479.2 1389.3L1479.7 1384.9L1480.2 1389.5L1480.7 1385.0L1481.2 1389.3L1481.7 1385.2L1482.2 1389.0L1482.7 1385.5L1483.2 1389.4L1483.7 1385.5L1484.2 1388.8L1484.7 1385.3L1485.2 1389.1L1485.7 1385.5L1486.2 1389.2L1486.7 1385.6L1487.2 1389.1L1487.7 1385.8L1488.2 1389.0L1488.7 1386.0L1489.2 1388.8L1489.7 1385.9L1490.2 1388.4L1490.7 1386.0L1491.2 1388.4L1491.7 1386.1L1492.2 1388.8L1492.7 1385.9L1493.2 1389.1L1493.7 1386.1L1494.2 1388.5L1494.7 1386.0L1495.2 1388.4L1495.7 1386.0L1496.2 1388.2L1496.7 1386.0L1497.2 1388.1L1497.7 1386.0L1498.2 1388.2L1498.7 1385.8L1499.2 1388.3L1499.7 1385.6L1500.2 1388.4L1500.7 1385.9L1501.2 1388.5L1501.7 1386.3L1502.2 1389.0L1502.7 1386.3L1503.2 1388.6L1503.7 1386.0L1504.2 1388.3L1504.7 1386.0L1505.2 1388.0L1505.7 1385.9L1506.2 1388.2L1506.7 1386.1L1507.2 1388.4L1507.7 1386.4L1508.2 1388.4L1508.7 1386.3L1509.2 1388.6L1509.7 1386.2L1510.2 1388.3L1510.7 1386.2L1511.2 1388.2L1511.7 1386.2L1512.2 1388.3L1512.7 1386.3L1513.2 1388.4L1513.7 1386.2L1514.2 1388.3L1514.7 1386.1L1515.2 1388.4L1515.7 1386.0L1516.2 1388.2L1516.7 1385.8L1517.2 1388.3L1517.7 1386.1L1518.2 1388.2L1518.7 1386.0L1519.2 1388.1L1519.7 1386.1L1520.2 1388.1L1520.7 1386.3L1521.2 1388.2L1521.7 1386.3L1522.2 1388.8L1522.7 1386.3L1523.2 1388.6L1523.7 1386.2L1524.2 1388.8L1524.7 1386.3L1525.2 1388.5L1525.7 1386.1L1526.2 1388.5L1526.7 1386.2L1527.2 1388.5L1527.7 1385.8L1528.2 1388.4L1528.7 1385.7L1529.2 1388.2L1529.7 1385.9L1530.2 1388.5L1530.7 1385.9L1531.2 1388.7L1531.7 1386.1L1532.2 1388.8L1532.7 1386.2L1533.2 1388.7L1533.7 1386.1L1534.2 1388.9L1534.7 1386.0L1535.2 1389.0L1535.7 1385.6L1536.2 1388.6L1536.7 1385.7L1537.2 1388.7L1537.7 1386.1L1538.2 1388.4L1538.7 1386.1L1539.2 1388.5L1539.7 1386.2L1540.2 1388.6L1540.7 1386.2L1541.2 1388.5L1541.7 1385.8L1542.2 1388.2L1542.7 1385.5L1543.2 1388.2L1543.7 1385.5L1544.2 1387.9L1544.7 1385.3L1545.2 1387.4L1545.7 1384.7L1546.2 1386.8L1546.7 1384.3L1547.2 1386.3L1547.7 1384.2L1548.2 1386.2L1548.7 1384.2L1549.2 1385.2L1549.7 1382.8L1550.2 1383.0L1550.7 1380.5L1551.2 1380.3L1551.7 1376.8L1552.2 1374.0L1552.7 1370.0L1553.2 1367.2L1553.7 1363.2L1554.2 1360.3L1554.7 1354.5L1555.2 1349.5L1555.7 1343.3L1556.2 1338.2L1556.7 1332.0L1557.2 1307.2L1557.7 1243.4L1558.2 1235.0L1558.7 1225.7L1559.2 1217.3L1559.7 1209.0L1560.2 1202.0L1560.3 1200.1L1560.7 1206.5L1561.2 1213.5L1561.7 1222.3L1562.2 1230.2L1562.7 1239.1L1563.2 1247.0L1563.7 1294.1L1564.2 1297.0L1564.7 1301.0L1565.2 1303.9L1565.7 1308.8L1566.2 1316.2L1566.7 1324.6L1567.2 1332.1L1567.7 1340.5L1568.2 1348.0L1568.7 1356.4L1569.2 1361.4L1569.7 1365.8L1570.2 1369.2L1570.7 1373.5L1571.2 1376.9L1571.7 1379.5L1572.2 1379.4L1572.7 1382.1L1573.2 1381.9L1573.7 1384.4L1574.2 1383.4L1574.7 1386.5L1575.2 1383.9L1575.7 1386.8L1576.2 1384.1L1576.7 1386.8L1577.2 1384.3L1577.7 1387.1L1578.2 1384.8L1578.7 1387.4L1579.2 1385.2L1579.7 1387.4L1580.2 1385.4L1580.7 1387.8L1581.2 1385.6L1581.7 1387.8L1582.2 1385.9L1582.7 1388.3L1583.2 1386.1L1583.7 1388.5L1584.2 1386.5L1584.7 1388.5L1585.2 1386.6L1585.7 1388.5L1586.2 1386.5L1586.7 1388.5L1587.2 1386.5L1587.7 1388.4L1588.2 1386.1L1588.7 1388.6L1589.2 1386.1L1589.7 1388.5L1590.2 1385.9L1590.7 1388.6L1591.2 1386.3L1591.7 1388.9L1592.2 1386.6L1592.7 1388.9L1593.2 1386.3L1593.7 1388.8L1594.2 1386.3L1594.7 1388.6L1595.2 1385.9L1595.7 1388.4L1596.2 1386.3L1596.7 1388.8L1597.2 1386.0L1597.7 1388.7L1598.2 1386.3L1598.7 1388.9L1599.2 1386.0L1599.7 1388.9L1600.2 1385.9L1600.7 1388.7L1601.2 1386.0L1601.7 1388.9L1602.2 1385.8L1602.7 1388.7L1603.2 1386.1L1603.7 1388.7L1604.2 1386.0L1604.7 1388.8L1605.2 1386.1L1605.7 1388.8L1606.2 1385.9L1606.7 1389.2L1607.2 1386.0L1607.7 1389.2L1608.2 1386.1L1608.7 1388.9L1609.2 1386.0L1609.7 1388.9L1610.2 1385.9L1610.7 1388.7L1611.2 1385.8L1611.7 1388.7L1612.2 1386.1L1612.7 1388.5L1613.2 1386.2L1613.7 1388.5L1614.2 1386.2L1614.7 1388.5L1615.2 1386.2L1615.7 1388.3L1616.2 1386.1L1616.7 1388.4L1617.2 1386.4L1617.7 1388.7L1618.2 1386.5L1618.7 1389.0L1619.2 1386.5L1619.7 1388.8L1620.2 1386.4L1620.7 1388.8L1621.2 1386.4L1621.7 1388.7L1622.2 1386.5L1622.7 1388.8L1623.2 1386.4L1623.7 1388.9L1624.2 1386.4L1624.7 1388.7L1625.2 1386.6L1625.7 1388.6L1626.2 1386.4L1626.7 1388.6L1627.2 1386.5L1627.7 1388.4L1628.2 1386.3L1628.7 1388.6L1629.2 1386.3L1629.7 1388.8L1630.2 1386.3L1630.7 1388.9L1631.2 1386.4L1631.7 1388.8L1632.2 1386.3L1632.7 1388.5L1633.2 1386.5L1633.7 1388.4L1634.2 1386.6L1634.7 1388.4L1635.2 1386.5L1635.7 1388.4L1636.2 1386.5L1636.7 1388.4L1637.2 1386.3L1637.7 1388.4L1638.2 1386.0L1638.7 1388.6L1639.2 1385.9L1639.7 1388.5L1640.2 1386.1L1640.7 1388.5L1641.2 1386.1L1641.7 1388.6L1642.2 1386.2L1642.7 1388.5L1643.2 1386.6L1643.7 1388.2L1644.2 1386.4L1644.7 1388.4L1645.2 1386.3L1645.7 1388.4L1646.2 1386.0L1646.7 1388.7L1647.2 1386.0L1647.7 1388.5L1648.2 1385.9L1648.7 1388.6L1649.2 1385.8L1649.7 1388.1L1650.2 1385.6L1650.7 1387.2L1651.2 1384.9L1651.7 1385.7L1652.2 1383.5L1652.7 1383.0L1653.2 1380.7L1653.7 1379.4L1654.2 1376.8L1654.7 1375.5L1655.2 1372.6L1655.7 1373.8L1656.0 1371.1L1656.2 1373.4L1656.7 1372.5L1657.2 1375.0L1657.7 1376.3L1658.2 1379.0L1658.7 1380.2L1659.2 1382.8L1659.7 1383.0L1660.2 1385.7L1660.7 1384.5L1661.2 1387.0L1661.7 1385.3L1662.2 1387.4L1662.7 1385.5L1663.2 1387.6L1663.7 1385.7L1664.2 1387.7L1664.7 1385.8L1665.2 1387.8L1665.7 1385.6L1666.2 1387.8L1666.7 1385.7L1667.2 1387.8L1667.7 1385.6L1668.2 1387.4L1668.7 1385.4L1669.2 1387.1L1669.7 1385.1L1670.2 1386.7L1670.7 1384.6L1671.2 1386.6L1671.7 1384.2L1672.2 1385.9L1672.7 1383.7L1673.2 1385.6L1673.7 1383.0L1674.2 1384.7L1674.7 1382.3L1675.2 1384.1L1675.7 1381.6L1676.2 1383.2L1676.7 1380.6L1677.2 1382.5L1677.7 1379.9L1678.2 1381.9L1678.7 1379.2L1679.2 1381.1L1679.7 1378.6L1680.2 1380.4L1680.7 1377.7L1681.2 1379.6L1681.7 1377.1L1682.2 1379.4L1682.7 1377.1L1683.2 1379.5L1683.5 1376.8L1683.7 1379.4L1684.2 1377.1L1684.7 1379.8L1685.2 1377.7L1685.7 1380.0L1686.2 1378.1L1686.7 1380.6L1687.2 1378.5L1687.7 1381.2L1688.2 1379.3L1688.7 1381.8L1689.2 1380.0L1689.7 1382.5L1690.2 1381.2L1690.7 1383.5L1691.2 1381.9L1691.7 1384.3L1692.2 1382.6L1692.7 1385.1L1693.2 1383.0L1693.7 1385.7L1694.2 1383.5L1694.7 1386.5L1695.2 1384.3L1695.7 1387.0L1696.2 1384.8L1696.7 1387.2L1697.2 1385.5L1697.7 1387.5L1698.2 1385.8L1698.7 1387.9L1699.2 1385.9L1699.7 1388.5L1700.2 1386.0L1700.7 1388.7L1701.2 1386.0L1701.7 1388.7L1702.2 1386.0L1702.7 1388.2L1703.2 1385.8L1703.7 1388.1L1704.2 1385.6L1704.7 1388.0L1705.2 1385.2L1705.7 1387.4L1706.2 1385.0L1706.7 1387.3L1707.2 1384.7L1707.7 1386.5L1708.2 1383.8L1708.7 1383.5L1709.2 1381.1L1709.7 1380.6L1710.2 1378.3L1710.7 1376.3L1711.2 1368.8L1711.7 1362.4L1712.2 1356.5L1712.7 1354.0L1713.2 1350.5L1713.7 1338.2L1714.2 1318.7L1714.7 1309.0L1715.2 1303.8L1715.4 1303.0L1715.7 1305.1L1716.2 1309.9L1716.7 1313.7L1717.2 1318.8L1717.7 1322.5L1718.2 1334.0L1718.7 1348.3L1719.2 1351.7L1719.7 1350.9L1720.2 1353.9L1720.7 1353.4L1721.2 1356.2L1721.7 1356.2L1722.2 1361.1L1722.7 1369.8L1723.2 1379.5L1723.7 1381.4L1724.2 1384.3L1724.7 1384.7L1725.2 1387.1L1725.7 1384.6L1726.2 1387.2L1726.7 1384.6L1727.2 1387.6L1727.7 1384.4L1728.2 1387.9L1728.7 1385.3L1729.2 1388.2L1729.7 1386.0L1730.2 1388.3L1730.7 1386.6L1731.2 1388.8L1731.7 1386.7L1732.2 1388.8L1732.7 1386.8L1733.2 1388.8L1733.7 1387.0L1734.2 1388.8L1734.7 1386.8L1735.2 1388.8L1735.7 1386.6L1736.2 1388.7L1736.7 1386.4L1737.2 1389.1L1737.7 1386.6L1738.2 1389.8L1738.7 1386.5L1739.2 1391.1L1739.7 1386.5L1740.2 1390.5L1740.7 1386.7L1741.2 1389.8L1741.7 1386.7L1742.2 1389.3L1742.7 1386.7L1743.2 1389.4L1743.7 1386.6L1744.2 1389.1L1744.7 1386.5L1745.2 1389.5L1745.7 1386.5L1746.2 1389.1L1746.7 1386.4L1747.2 1389.2L1747.7 1386.6L1748.2 1389.1L1748.7 1386.8L1749.2 1389.0L1749.7 1386.9L1750.2 1389.0L1750.7 1387.0L1751.2 1389.2L1751.7 1387.0L1752.2 1389.0L1752.7 1386.6L1753.2 1389.3L1753.7 1386.3L1754.2 1389.2L1754.7 1386.3L1755.2 1389.0L1755.7 1386.4L1756.2 1388.8L1756.7 1386.3L1757.2 1388.6L1757.7 1386.4L1758.2 1388.5L1758.7 1386.3L1759.2 1388.5L1759.7 1386.2L1760.2 1388.2L1760.7 1386.1L1761.2 1388.2L1761.7 1385.8L1762.2 1387.0L1762.7 1384.5L1763.2 1385.3L1763.7 1382.9L1764.2 1383.8L1764.7 1381.7L1765.2 1382.5L1765.7 1380.7L1766.2 1368.3L1766.7 1351.8L1767.2 1347.7L1767.7 1345.3L1768.2 1344.2L1768.7 1335.9L1769.2 1328.8L1769.7 1322.5L1770.2 1319.7L1770.4 1316.6L1770.7 1319.2L1771.2 1322.3L1771.7 1326.9L1772.2 1331.1L1772.7 1336.1L1773.2 1340.4L1773.7 1343.7L1774.2 1343.2L1774.7 1345.5L1775.2 1345.1L1775.7 1347.6L1776.2 1347.6L1776.7 1350.2L1777.2 1352.7L1777.7 1356.2L1778.2 1358.7L1778.7 1362.5L1779.2 1365.5L1779.7 1369.3L1780.2 1372.3L1780.7 1376.2L1781.2 1377.4L1781.7 1379.9L1782.2 1379.3L1782.7 1381.9L1783.2 1381.3L1783.7 1383.8L1784.2 1383.4L1784.7 1385.9L1785.2 1385.1L1785.7 1387.8L1786.2 1385.4L1786.7 1387.8L1787.2 1385.7L1787.7 1388.0L1788.2 1385.8L1788.7 1388.2L1789.2 1385.9L1789.7 1388.7L1790.2 1386.0L1790.7 1388.7L1791.2 1386.5L1791.7 1389.1L1792.2 1386.4L1792.7 1389.2L1793.2 1386.4L1793.7 1389.4L1794.2 1386.9L1794.7 1389.3L1795.2 1386.9L1795.7 1389.5L1796.2 1387.2L1796.7 1389.6L1797.2 1387.1L1797.7 1389.5L1798.2 1386.9L1798.7 1389.1L1799.2 1386.9L1799.7 1389.2L1800.2 1386.9L1800.7 1389.0L1801.2 1387.0L1801.7 1388.9L1802.2 1386.9L1802.7 1388.9L1803.2 1386.8L1803.7 1389.0L1804.2 1386.6L1804.7 1389.2L1805.2 1386.5L1805.7 1389.6L1806.2 1386.8L1806.7 1389.2L1807.2 1386.8L1807.7 1388.9L1808.2 1386.7L1808.7 1389.0L1809.2 1386.9L1809.7 1389.0L1810.2 1387.2L1810.7 1389.3L1811.2 1387.1L1811.7 1389.2L1812.2 1387.1L1812.7 1389.3L1813.2 1386.8L1813.7 1389.4L1814.2 1386.4L1814.7 1389.2L1815.2 1386.5L1815.7 1389.3L1816.2 1386.6L1816.7 1389.5L1817.2 1386.9L1817.7 1389.3L1818.2 1386.8L1818.7 1389.1L1819.2 1386.8L1819.7 1389.0L1820.2 1386.8L1820.7 1389.0L1821.2 1386.7L1821.7 1389.2L1822.2 1387.0L1822.7 1389.2L1823.2 1387.1L1823.7 1389.7L1824.2 1386.6L1824.7 1389.6L1825.2 1385.9L1825.7 1389.6L1826.2 1385.8L1826.7 1389.5L1827.2 1386.1L1827.7 1389.5L1828.2 1386.5L1828.7 1389.3L1829.2 1386.9L1829.7 1389.2L1830.2 1387.1L1830.7 1389.1L1831.2 1387.0L1831.7 1389.0L1832.2 1386.9L1832.7 1388.9L1833.2 1387.1L1833.7 1389.0L1834.2 1387.0L1834.7 1389.1L1835.2 1387.2L1835.7 1389.3L1836.2 1387.1L1836.7 1389.3L1837.2 1387.1L1837.7 1389.2L1838.2 1387.2L1838.7 1389.2L1839.2 1387.1L1839.7 1389.3L1840.2 1387.1L1840.7 1389.6L1841.2 1387.1L1841.7 1389.2L1842.2 1387.2L1842.7 1389.3L1843.2 1387.2L1843.7 1389.1L1844.2 1387.3L1844.7 1389.1L1845.2 1387.2L1845.7 1389.1L1846.2 1387.4L1846.7 1389.1L1847.2 1387.3L1847.7 1389.1L1848.2 1387.1L1848.7 1389.2L1849.2 1386.9L1849.7 1389.2L1850.2 1386.9L1850.7 1389.2L1851.2 1387.1L1851.7 1389.4L1852.2 1387.1L1852.7 1389.4L1853.2 1387.0L1853.7 1389.4L1854.2 1386.8L1854.7 1389.3L1855.2 1386.7L1855.7 1389.0L1856.2 1386.9L1856.7 1389.1L1857.2 1386.8L1857.7 1389.2L1858.2 1386.8L1858.7 1389.2L1859.2 1386.8L1859.7 1389.1L1860.2 1386.6L1860.7 1389.1L1861.2 1386.8L1861.7 1389.2L1862.2 1386.7L1862.7 1389.0L1863.2 1386.6L1863.7 1389.2L1864.2 1386.5L1864.7 1389.1L1865.2 1386.7L1865.7 1389.1L1866.2 1386.9L1866.7 1389.0L1867.2 1386.9L1867.7 1389.2L1868.2 1387.0L1868.7 1389.3L1869.2 1386.8L1869.7 1389.3L1870.2 1386.7L1870.7 1389.3L1871.2 1386.5L1871.7 1389.5L1872.2 1386.8L1872.7 1389.5L1873.2 1386.7L1873.7 1389.3L1874.2 1386.8L1874.7 1389.2L1875.2 1386.6L1875.7 1389.0L1876.2 1386.5L1876.7 1388.9L1877.2 1386.3L1877.7 1388.6L1878.2 1386.5L1878.7 1388.6L1879.2 1386.5L1879.7 1388.2L1880.2 1386.5L1880.7 1388.0L1881.2 1385.9L1881.7 1387.5L1882.2 1385.4L1882.7 1387.0L1883.2 1384.7L1883.7 1386.4L1884.2 1383.8L1884.7 1385.7L1885.2 1383.2L1885.7 1384.8L1886.2 1382.5L1886.7 1383.9L1887.2 1381.6L1887.7 1383.2L1888.2 1380.8L1888.7 1383.0L1889.2 1380.3L1889.7 1382.4L1890.2 1380.1L1890.7 1382.3L1891.2 1380.6L1891.7 1382.6L1892.2 1381.2L1892.7 1383.1L1893.2 1381.8L1893.7 1384.0L1894.2 1382.6L1894.7 1385.0L1895.2 1383.4L1895.7 1385.9L1896.2 1384.2L1896.7 1386.6L1897.2 1384.8L1897.7 1387.2L1898.2 1385.5L1898.7 1387.6L1899.2 1386.0L1899.7 1388.1L1900.2 1386.1L1900.7 1388.4L1901.2 1386.2L1901.7 1388.7L1902.2 1386.6L1902.7 1388.9L1903.2 1386.7L1903.7 1389.0L1904.2 1387.1L1904.7 1389.3L1905.2 1387.1L1905.7 1389.2L1906.2 1387.2L1906.7 1389.4L1907.2 1387.1L1907.7 1389.2L1908.2 1387.2L1908.7 1389.3L1909.2 1387.4L1909.7 1389.1L1910.2 1387.5L1910.7 1389.1L1911.2 1387.2L1911.7 1389.3L1912.2 1387.0L1912.7 1389.3L1913.2 1387.0L1913.7 1389.3L1914.2 1386.6L1914.7 1389.5L1915.2 1387.0L1915.7 1389.5L1916.2 1386.9L1916.7 1389.6L1917.2 1386.9L1917.7 1389.4L1918.2 1386.9L1918.7 1389.3L1919.2 1387.1L1919.7 1389.3L1920.2 1386.9L1920.7 1389.5L1921.2 1386.9L1921.7 1389.7L1922.2 1387.1L1922.7 1389.9L1923.2 1387.1L1923.7 1389.5L1924.2 1387.0L1924.7 1389.4L1925.2 1387.0L1925.7 1389.5L1926.2 1387.0L1926.7 1389.3L1927.2 1386.9L1927.7 1389.2L1928.2 1387.0L1928.7 1389.2L1929.2 1387.1L1929.7 1389.6L1930.2 1387.0L1930.7 1389.9L1931.2 1387.3L1931.7 1389.7L1932.2 1387.3L1932.7 1389.5L1933.2 1387.3L1933.7 1389.4L1934.2 1387.5L1934.7 1389.2L1935.2 1387.6L1935.7 1389.6L1936.2 1387.4L1936.7 1389.7L1937.2 1387.3L1937.7 1389.9L1938.2 1387.5L1938.7 1389.9L1939.2 1387.5L1939.7 1389.7L1940.2 1387.5L1940.7 1389.9L1941.2 1387.3L1941.7 1389.6L1942.2 1387.1L1942.7 1389.4L1943.2 1387.1L1943.7 1389.4L1944.2 1387.2L1944.7 1389.4L1945.2 1387.3L1945.7 1389.4L1946.2 1387.3L1946.7 1389.4L1947.2 1387.5L1947.7 1389.3L1948.2 1387.6L1948.7 1389.3L1949.2 1387.6L1949.7 1389.3L1950.2 1387.3L1950.7 1389.5L1951.2 1387.3L1951.7 1389.4L1952.2 1387.0L1952.7 1389.3L1953.2 1387.1L1953.7 1389.3L1954.2 1387.2L1954.7 1389.5L1955.2 1387.4L1955.7 1389.6L1956.2 1387.3L1956.7 1389.3L1957.2 1387.3L1957.7 1389.3L1958.2 1386.9L1958.7 1389.4L1959.2 1387.2L1959.7 1389.5L1960.2 1387.3L1960.7 1389.3L1961.2 1387.3L1961.7 1389.4L1962.2 1387.0L1962.7 1389.2L1963.2 1386.8L1963.7 1388.9L1964.2 1386.1L1964.7 1387.9L1965.2 1385.4L1965.7 1386.9L1966.2 1384.6L1966.7 1384.3L1967.2 1381.7L1967.7 1379.9L1968.2 1377.3L1968.7 1375.5L1969.2 1372.8L1969.7 1371.0L1970.2 1368.3L1970.7 1367.4L1971.2 1364.9L1971.5 1365.4L1971.7 1364.9L1972.2 1367.2L1972.7 1367.5L1973.2 1369.7L1973.7 1370.2L1974.2 1372.5L1974.7 1372.8L1975.2 1375.3L1975.7 1375.5L1976.2 1378.1L1976.7 1378.2L1977.2 1380.9L1977.7 1381.0L1978.2 1383.6L1978.7 1383.1L1979.2 1385.4L1979.7 1384.1L1980.2 1386.3L1980.7 1385.1L1981.2 1387.5L1981.7 1386.1L1982.2 1388.7L1982.7 1386.7L1983.2 1389.3L1983.7 1387.0L1984.2 1389.4L1984.7 1387.3L1985.2 1389.7L1985.7 1387.5L1986.2 1389.6L1986.7 1387.5L1987.2 1389.7L1987.7 1387.6L1988.2 1389.6L1988.7 1387.5L1989.2 1389.7L1989.7 1387.4L1990.2 1389.8L1990.7 1387.4L1991.2 1389.9L1991.7 1387.4L1992.2 1389.8L1992.7 1387.6L1993.2 1389.8L1993.7 1387.7L1994.2 1389.4L1994.7 1387.6L1995.2 1390.1L1995.7 1387.4L1996.2 1390.7L1996.7 1387.1L1997.2 1391.2L1997.7 1387.4L1998.2 1391.2L1998.7 1387.4L1999.2 1390.2L1999.7 1387.6L2000.2 1389.6L2000.7 1387.7L2001.2 1389.5L2001.7 1387.7L2002.2 1389.6L2002.7 1387.5L2003.2 1389.4L2003.7 1387.6L2004.2 1389.6L2004.7 1387.6L2005.2 1389.8L2005.7 1387.6L2006.2 1390.1L2006.7 1387.7L2007.2 1389.7L2007.7 1387.6L2008.2 1389.6L2008.7 1387.7L2009.2 1389.5L2009.7 1387.6L2010.2 1389.6L2010.7 1387.4L2011.2 1389.7L2011.7 1387.4L2012.2 1389.8L2012.7 1387.2L2013.2 1390.0L2013.7 1387.3L2014.2 1390.1L2014.7 1387.3L2015.2 1389.7L2015.7 1387.5L2016.2 1390.4L2016.7 1387.6L2017.2 1390.9L2017.7 1387.4L2018.2 1390.8L2018.7 1387.6L2019.2 1390.6L2019.7 1387.5L2020.2 1389.8L2020.7 1387.6L2021.2 1389.4L2021.7 1387.5L2022.2 1389.6L2022.7 1387.7L2023.2 1389.7L2023.7 1387.6L2024.2 1390.0L2024.7 1387.3L2025.2 1389.9L2025.7 1387.6L2026.2 1389.9L2026.7 1387.5L2027.2 1389.8L2027.7 1387.3L2028.2 1389.7L2028.7 1387.5L2029.2 1389.6L2029.7 1387.2L2030.2 1389.6L2030.7 1387.3L2031.2 1389.9L2031.7 1387.4L2032.2 1389.8L2032.7 1387.4L2033.2 1390.0L2033.7 1387.5L2034.2 1389.9L2034.7 1387.6L2035.2 1390.0L2035.7 1387.9L2036.2 1389.8L2036.7 1387.9L2037.2 1389.6L2037.7 1387.7L2038.2 1389.7L2038.7 1387.7L2039.2 1389.6L2039.7 1387.5L2040.2 1390.1L2040.7 1387.5L2041.2 1389.9L2041.7 1387.4L2042.2 1390.1L2042.7 1387.5L2043.2 1390.0L2043.7 1387.7L2044.2 1390.3L2044.7 1387.7L2045.2 1390.2L2045.7 1387.7L2046.2 1390.1L2046.7 1387.8L2047.2 1390.0L2047.7 1387.7L2048.2 1390.1L2048.7 1387.7L2049.2 1389.9L2049.7 1387.7L2050.2 1389.8L2050.7 1387.8L2051.2 1389.8L2051.7 1387.7L2052.2 1389.8L2052.7 1387.5L2053.2 1389.9L2053.7 1387.6L2054.2 1389.8L2054.7 1387.6L2055.2 1389.9L2055.7 1387.7L2056.2 1389.8L2056.7 1387.8L2057.2 1390.0L2057.7 1388.0L2058.2 1389.8L2058.7 1387.7L2059.2 1390.0L2059.7 1387.4L2060.2 1389.8L2060.7 1387.4L2061.2 1389.9L2061.7 1387.4L2062.2 1390.0L2062.7 1387.4L2063.2 1390.3L2063.7 1387.5L2064.2 1390.0L2064.7 1387.5L2065.2 1389.8L2065.7 1387.7L2066.2 1389.6L2066.7 1387.9L2067.2 1389.7L2067.7 1387.7L2068.2 1389.7L2068.7 1387.5L2069.2 1389.7L2069.7 1387.5L2070.2 1389.9L2070.7 1387.5L2071.2 1389.8L2071.7 1387.5L2072.2 1389.7L2072.7 1387.5L2073.2 1390.0L2073.7 1387.7L2074.2 1390.0L2074.7 1387.6L2075.2 1389.9L2075.7 1387.6L2076.2 1389.8L2076.7 1387.7L2077.2 1389.7L2077.7 1387.4L2078.2 1389.5L2078.7 1387.5L2079.2 1389.7L2079.7 1387.7L2080.2 1389.8L2080.7 1387.7L2081.2 1389.7L2081.7 1387.7L2082.2 1389.9L2082.7 1387.9L2083.2 1389.8L2083.7 1387.9L2084.2 1390.1L2084.7 1387.8L2085.2 1389.9L2085.7 1387.9L2086.2 1389.8L2086.7 1387.8L2087.2 1389.6L2087.7 1388.0L2088.2 1389.8L2088.7 1388.1L2089.2 1389.8L2089.7 1387.9L2090.2 1390.0L2090.7 1387.8L2091.2 1389.9L2091.7 1387.9L2092.2 1390.1L2092.7 1387.6L2093.2 1390.2L2093.7 1387.5L2094.2 1390.0L2094.7 1387.6L2095.2 1390.1L2095.7 1387.6L2096.2 1389.8L2096.7 1387.7L2097.2 1390.1L2097.7 1387.5L2098.2 1390.0L2098.7 1387.8L2099.2 1390.1L2099.7 1387.6L2100.2 1390.3L2100.7 1387.6L2101.2 1390.3L2101.7 1387.7L2102.2 1390.0L2102.7 1387.6L2103.2 1389.9L2103.7 1387.8L2104.2 1389.9L2104.7 1388.1L2105.2 1389.8L2105.7 1388.1L2106.2 1390.0L2106.7 1388.0L2107.2 1390.0L2107.7 1387.7L2108.2 1389.8L2108.7 1387.7L2109.2 1389.9L2109.7 1387.5L2110.2 1390.1L2110.7 1387.4L2111.2 1389.9L2111.7 1387.5L2112.2 1390.0L2112.7 1387.0L2113.2 1389.9L2113.7 1386.4L2114.2 1389.8L2114.7 1386.6L2115.2 1389.8L2115.7 1387.2L2116.2 1389.8L2116.7 1387.6L2117.2 1390.0L2117.7 1387.8L2118.2 1389.9L2118.7 1387.8L2119.2 1389.9L2119.7 1388.0L2120.2 1390.0L2120.7 1387.9L2121.2 1390.0L2121.7 1388.0L2122.2 1389.9L2122.7 1388.1L2123.2 1389.9L2123.7 1388.0L2124.2 1390.0L2124.7 1387.9L2125.2 1390.2L2125.7 1387.9L2126.2 1390.4L2126.7 1387.8L2127.2 1390.4L2127.7 1387.8L2128.2 1390.3L2128.7 1387.7L2129.2 1390.4L2129.7 1387.6L2130.2 1390.4L2130.7 1388.0L2131.2 1390.3L2131.7 1388.0L2132.2 1390.1L2132.7 1388.2L2133.2 1390.3L2133.7 1388.0L2134.2 1390.2L2134.7 1388.1L2135.2 1390.0L2135.7 1388.2L2136.2 1390.1L2136.7 1388.1L2137.2 1390.2L2137.7 1387.9L2138.2 1390.2L2138.7 1388.0L2139.2 1390.1L2139.7 1387.8L2140.2 1390.3L2140.7 1388.1L2141.2 1390.2L2141.7 1388.1L2142.2 1390.1L2142.7 1388.2L2143.2 1390.1L2143.7 1388.0L2144.2 1389.9L2144.7 1388.1L2145.2 1389.9L2145.7 1388.1L2146.2 1389.8L2146.7 1388.1L2147.2 1389.7L2147.7 1388.2L2148.2 1389.8L2148.7 1388.0L2149.2 1389.9L2149.7 1388.2L2150.2 1390.1L2150.7 1388.2L2151.2 1390.0L2151.7 1388.0L2152.2 1390.0L2152.7 1387.9L2153.2 1390.2L2153.7 1387.7L2154.2 1390.4L2154.7 1388.0"/>
<path class="curve" stroke="#0000ee" stroke-width="4.2" d="M380.2 1158.6L380.7 1166.4L381.2 1156.9L381.7 1166.0L382.2 1155.5L382.7 1165.7L383.2 1153.4L383.7 1166.0L384.2 1156.7L384.7 1165.9L385.2 1158.3L385.7 1166.1L386.2 1159.6L386.7 1166.0L387.2 1159.4L387.7 1166.6L388.2 1160.2L388.7 1166.6L389.2 1160.2L389.7 1166.2L390.2 1160.2L390.7 1166.8L391.2 1160.2L391.7 1166.7L392.2 1159.7L392.7 1167.1L393.2 1158.3L393.7 1166.8L394.2 1158.0L394.7 1167.7L395.2 1157.5L395.7 1166.8L396.2 1158.4L396.7 1166.9L397.2 1159.1L397.7 1166.8L398.2 1159.6L398.7 1166.7L399.2 1159.7L399.7 1167.4L400.2 1160.1L400.7 1167.0L401.2 1159.6L401.7 1167.4L402.2 1158.9L402.7 1166.9L403.2 1155.9L403.7 1167.0L404.2 1153.4L404.7 1167.2L405.2 1157.3L405.7 1167.4L406.2 1157.6L406.7 1167.8L407.2 1159.9L407.7 1168.1L408.2 1159.8L408.7 1169.4L409.2 1160.4L409.7 1169.6L410.2 1160.9L410.7 1170.0L411.2 1160.7L411.7 1170.3L412.2 1161.2L412.7 1171.5L413.2 1161.3L413.7 1172.3L414.2 1161.4L414.7 1170.4L415.2 1161.1L415.7 1169.2L416.2 1160.9L416.7 1169.4L417.2 1160.7L417.7 1168.3L418.2 1161.0L418.7 1168.7L419.2 1160.2L419.7 1169.1L420.2 1161.3L420.7 1169.2L421.2 1161.2L421.7 1168.5L422.2 1161.7L422.7 1168.6L423.2 1162.1L423.7 1168.6L424.2 1160.9L424.7 1169.0L425.2 1160.5L425.7 1170.3L426.2 1161.6L426.7 1173.0L427.2 1161.7L427.7 1175.0L428.2 1161.2L428.7 1173.8L429.2 1162.2L429.7 1170.7L430.2 1162.3L430.7 1168.9L431.2 1162.1L431.7 1168.2L432.2 1162.3L432.7 1168.5L433.2 1161.9L433.7 1169.2L434.2 1162.6L434.7 1169.8L435.2 1162.1L435.7 1169.3L436.2 1162.2L436.7 1168.8L437.2 1162.3L437.7 1169.2L438.2 1161.2L438.7 1169.3L439.2 1160.1L439.7 1169.2L440.2 1158.0L440.7 1168.6L441.2 1159.4L441.7 1169.0L442.2 1160.2L442.7 1168.8L443.2 1162.2L443.7 1168.3L444.2 1162.7L444.7 1168.6L445.2 1162.9L445.7 1168.3L446.2 1162.8L446.7 1168.8L447.2 1162.4L447.7 1169.6L448.2 1162.5L448.7 1170.3L449.2 1163.4L449.7 1169.7L450.2 1162.7L450.7 1170.4L451.2 1162.0L451.7 1170.6L452.2 1161.7L452.7 1170.0L453.2 1162.7L453.7 1169.5L454.2 1162.5L454.7 1169.3L455.2 1163.5L455.7 1169.5L456.2 1162.7L456.7 1169.6L457.2 1162.4L457.7 1169.2L458.2 1161.5L458.7 1169.3L459.2 1161.9L459.7 1169.3L460.2 1162.5L460.7 1168.7L461.2 1162.1L461.7 1170.3L462.2 1162.7L462.7 1172.3L463.2 1162.2L463.7 1173.3L464.2 1162.3L464.7 1174.2L465.2 1162.3L465.7 1170.7L466.2 1162.1L466.7 1169.4L467.2 1162.1L467.7 1168.6L468.2 1162.4L468.7 1168.3L469.2 1163.1L469.7 1168.8L470.2 1163.5L470.7 1169.0L471.2 1163.8L471.7 1169.1L472.2 1163.9L472.7 1169.5L473.2 1163.8L473.7 1169.8L474.2 1164.0L474.7 1170.0L475.2 1163.7L475.7 1170.0L476.2 1163.9L476.7 1170.8L477.2 1163.2L477.7 1170.5L478.2 1163.3L478.7 1170.6L479.2 1162.4L479.7 1170.3L480.2 1162.8L480.7 1170.4L481.2 1162.7L481.7 1169.8L482.2 1162.2L482.7 1169.6L483.2 1162.8L483.7 1169.8L484.2 1162.2L484.7 1170.0L485.2 1162.8L485.7 1170.7L486.2 1162.8L486.7 1169.9L487.2 1162.9L487.7 1168.8L488.2 1162.4L488.7 1168.5L489.2 1162.5L489.7 1169.4L490.2 1162.1L490.7 1169.3L491.2 1162.2L491.7 1169.9L492.2 1160.8L492.7 1170.4L493.2 1159.7L493.7 1170.9L494.2 1157.7L494.7 1170.6L495.2 1160.2L495.7 1170.5L496.2 1162.1L496.7 1169.6L497.2 1163.8L497.7 1169.4L498.2 1162.5L498.7 1169.7L499.2 1162.7L499.7 1169.1L500.2 1162.3L500.7 1169.2L501.2 1162.3L501.7 1169.4L502.2 1162.7L502.7 1170.5L503.2 1163.6L503.7 1169.7L504.2 1164.0L504.7 1170.2L505.2 1163.3L505.7 1169.6L506.2 1163.8L506.7 1169.0L507.2 1162.9L507.7 1168.8L508.2 1162.7L508.7 1168.6L509.2 1162.7L509.7 1169.1L510.2 1162.2L510.7 1169.1L511.2 1163.0L511.7 1169.0L512.2 1163.5L512.7 1170.0L513.2 1163.3L513.7 1171.9L514.2 1163.3L514.7 1174.1L515.2 1163.0L515.7 1175.6L516.2 1162.3L516.7 1172.4L517.2 1162.1L517.7 1171.6L518.2 1161.7L518.7 1170.2L519.2 1161.8L519.7 1170.2L520.2 1162.7L520.7 1169.9L521.2 1161.8L521.7 1170.1L522.2 1162.4L522.7 1169.7L523.2 1163.0L523.7 1169.9L524.2 1163.3L524.7 1169.9L525.2 1162.6L525.7 1170.2L526.2 1162.7L526.7 1170.3L527.2 1162.9L527.7 1170.4L528.2 1162.8L528.7 1169.9L529.2 1162.8L529.7 1169.8L530.2 1163.9L530.7 1170.3L531.2 1163.3L531.7 1169.3L532.2 1163.2L532.7 1169.4L533.2 1163.2L533.7 1168.7L534.2 1163.4L534.7 1168.9L535.2 1163.2L535.7 1169.2L536.2 1163.1L536.7 1169.1L537.2 1163.0L537.7 1168.8L538.2 1163.1L538.7 1169.6L539.2 1162.6L539.7 1169.5L540.2 1162.8L540.7 1169.2L541.2 1162.9L541.7 1169.6L542.2 1162.9L542.7 1169.5L543.2 1163.0L543.7 1169.5L544.2 1162.7L544.7 1169.3L545.2 1163.3L545.7 1169.2L546.2 1163.0L546.7 1169.3L547.2 1163.3L547.7 1169.0L548.2 1163.5L548.7 1169.0L549.2 1164.0L549.7 1169.3L550.2 1164.0L550.7 1169.7L551.2 1163.8L551.7 1169.9L552.2 1163.7L552.7 1170.6L553.2 1163.6L553.7 1170.4L554.2 1163.6L554.7 1170.8L555.2 1162.9L555.7 1170.3L556.2 1163.1L556.7 1171.1L557.2 1163.2L557.7 1170.4L558.2 1162.8L558.7 1170.4L559.2 1163.8L559.7 1169.3L560.2 1163.4L560.7 1169.2L561.2 1163.6L561.7 1169.2L562.2 1164.2L562.7 1169.2L563.2 1164.4L563.7 1169.7L564.2 1163.8L564.7 1169.3L565.2 1163.3L565.7 1169.3L566.2 1163.1L566.7 1169.8L567.2 1162.3L567.7 1170.2L568.2 1162.1L568.7 1170.5L569.2 1162.9L569.7 1169.7L570.2 1162.3L570.7 1170.3L571.2 1163.3L571.7 1169.5L572.2 1163.2L572.7 1169.9L573.2 1163.4L573.7 1169.3L574.2 1162.9L574.7 1169.3L575.2 1163.2L575.7 1170.0L576.2 1163.8L576.7 1169.5L577.2 1164.3L577.7 1169.5L578.2 1164.1L578.7 1170.0L579.2 1164.3L579.7 1171.9L580.2 1163.5L580.7 1172.5L581.2 1163.3L581.7 1172.9L582.2 1163.5L582.7 1171.7L583.2 1163.7L583.7 1171.3L584.2 1163.3L584.7 1170.2L585.2 1163.0L585.7 1170.2L586.2 1163.8L586.7 1169.7L587.2 1163.8L587.7 1169.6L588.2 1162.1L588.7 1170.4L589.2 1159.3L589.7 1170.2L590.2 1156.5L590.7 1170.1L591.2 1159.3L591.7 1171.2L592.2 1160.4L592.7 1171.3L593.2 1162.5L593.7 1171.0L594.2 1162.4L594.7 1170.2L595.2 1162.9L595.7 1170.3L596.2 1162.5L596.7 1170.8L597.2 1162.6L597.7 1170.8L598.2 1163.5L598.7 1170.3L599.2 1163.3L599.7 1170.1L600.2 1164.0L600.7 1170.9L601.2 1163.9L601.7 1170.3L602.2 1163.5L602.7 1169.7L603.2 1163.7L603.7 1169.8L604.2 1163.8L604.7 1169.6L605.2 1163.7L605.7 1169.7L606.2 1164.1L606.7 1170.6L607.2 1164.2L607.7 1170.6L608.2 1163.5L608.7 1171.8L609.2 1164.0L609.7 1171.7L610.2 1164.0L610.7 1173.7L611.2 1163.4L611.7 1173.9L612.2 1163.8L612.7 1172.6L613.2 1163.6L613.7 1171.5L614.2 1163.9L614.7 1171.8L615.2 1163.9L615.7 1173.4L616.2 1164.0L616.7 1174.4L617.2 1164.3L617.7 1174.1L618.2 1163.6L618.7 1172.1L619.2 1163.6L619.7 1170.1L620.2 1163.7L620.7 1169.5L621.2 1163.2L621.7 1168.3L622.2 1161.6L622.7 1167.5L623.2 1159.8L623.7 1166.3L624.2 1157.7L624.7 1164.4L625.2 1156.0L625.7 1162.9L626.0 1155.2L626.2 1162.9L626.7 1156.2L627.2 1163.2L627.7 1157.6L628.2 1165.5L628.7 1159.6L629.2 1166.7L629.7 1161.1L630.2 1167.7L630.7 1162.7L631.2 1168.1L631.7 1163.0L632.2 1168.7L632.7 1162.9L633.2 1169.3L633.7 1163.4L634.2 1170.2L634.7 1162.5L635.2 1170.8L635.7 1162.5L636.2 1170.2L636.7 1163.4L637.2 1170.3L637.7 1162.7L638.2 1170.6L638.7 1162.8L639.2 1170.2L639.7 1163.3L640.2 1170.5L640.7 1162.9L641.2 1170.4L641.7 1162.5L642.2 1170.8L642.7 1164.1L643.2 1170.4L643.7 1164.2L644.2 1169.7L644.7 1164.6L645.2 1169.7L645.7 1164.1L646.2 1170.2L646.7 1164.4L647.2 1170.5L647.7 1164.4L648.2 1170.4L648.7 1164.2L649.2 1170.3L649.7 1164.0L650.2 1171.2L650.7 1164.4L651.2 1170.0L651.7 1164.2L652.2 1170.4L652.7 1164.2L653.2 1169.5L653.7 1164.0L654.2 1169.8L654.7 1163.3L655.2 1169.4L655.7 1162.8L656.2 1169.5L656.7 1160.9L657.2 1168.3L657.7 1157.7L658.2 1166.3L658.7 1154.0L659.2 1163.8L659.7 1151.1L660.2 1160.5L660.7 1150.2L661.2 1158.0L661.7 1148.9L662.0 1156.9L662.2 1149.9L662.7 1157.4L663.2 1151.6L663.7 1160.7L664.2 1154.6L664.7 1163.2L665.2 1157.9L665.7 1165.9L666.2 1158.0L666.7 1167.8L667.2 1158.7L667.7 1168.6L668.2 1159.0L668.7 1169.1L669.2 1160.1L669.7 1169.8L670.2 1162.5L670.7 1170.1L671.2 1164.4L671.7 1169.9L672.2 1163.8L672.7 1170.2L673.2 1163.7L673.7 1170.5L674.2 1163.7L674.7 1170.9L675.2 1163.5L675.7 1170.0L676.2 1164.3L676.7 1169.9L677.2 1164.2L677.7 1169.4L678.2 1163.9L678.7 1170.1L679.2 1163.9L679.7 1170.2L680.2 1163.1L680.7 1170.3L681.2 1163.5L681.7 1169.8L682.2 1163.5L682.7 1169.7L683.2 1163.4L683.7 1169.5L684.2 1163.8L684.7 1169.9L685.2 1164.2L685.7 1170.5L686.2 1164.5L686.7 1169.8L687.2 1164.7L687.7 1170.2L688.2 1164.0L688.7 1170.1L689.2 1163.1L689.7 1170.1L690.2 1163.2L690.7 1169.8L691.2 1164.4L691.7 1170.8L692.2 1164.1L692.7 1170.5L693.2 1164.6L693.7 1170.4L694.2 1163.8L694.7 1169.8L695.2 1163.5L695.7 1169.6L696.2 1163.9L696.7 1170.4L697.2 1163.7L697.7 1170.9L698.2 1163.8L698.7 1170.9L699.2 1163.6L699.7 1170.5L700.2 1163.7L700.7 1170.4L701.2 1164.7L701.7 1170.2L702.2 1164.6L702.7 1169.9L703.2 1164.4L703.7 1169.6L704.2 1163.3L704.7 1169.9L705.2 1163.8L705.7 1169.7L706.2 1163.9L706.7 1170.4L707.2 1164.4L707.7 1170.5L708.2 1164.4L708.7 1171.1L709.2 1163.7L709.7 1171.3L710.2 1162.9L710.7 1172.0L711.2 1163.7L711.7 1173.9L712.2 1164.7L712.7 1173.8L713.2 1165.3L713.7 1175.6L714.2 1164.9L714.7 1175.8L715.2 1164.5L715.7 1174.4L716.2 1163.4L716.7 1175.3L717.2 1164.1L717.7 1173.6L718.2 1164.9L718.7 1171.6L719.2 1165.1L719.7 1171.6L720.2 1164.7L720.7 1171.0L721.2 1164.3L721.7 1170.6L722.2 1163.6L722.7 1170.7L723.2 1163.4L723.7 1170.5L724.2 1163.8L724.7 1169.8L725.2 1164.4L725.7 1170.7L726.2 1163.3L726.7 1171.7L727.2 1161.7L727.7 1173.2L728.2 1159.7L728.7 1174.9L729.2 1161.3L729.7 1172.4L730.2 1162.4L730.7 1171.5L731.2 1163.9L731.7 1170.5L732.2 1163.4L732.7 1169.9L733.2 1163.6L733.7 1169.0L734.2 1162.5L734.7 1168.8L735.2 1162.8L735.7 1168.7L736.2 1161.9L736.7 1167.5L737.2 1161.2L737.7 1166.3L738.2 1158.2L738.7 1161.7L739.2 1152.4L739.7 1154.5L740.2 1143.2L740.7 1144.2L741.2 1133.4L741.7 1135.1L742.0 1130.3L742.2 1135.0L742.7 1133.3L743.2 1143.2L743.7 1143.1L744.2 1155.2L744.7 1152.5L745.2 1164.8L745.7 1157.8L746.2 1170.8L746.7 1160.2L747.2 1170.7L747.7 1161.8L748.2 1170.8L748.7 1162.5L749.2 1168.9L749.7 1162.9L750.2 1169.9L750.7 1163.6L751.2 1169.8L751.7 1163.7L752.2 1170.4L752.7 1163.7L753.2 1170.3L753.7 1163.3L754.2 1169.8L754.7 1163.4L755.2 1169.4L755.7 1162.9L756.2 1170.1L756.7 1164.1L757.2 1170.8L757.7 1164.0L758.2 1172.2L758.7 1163.9L759.2 1171.1L759.7 1164.3L760.2 1170.9L760.7 1165.1L761.2 1170.7L761.7 1165.1L762.2 1170.4L762.7 1165.4L763.2 1170.6L763.7 1165.0L764.2 1171.6L764.7 1163.6L765.2 1171.6L765.7 1162.6L766.2 1171.5L766.7 1160.6L767.2 1171.5L767.7 1161.8L768.2 1170.8L768.7 1162.6L769.2 1170.9L769.7 1163.8L770.2 1170.7L770.7 1164.3L771.2 1170.7L771.7 1164.4L772.2 1171.1L772.7 1164.2L773.2 1171.1L773.7 1164.8L774.2 1170.8L774.7 1165.0L775.2 1171.0L775.7 1165.2L776.2 1171.1L776.7 1164.3L777.2 1171.4L777.7 1162.6L778.2 1170.7L778.7 1161.1L779.2 1170.5L779.7 1160.5L780.2 1170.9L780.7 1162.6L781.2 1171.2L781.7 1164.5L782.2 1171.1L782.7 1163.9L783.2 1171.0L783.7 1163.3L784.2 1171.3L784.7 1160.5L785.2 1170.8L785.7 1160.9L786.2 1171.1L786.7 1163.2L787.2 1171.5L787.7 1164.9L788.2 1171.4L788.7 1165.1L789.2 1171.4L789.7 1165.1L790.2 1170.7L790.7 1165.4L791.2 1171.0L791.7 1165.1L792.2 1170.4L792.7 1164.9L793.2 1170.7L793.7 1164.9L794.2 1170.4L794.7 1164.3L795.2 1171.2L795.7 1164.3L796.2 1171.3L796.7 1164.7L797.2 1171.8L797.7 1165.3L798.2 1172.2L798.7 1164.6L799.2 1171.6L799.7 1165.2L800.2 1170.6L800.7 1165.6L801.2 1171.1L801.7 1165.2L802.2 1170.8L802.7 1165.2L803.2 1170.7L803.7 1165.1L804.2 1172.3L804.7 1165.3L805.2 1173.0L805.7 1165.0L806.2 1175.2L806.7 1165.2L807.2 1174.3L807.7 1164.1L808.2 1172.0L808.7 1164.6L809.2 1170.7L809.7 1163.7L810.2 1170.8L810.7 1161.3L811.2 1170.5L811.7 1160.5L812.2 1170.2L812.7 1159.8L813.2 1170.2L813.7 1161.3L814.2 1169.2L814.7 1162.1L815.0 1169.6L815.2 1163.6L815.7 1169.7L816.2 1163.2L816.7 1169.7L817.2 1164.2L817.7 1170.4L818.2 1165.0L818.7 1170.5L819.2 1164.6L819.7 1171.0L820.2 1164.0L820.7 1171.7L821.2 1163.5L821.7 1171.4L822.2 1164.9L822.7 1171.2L823.2 1165.2L823.7 1170.8L824.2 1166.0L824.7 1171.0L825.2 1165.1L825.7 1170.7L826.2 1164.2L826.7 1170.8L827.2 1163.6L827.7 1171.0L828.2 1164.1L828.7 1171.1L829.2 1162.9L829.7 1170.7L830.2 1162.4L830.7 1171.2L831.2 1163.2L831.7 1171.2L832.2 1163.5L832.7 1170.7L833.2 1164.6L833.7 1171.2L834.2 1164.3L834.7 1170.9L835.2 1164.4L835.7 1171.1L836.2 1164.5L836.7 1171.5L837.2 1164.7L837.7 1171.7L838.2 1164.7L838.7 1171.2L839.2 1164.9L839.7 1170.9L840.2 1164.8L840.7 1171.5L841.2 1164.8L841.7 1171.3L842.2 1164.9L842.7 1172.6L843.2 1165.0L843.7 1173.0L844.2 1164.4L844.7 1173.3L845.2 1164.7L845.7 1174.8L846.2 1165.3L846.7 1174.7L847.2 1164.8L847.7 1175.1L848.2 1165.6L848.7 1174.1L849.2 1163.7L849.7 1173.1L850.2 1161.8L850.7 1171.9L851.2 1159.1L851.7 1171.3L852.2 1160.7L852.7 1170.8L853.2 1163.8L853.7 1170.9L854.2 1165.1L854.7 1170.6L855.2 1165.1L855.7 1170.9L856.2 1164.9L856.7 1170.7L857.2 1164.8L857.7 1169.9L858.2 1164.5L858.7 1169.7L859.2 1164.1L859.7 1169.3L860.2 1163.4L860.7 1168.2L861.2 1162.2L861.7 1166.9L862.2 1161.0L862.7 1164.7L863.2 1158.8L863.7 1162.2L864.2 1155.9L864.7 1160.1L865.2 1152.7L865.7 1158.1L866.2 1144.8L866.7 1133.9L867.2 1019.4L867.7 1016.6L868.2 1011.1L868.7 999.1L869.2 982.1L869.6 953.4L869.7 959.6L870.2 990.2L870.7 1003.9L871.2 1014.7L871.7 1016.8L872.2 1023.4L872.7 1135.5L873.2 1158.4L873.7 1151.7L874.2 1161.2L874.7 1154.1L875.2 1162.2L875.7 1156.9L876.2 1164.2L876.7 1159.5L877.2 1166.2L877.7 1161.2L878.2 1168.1L878.7 1161.6L879.2 1170.3L879.7 1162.5L880.2 1172.7L880.7 1162.5L881.2 1173.3L881.7 1163.1L882.2 1173.7L882.7 1162.5L883.2 1171.6L883.7 1160.9L884.2 1170.4L884.7 1161.2L885.2 1170.1L885.7 1162.7L886.2 1170.1L886.7 1163.6L887.2 1170.1L887.7 1163.9L888.2 1170.4L888.7 1164.0L889.2 1170.3L889.7 1163.9L890.2 1170.8L890.7 1163.8L891.2 1170.7L891.7 1164.0L892.2 1170.6L892.7 1164.2L893.2 1170.5L893.7 1164.9L894.2 1170.6L894.7 1164.6L895.2 1171.3L895.7 1165.7L896.2 1171.4L896.7 1165.4L897.2 1170.8L897.7 1165.3L898.2 1170.4L898.7 1164.7L899.2 1170.8L899.7 1165.1L900.2 1172.2L900.7 1164.6L901.2 1172.5L901.7 1164.7L902.2 1173.3L902.7 1164.1L903.2 1174.8L903.7 1164.1L904.2 1173.7L904.7 1163.9L905.2 1175.0L905.7 1163.9L906.2 1173.8L906.7 1164.0L907.2 1171.7L907.7 1163.2L908.2 1170.1L908.7 1162.6L909.2 1169.1L909.7 1161.6L910.2 1167.8L910.7 1160.3L911.2 1167.0L911.7 1159.5L912.2 1164.1L912.7 1155.6L913.2 1161.1L913.7 1152.9L914.2 1158.2L914.7 1149.3L915.2 1155.5L915.7 1145.0L916.2 1132.5L916.7 975.6L917.2 971.6L917.7 964.8L918.2 954.6L918.7 932.7L919.2 896.2L919.3 884.9L919.7 926.1L920.2 944.8L920.7 964.0L921.2 967.8L921.7 974.9L922.2 1118.3L922.7 1145.7L923.2 1147.0L923.7 1155.9L924.2 1150.3L924.7 1158.6L925.2 1154.2L925.7 1161.4L926.2 1158.2L926.7 1164.8L927.2 1160.6L927.7 1166.8L928.2 1161.7L928.7 1168.7L929.2 1163.0L929.7 1169.4L930.2 1163.6L930.7 1170.2L931.2 1163.3L931.7 1170.4L932.2 1164.3L932.7 1170.4L933.2 1164.3L933.7 1170.9L934.2 1163.8L934.7 1170.7L935.2 1163.9L935.7 1171.6L936.2 1164.8L936.7 1173.0L937.2 1165.4L937.7 1173.2L938.2 1165.7L938.7 1173.9L939.2 1164.7L939.7 1173.0L940.2 1164.9L940.7 1171.8L941.2 1163.7L941.7 1171.3L942.2 1164.6L942.7 1171.3L943.2 1165.0L943.7 1171.3L944.2 1165.1L944.7 1170.7L945.2 1163.4L945.7 1171.0L946.2 1160.0L946.7 1169.6L947.2 1156.3L947.7 1165.0L948.2 1152.8L948.7 1157.9L949.2 1145.8L949.7 1151.6L950.0 1144.5L950.2 1150.8L950.7 1147.1L951.2 1156.4L951.7 1154.1L952.2 1164.0L952.7 1160.1L953.2 1168.7L953.7 1162.7L954.2 1171.1L954.7 1163.8L955.2 1173.1L955.7 1164.4L956.2 1173.6L956.7 1164.1L957.2 1173.6L957.7 1164.3L958.2 1172.0L958.7 1163.3L959.2 1170.2L959.7 1163.4L960.2 1169.8L960.7 1163.3L961.2 1169.0L961.7 1162.6L962.2 1167.3L962.7 1160.9L963.2 1165.9L963.7 1159.2L964.2 1163.9L964.7 1157.4L965.2 1160.3L965.7 1145.9L966.2 1066.6L966.7 1062.5L967.2 1060.8L967.7 1053.6L968.2 1043.7L968.7 1022.2L968.8 1018.2L969.2 1038.2L969.7 1050.4L970.2 1058.4L970.7 1062.7L971.2 1064.4L971.7 1146.3L972.2 1152.2L972.7 1162.6L973.2 1157.4L973.7 1164.1L974.2 1159.1L974.7 1165.7L975.2 1160.7L975.7 1166.7L976.2 1161.9L976.7 1168.7L977.2 1162.5L977.7 1168.9L978.2 1163.2L978.7 1169.5L979.2 1164.4L979.7 1170.2L980.2 1164.6L980.7 1170.6L981.2 1164.8L981.7 1170.8L982.2 1165.0L982.7 1170.9L983.2 1165.3L983.7 1171.1L984.2 1165.2L984.7 1172.2L985.2 1164.7L985.7 1172.1L986.2 1165.5L986.7 1172.0L987.2 1165.4L987.7 1171.8L988.2 1166.4L988.7 1172.5L989.2 1167.0L989.7 1172.4L990.2 1166.3L990.7 1171.8L991.2 1166.2L991.7 1172.4L992.2 1165.1L992.7 1171.9L993.2 1166.2L993.7 1172.6L994.2 1166.5L994.7 1172.2L995.2 1167.1L995.7 1172.0L996.2 1166.8L996.7 1172.7L997.2 1165.8L997.7 1172.5L998.2 1165.3L998.7 1172.9L999.2 1165.7L999.7 1172.8L1000.2 1165.1L1000.7 1172.3L1001.2 1165.4L1001.7 1172.4L1002.2 1165.5L1002.7 1172.1L1003.2 1166.0L1003.7 1172.7L1004.2 1165.9L1004.7 1173.0L1005.2 1166.4L1005.7 1172.6L1006.2 1166.7L1006.7 1172.2L1007.2 1167.1L1007.7 1172.0L1008.2 1166.5L1008.7 1172.7L1009.2 1166.2L1009.7 1172.4L1010.2 1166.4L1010.7 1172.9L1011.2 1166.0L1011.7 1173.2L1012.2 1165.7L1012.7 1172.5L1013.2 1166.0L1013.7 1173.0L1014.2 1165.7L1014.7 1173.6L1015.2 1166.3L1015.7 1174.2L1016.2 1166.4L1016.7 1174.8L1017.2 1166.2L1017.7 1174.0L1018.2 1165.5L1018.7 1173.5L1019.2 1165.8L1019.7 1173.3L1020.2 1165.6L1020.7 1173.0L1021.2 1165.5L1021.7 1172.8L1022.2 1165.6L1022.7 1172.6L1023.2 1165.9L1023.7 1172.1L1024.2 1166.3L1024.7 1172.7L1025.2 1166.8L1025.7 1172.8L1026.2 1165.2L1026.7 1172.6L1027.2 1163.6L1027.7 1172.7L1028.2 1163.2L1028.7 1173.2L1029.2 1162.0L1029.7 1172.8L1030.2 1163.6L1030.7 1173.2L1031.2 1162.2L1031.7 1173.0L1032.2 1164.7L1032.7 1172.4L1033.2 1165.1L1033.7 1172.3L1034.2 1166.8L1034.7 1172.6L1035.2 1166.4L1035.7 1172.8L1036.2 1166.1L1036.7 1172.1L1037.2 1165.6L1037.7 1172.7L1038.2 1165.6L1038.7 1171.6L1039.2 1164.9L1039.7 1171.4L1040.2 1164.1L1040.7 1171.2L1041.2 1163.7L1041.7 1170.5L1042.2 1163.7L1042.7 1169.8L1043.0 1163.8L1043.2 1169.6L1043.7 1164.1L1044.2 1171.0L1044.7 1164.7L1045.2 1173.5L1045.7 1164.7L1046.2 1174.4L1046.7 1165.4L1047.2 1176.7L1047.7 1165.8L1048.2 1176.6L1048.7 1165.9L1049.2 1176.9L1049.7 1166.6L1050.2 1175.7L1050.7 1166.9L1051.2 1174.1L1051.7 1167.2L1052.2 1173.0L1052.7 1166.8L1053.2 1172.8L1053.7 1166.6L1054.2 1172.6L1054.7 1166.2L1055.2 1171.9L1055.7 1166.7L1056.2 1172.4L1056.7 1166.9L1057.2 1172.6L1057.7 1166.8L1058.2 1172.5L1058.7 1166.8L1059.2 1172.7L1059.7 1166.2L1060.2 1172.4L1060.7 1166.3L1061.2 1172.4L1061.7 1166.3L1062.2 1172.9L1062.7 1165.9L1063.2 1173.0L1063.7 1165.4L1064.2 1172.4L1064.7 1166.1L1065.2 1173.0L1065.7 1166.6L1066.2 1173.2L1066.7 1167.3L1067.2 1173.8L1067.7 1167.5L1068.2 1173.8L1068.7 1166.5L1069.2 1173.0L1069.7 1166.2L1070.2 1172.9L1070.7 1166.6L1071.2 1172.2L1071.7 1166.5L1072.2 1172.3L1072.7 1166.7L1073.2 1171.8L1073.7 1166.9L1074.2 1172.4L1074.7 1166.7L1075.2 1172.6L1075.7 1166.7L1076.2 1172.9L1076.7 1166.7L1077.2 1172.7L1077.7 1166.8L1078.2 1172.4L1078.7 1167.5L1079.2 1172.1L1079.7 1167.8L1080.2 1173.5L1080.7 1167.2L1081.2 1175.8L1081.7 1167.0L1082.2 1177.2L1082.7 1166.8L1083.2 1174.4L1083.7 1165.0L1084.2 1173.1L1084.7 1164.7L1085.2 1172.0L1085.7 1165.0L1086.2 1171.9L1086.7 1165.4L1087.2 1173.0L1087.7 1166.4L1088.2 1172.7L1088.7 1167.3L1089.2 1172.4L1089.7 1166.5L1090.2 1172.7L1090.7 1166.0L1091.2 1172.0L1091.7 1165.7L1092.2 1172.4L1092.7 1166.5L1093.2 1171.8L1093.7 1166.6L1094.2 1172.0L1094.7 1167.2L1095.2 1172.0L1095.7 1166.6L1096.2 1171.8L1096.7 1166.6L1097.2 1172.3L1097.7 1166.0L1098.2 1171.8L1098.7 1165.1L1099.2 1172.1L1099.7 1164.3L1100.2 1170.6L1100.7 1163.1L1101.2 1169.4L1101.7 1161.9L1102.2 1166.6L1102.7 1159.2L1103.2 1163.0L1103.7 1156.0L1104.2 1160.3L1104.7 1150.3L1105.2 1156.3L1105.7 1145.2L1106.2 1153.5L1106.7 1140.5L1107.2 1149.3L1107.4 1139.8L1107.7 1150.6L1108.2 1141.7L1108.7 1152.8L1109.2 1145.9L1109.7 1157.3L1110.2 1151.1L1110.7 1161.7L1111.2 1156.3L1111.7 1165.6L1112.2 1160.9L1112.7 1168.2L1113.2 1162.9L1113.7 1169.7L1114.2 1164.0L1114.7 1171.6L1115.2 1164.2L1115.7 1171.8L1116.2 1165.5L1116.7 1171.9L1117.2 1165.9L1117.7 1172.0L1118.2 1165.5L1118.7 1171.8L1119.2 1165.8L1119.7 1171.5L1120.2 1165.7L1120.7 1171.4L1121.2 1166.2L1121.7 1171.6L1122.2 1165.0L1122.7 1171.8L1123.2 1163.8L1123.7 1171.7L1124.2 1163.7L1124.7 1172.2L1125.2 1164.1L1125.7 1172.3L1126.2 1165.2L1126.7 1172.9L1127.2 1166.7L1127.7 1172.5L1128.2 1166.1L1128.7 1172.8L1129.2 1166.6L1129.7 1172.2L1130.2 1165.9L1130.7 1172.1L1131.2 1166.5L1131.7 1172.5L1132.2 1167.0L1132.7 1173.5L1133.2 1167.3L1133.7 1173.5L1134.2 1167.3L1134.7 1173.1L1135.2 1167.0L1135.7 1173.0L1136.2 1166.7L1136.7 1173.0L1137.2 1167.3L1137.7 1173.6L1138.2 1167.6L1138.7 1173.3L1139.2 1168.0L1139.7 1173.7L1140.2 1167.9L1140.7 1173.4L1141.2 1167.1L1141.7 1172.9L1142.2 1167.3L1142.7 1173.3L1143.2 1166.6L1143.7 1172.8L1144.2 1166.9L1144.7 1173.5L1145.2 1166.4L1145.7 1173.0L1146.2 1166.4L1146.7 1173.1L1147.2 1166.1L1147.7 1173.0L1148.2 1166.9L1148.7 1173.7L1149.2 1167.3L1149.7 1173.1L1150.2 1167.1L1150.7 1172.4L1151.2 1167.7L1151.7 1172.8L1152.2 1167.9L1152.7 1172.5L1153.2 1167.7L1153.7 1172.6L1154.2 1167.7L1154.7 1172.9L1155.2 1167.6L1155.7 1172.8L1156.2 1167.7L1156.7 1172.2L1157.2 1167.2L1157.7 1172.3L1158.2 1167.3L1158.7 1173.1L1159.2 1167.4L1159.7 1173.3L1160.2 1168.0L1160.7 1173.7L1161.2 1166.6L1161.7 1173.6L1162.2 1165.6L1162.7 1173.5L1163.2 1163.3L1163.7 1172.9L1164.2 1164.8L1164.7 1173.1L1165.2 1166.2L1165.7 1172.9L1166.2 1166.0L1166.7 1173.3L1167.2 1167.2L1167.7 1172.6L1168.2 1167.4L1168.7 1172.7L1169.2 1167.9L1169.7 1172.8L1170.2 1167.7L1170.7 1173.6L1171.2 1167.7L1171.7 1174.0L1172.2 1167.7L1172.7 1173.7L1173.2 1167.3L1173.7 1174.0L1174.2 1167.0L1174.7 1173.5L1175.2 1167.0L1175.7 1173.3L1176.2 1166.7L1176.7 1173.1L1177.2 1165.0L1177.7 1172.8L1178.2 1164.6L1178.7 1172.6L1179.2 1165.2L1179.7 1172.7L1180.2 1167.0L1180.7 1172.4L1181.2 1168.2L1181.7 1173.1L1182.2 1168.1L1182.7 1174.9L1183.2 1168.2L1183.7 1176.4L1184.2 1168.4L1184.7 1178.3L1185.2 1168.0L1185.7 1176.8L1186.2 1167.9L1186.7 1176.1L1187.2 1167.9L1187.7 1175.2L1188.2 1168.2L1188.7 1174.7L1189.2 1168.1L1189.7 1173.0L1190.2 1168.1L1190.7 1172.5L1191.2 1167.2L1191.7 1172.3L1192.2 1165.1L1192.7 1172.3L1193.2 1164.1L1193.7 1172.2L1194.2 1164.8L1194.7 1173.1L1195.2 1166.3L1195.7 1173.6L1196.2 1168.1L1196.7 1173.4L1197.2 1166.4L1197.7 1173.2L1198.2 1163.5L1198.7 1173.1L1199.2 1162.6L1199.7 1173.4L1200.2 1165.0L1200.7 1174.3L1201.2 1166.3L1201.7 1174.7L1202.2 1167.6L1202.7 1175.5L1203.2 1168.1L1203.7 1173.7L1204.2 1168.0L1204.7 1172.6L1205.2 1167.9L1205.7 1172.2L1206.2 1166.5L1206.7 1172.5L1207.2 1165.4L1207.7 1172.4L1208.2 1164.2L1208.7 1172.8L1209.2 1162.7L1209.7 1172.6L1210.2 1163.4L1210.7 1172.8L1211.2 1160.9L1211.7 1172.9L1212.2 1163.2L1212.7 1172.6L1213.2 1164.5L1213.7 1172.4L1214.2 1164.8L1214.7 1169.8L1215.2 1161.8L1215.7 1165.7L1216.2 1157.0L1216.7 1160.1L1217.2 1152.0L1217.6 1157.0L1217.7 1150.7L1218.2 1158.3L1218.7 1153.0L1219.2 1163.8L1219.7 1157.3L1220.2 1168.7L1220.7 1160.6L1221.2 1172.8L1221.7 1164.7L1222.2 1174.7L1222.7 1166.8L1223.2 1177.2L1223.7 1167.6L1224.2 1175.6L1224.7 1167.1L1225.2 1173.7L1225.7 1167.4L1226.2 1172.4L1226.7 1167.6L1227.2 1172.8L1227.7 1167.6L1228.2 1173.2L1228.7 1168.2L1229.2 1173.5L1229.7 1168.3L1230.2 1173.6L1230.7 1168.0L1231.2 1173.2L1231.7 1167.7L1232.2 1173.1L1232.7 1167.9L1233.2 1173.0L1233.7 1168.3L1234.2 1173.4L1234.7 1168.5L1235.2 1173.4L1235.7 1167.9L1236.2 1173.3L1236.7 1167.9L1237.2 1172.8L1237.7 1166.7L1238.2 1172.5L1238.7 1167.0L1239.2 1172.6L1239.7 1167.2L1240.2 1172.5L1240.7 1167.5L1241.2 1172.9L1241.7 1167.0L1242.2 1172.7L1242.7 1167.2L1243.2 1172.6L1243.7 1167.4L1244.2 1173.0L1244.7 1166.1L1245.2 1173.0L1245.7 1164.9L1246.2 1172.7L1246.7 1163.0L1247.2 1173.0L1247.7 1163.9L1248.2 1173.3L1248.7 1165.2L1249.2 1173.1L1249.7 1166.4L1250.2 1173.2L1250.7 1167.4L1251.2 1173.5L1251.7 1167.3L1252.2 1173.3L1252.7 1167.8L1253.2 1172.8L1253.7 1168.3L1254.2 1173.2L1254.7 1167.6L1255.2 1173.4L1255.7 1167.7L1256.2 1173.2L1256.7 1167.1L1257.2 1172.9L1257.7 1167.7L1258.2 1172.7L1258.7 1167.5L1259.2 1172.7L1259.7 1167.0L1260.2 1172.4L1260.7 1167.4L1261.2 1172.4L1261.7 1167.7L1262.2 1173.1L1262.7 1168.4L1263.2 1172.7L1263.7 1168.3L1264.2 1173.0L1264.7 1168.3L1265.2 1172.7L1265.7 1168.5L1266.2 1173.4L1266.7 1168.3L1267.2 1173.1L1267.7 1168.0L1268.2 1173.5L1268.7 1167.9L1269.2 1173.8L1269.7 1167.8L1270.2 1173.7L1270.7 1168.0L1271.2 1173.8L1271.7 1167.2L1272.2 1174.2L1272.7 1167.7L1273.2 1174.0L1273.7 1167.9L1274.2 1174.4L1274.7 1168.5L1275.2 1174.1L1275.7 1168.3L1276.2 1173.4L1276.7 1167.6L1277.2 1173.3L1277.7 1168.1L1278.2 1173.1L1278.7 1168.2L1279.2 1173.0L1279.7 1168.1L1280.2 1173.2L1280.7 1167.8L1281.2 1173.1L1281.7 1168.1L1282.2 1173.4L1282.7 1168.7L1283.2 1172.8L1283.7 1168.7L1284.2 1173.2L1284.7 1168.3L1285.2 1173.8L1285.7 1168.9L1286.2 1173.9L1286.7 1168.5L1287.2 1175.0L1287.7 1168.2L1288.2 1175.5L1288.7 1168.3L1289.2 1176.1L1289.7 1168.0L1290.2 1175.9L1290.7 1167.5L1291.2 1174.8L1291.7 1167.5L1292.2 1173.5L1292.7 1167.7L1293.2 1173.6L1293.7 1168.2L1294.2 1173.5L1294.7 1168.3L1295.2 1173.4L1295.7 1168.8L1296.2 1172.9L1296.7 1168.3L1297.2 1173.2L1297.7 1168.1L1298.2 1173.3L1298.7 1168.2L1299.2 1172.8L1299.7 1168.6L1300.2 1173.3L1300.7 1168.6L1301.2 1173.3L1301.7 1168.4L1302.2 1173.7L1302.7 1167.9L1303.2 1175.2L1303.7 1167.2L1304.2 1175.8L1304.7 1167.4L1305.2 1175.7L1305.7 1167.5L1306.2 1174.3L1306.7 1167.4L1307.2 1172.9L1307.7 1166.6L1308.2 1171.9L1308.7 1165.9L1309.2 1170.6L1309.7 1164.0L1310.2 1168.9L1310.7 1163.1L1311.2 1167.6L1311.7 1161.3L1312.2 1166.2L1312.7 1160.3L1313.2 1165.3L1313.7 1158.6L1314.2 1163.9L1314.7 1157.8L1314.8 1163.5L1315.2 1157.6L1315.7 1163.7L1316.2 1158.6L1316.7 1164.2L1317.2 1160.0L1317.7 1165.9L1318.2 1161.2L1318.7 1167.6L1319.2 1162.9L1319.7 1169.1L1320.2 1163.0L1320.7 1170.4L1321.2 1164.1L1321.7 1171.2L1322.2 1164.7L1322.7 1172.0L1323.2 1165.0L1323.7 1172.5L1324.2 1166.9L1324.7 1173.1L1325.2 1167.4L1325.7 1173.3L1326.2 1168.1L1326.7 1173.1L1327.2 1168.3L1327.7 1173.5L1328.2 1168.2L1328.7 1173.0L1329.2 1168.1L1329.7 1173.1L1330.2 1168.0L1330.7 1172.9L1331.2 1168.3L1331.7 1173.1L1332.2 1168.0L1332.7 1173.2L1333.2 1167.9L1333.7 1173.1L1334.2 1168.2L1334.7 1173.6L1335.2 1167.8L1335.7 1173.6L1336.2 1168.0L1336.7 1174.0L1337.2 1167.5L1337.7 1173.8L1338.2 1168.1L1338.7 1174.1L1339.2 1167.2L1339.7 1173.9L1340.2 1168.0L1340.7 1173.7L1341.2 1168.0L1341.7 1173.5L1342.2 1167.3L1342.7 1174.1L1343.2 1167.5L1343.7 1174.1L1344.2 1166.7L1344.7 1173.8L1345.2 1166.1L1345.7 1174.5L1346.2 1164.2L1346.7 1174.2L1347.2 1165.4L1347.7 1174.9L1348.2 1166.5L1348.7 1175.5L1349.2 1168.1L1349.7 1176.1L1350.2 1167.7L1350.7 1174.7L1351.2 1167.2L1351.7 1173.5L1352.2 1167.2L1352.7 1173.7L1353.2 1167.6L1353.7 1173.9L1354.2 1167.3L1354.7 1174.1L1355.2 1167.7L1355.7 1173.6L1356.2 1168.0L1356.7 1173.3L1357.2 1167.7L1357.7 1173.3L1358.2 1167.4L1358.7 1173.2L1359.2 1167.4L1359.7 1173.4L1360.2 1168.4L1360.7 1174.2L1361.2 1168.5L1361.7 1174.2L1362.2 1168.8L1362.7 1174.0L1363.2 1168.7L1363.7 1173.9L1364.2 1169.0L1364.7 1173.7L1365.2 1168.7L1365.7 1173.5L1366.2 1168.7L1366.7 1173.0L1367.2 1168.6L1367.7 1172.8L1368.2 1168.2L1368.7 1173.3L1369.2 1168.1L1369.7 1173.4L1370.2 1167.9L1370.7 1173.0L1371.2 1166.2L1371.7 1173.3L1372.2 1166.0L1372.7 1173.8L1373.2 1164.0L1373.7 1173.9L1374.2 1165.7L1374.7 1173.7L1375.2 1166.8L1375.7 1173.3L1376.2 1167.9L1376.7 1173.5L1377.2 1167.7L1377.7 1173.1L1378.2 1168.3L1378.7 1173.2L1379.2 1168.8L1379.7 1173.5L1380.2 1168.9L1380.7 1173.3L1381.2 1168.8L1381.7 1173.9L1382.2 1168.6L1382.7 1174.1L1383.2 1168.8L1383.7 1173.9L1384.2 1168.9L1384.7 1174.4L1385.2 1168.4L1385.7 1174.0L1386.2 1168.7L1386.7 1174.1L1387.2 1168.4L1387.7 1173.7L1388.2 1168.2L1388.7 1174.1L1389.2 1168.4L1389.7 1174.1L1390.2 1168.3L1390.7 1174.9L1391.2 1168.8L1391.7 1173.9L1392.2 1168.6L1392.7 1173.4L1393.2 1168.4L1393.7 1173.2L1394.2 1167.5L1394.7 1173.4L1395.2 1168.2L1395.7 1173.6L1396.2 1168.0L1396.7 1174.1L1397.2 1168.6L1397.7 1174.3L1398.2 1168.7L1398.7 1173.4L1399.2 1168.6L1399.7 1173.5L1400.2 1168.6L1400.7 1174.2L1401.2 1168.3L1401.7 1175.6L1402.2 1168.5L1402.7 1177.5L1403.2 1167.7L1403.7 1177.9L1404.2 1167.7L1404.7 1176.5L1405.2 1167.9L1405.7 1175.0L1406.2 1168.0L1406.7 1174.0L1407.2 1167.9L1407.7 1174.1L1408.2 1167.8L1408.7 1174.0L1409.2 1168.2L1409.7 1174.2L1410.2 1168.6L1410.7 1174.2L1411.2 1168.5L1411.7 1174.0L1412.2 1168.2L1412.7 1174.4L1413.2 1168.2L1413.7 1174.3L1414.2 1168.1L1414.7 1173.7L1415.2 1168.0L1415.7 1173.1L1416.2 1167.0L1416.7 1172.6L1417.2 1166.3L1417.7 1171.7L1418.0 1165.5L1418.2 1171.5L1418.7 1166.4L1419.2 1172.3L1419.7 1166.7L1420.2 1173.0L1420.7 1168.1L1421.2 1174.6L1421.7 1167.9L1422.2 1174.4L1422.7 1167.6L1423.2 1174.1L1423.7 1166.6L1424.2 1174.3L1424.7 1165.9L1425.2 1175.5L1425.7 1167.3L1426.2 1177.4L1426.7 1167.8L1427.2 1178.8L1427.7 1167.6L1428.2 1176.2L1428.7 1166.3L1429.2 1175.0L1429.7 1166.1L1430.2 1173.2L1430.7 1164.6L1431.2 1172.5L1431.7 1164.4L1432.2 1171.5L1432.7 1163.8L1433.0 1171.3L1433.2 1163.2L1433.7 1171.8L1434.2 1163.7L1434.7 1172.3L1435.2 1166.5L1435.7 1173.5L1436.2 1167.7L1436.7 1173.6L1437.2 1168.3L1437.7 1173.8L1438.2 1168.4L1438.7 1173.8L1439.2 1168.5L1439.7 1174.1L1440.2 1168.7L1440.7 1173.9L1441.2 1168.5L1441.7 1174.6L1442.2 1168.6L1442.7 1174.1L1443.2 1168.7L1443.7 1173.6L1444.2 1168.7L1444.7 1173.7L1445.2 1168.5L1445.7 1173.8L1446.2 1168.6L1446.7 1173.8L1447.2 1168.5L1447.7 1173.3L1448.2 1168.0L1448.7 1173.3L1449.2 1168.3L1449.7 1173.3L1450.2 1168.1L1450.7 1173.2L1451.2 1168.0L1451.7 1173.6L1452.2 1168.8L1452.7 1173.3L1453.2 1168.3L1453.7 1173.0L1454.2 1168.4L1454.7 1173.4L1455.2 1169.2L1455.7 1173.5L1456.2 1168.9L1456.7 1174.5L1457.2 1169.1L1457.7 1175.0L1458.2 1168.7L1458.7 1175.1L1459.2 1168.4L1459.7 1176.7L1460.2 1168.3L1460.7 1176.3L1461.2 1166.5L1461.7 1175.6L1462.2 1166.2L1462.7 1174.2L1463.2 1164.8L1463.7 1173.7L1464.2 1165.0L1464.7 1173.8L1465.2 1163.7L1465.7 1173.6L1466.2 1164.8L1466.7 1173.7L1467.2 1165.5L1467.7 1173.6L1468.2 1166.4L1468.7 1174.2L1469.2 1167.8L1469.7 1173.9L1470.2 1168.1L1470.7 1173.4L1471.2 1168.0L1471.7 1173.6L1472.2 1168.0L1472.7 1173.3L1473.2 1169.0L1473.7 1173.5L1474.2 1169.2L1474.7 1173.3L1475.2 1169.4L1475.7 1173.2L1476.2 1167.8L1476.7 1174.2L1477.2 1166.6L1477.7 1174.2L1478.2 1164.9L1478.7 1174.4L1479.2 1165.5L1479.7 1173.8L1480.2 1167.0L1480.7 1173.8L1481.2 1168.3L1481.7 1173.0L1482.2 1168.2L1482.7 1173.5L1483.2 1168.8L1483.7 1173.1L1484.2 1168.6L1484.7 1173.2L1485.2 1168.6L1485.7 1173.3L1486.2 1168.8L1486.7 1173.3L1487.2 1169.0L1487.7 1173.8L1488.2 1169.3L1488.7 1174.0L1489.2 1169.4L1489.7 1174.6L1490.2 1169.2L1490.7 1174.4L1491.2 1169.2L1491.7 1174.5L1492.2 1169.1L1492.7 1174.4L1493.2 1169.0L1493.7 1174.2L1494.2 1168.7L1494.7 1174.0L1495.2 1168.2L1495.7 1173.4L1496.2 1167.8L1496.7 1173.3L1497.2 1168.4L1497.7 1173.3L1498.2 1168.8L1498.7 1173.7L1499.2 1169.0L1499.7 1174.0L1500.2 1169.0L1500.7 1174.3L1501.2 1169.5L1501.7 1174.4L1502.2 1169.6L1502.7 1174.7L1503.2 1169.1L1503.7 1174.9L1504.2 1168.7L1504.7 1174.9L1505.2 1168.3L1505.7 1174.5L1506.2 1168.7L1506.7 1173.9L1507.2 1168.7L1507.7 1173.6L1508.2 1168.7L1508.7 1173.0L1509.2 1168.5L1509.7 1173.4L1510.2 1168.4L1510.7 1173.0L1511.2 1168.2L1511.7 1173.8L1512.2 1168.5L1512.7 1173.7L1513.2 1168.8L1513.7 1173.9L1514.2 1168.6L1514.7 1174.7L1515.2 1168.1L1515.7 1175.0L1516.2 1168.4L1516.7 1175.5L1517.2 1167.8L1517.7 1176.1L1518.2 1167.4L1518.7 1175.2L1519.2 1167.4L1519.7 1173.9L1520.2 1167.0L1520.7 1172.7L1521.2 1166.4L1521.7 1171.9L1522.2 1166.5L1522.7 1172.1L1523.2 1165.4L1523.7 1171.4L1524.2 1165.4L1524.7 1170.4L1525.2 1164.9L1525.7 1170.2L1526.2 1164.5L1526.7 1168.8L1527.2 1163.3L1527.7 1168.0L1528.2 1163.1L1528.7 1167.5L1529.2 1162.5L1529.7 1166.4L1530.2 1161.7L1530.7 1166.3L1531.2 1160.2L1531.7 1165.8L1532.2 1160.1L1532.7 1165.4L1533.2 1158.7L1533.7 1164.7L1534.2 1159.1L1534.7 1163.6L1535.2 1158.0L1535.7 1163.4L1536.2 1158.0L1536.7 1163.2L1537.2 1158.4L1537.7 1163.6L1538.2 1158.1L1538.3 1163.7L1538.7 1158.8L1539.2 1164.0L1539.7 1158.5L1540.2 1164.6L1540.7 1159.3L1541.2 1164.8L1541.7 1159.2L1542.2 1164.4L1542.7 1159.8L1543.2 1165.1L1543.7 1160.4L1544.2 1165.3L1544.7 1160.6L1545.2 1166.0L1545.7 1161.3L1546.2 1166.8L1546.7 1161.9L1547.2 1168.4L1547.7 1162.2L1548.2 1169.4L1548.7 1163.4L1549.2 1172.3L1549.7 1163.6L1550.2 1173.8L1550.7 1164.6L1551.2 1172.4L1551.7 1164.9L1552.2 1171.7L1552.7 1165.6L1553.2 1170.4L1553.7 1165.3L1554.2 1171.2L1554.7 1164.1L1555.2 1169.9L1555.7 1161.6L1556.2 1165.5L1556.7 1157.2L1557.2 1161.2L1557.6 1154.7L1557.7 1160.6L1558.2 1156.0L1558.7 1164.4L1559.2 1161.6L1559.7 1169.0L1560.2 1165.6L1560.7 1172.1L1561.2 1167.6L1561.7 1173.4L1562.2 1168.4L1562.7 1174.7L1563.2 1168.3L1563.7 1176.1L1564.2 1168.4L1564.7 1177.1L1565.2 1168.5L1565.7 1177.8L1566.2 1169.2L1566.7 1178.8L1567.2 1169.7L1567.7 1177.6L1568.2 1169.8L1568.7 1178.8L1569.2 1168.8L1569.7 1179.5L1570.2 1167.5L1570.7 1179.1L1571.2 1166.7L1571.7 1178.8L1572.2 1167.7L1572.7 1176.0L1573.2 1168.3L1573.7 1174.4L1574.2 1169.8L1574.7 1173.7L1575.2 1169.5L1575.7 1174.3L1576.2 1169.9L1576.7 1174.5L1577.2 1169.9L1577.7 1174.6L1578.2 1170.1L1578.7 1175.4L1579.2 1170.0L1579.7 1176.7L1580.2 1169.9L1580.7 1176.1L1581.2 1170.0L1581.7 1175.2L1582.2 1169.7L1582.7 1174.9L1583.2 1169.9L1583.7 1174.6L1584.2 1169.1L1584.7 1174.4L1585.2 1168.4L1585.7 1175.1L1586.2 1167.7L1586.7 1175.0L1587.2 1168.7L1587.7 1174.6L1588.2 1169.1L1588.7 1174.6L1589.2 1169.7L1589.7 1175.3L1590.2 1169.9L1590.7 1175.4L1591.2 1169.7L1591.7 1175.4L1592.2 1169.1L1592.7 1175.5L1593.2 1169.3L1593.7 1175.0L1594.2 1169.2L1594.7 1174.8L1595.2 1169.1L1595.7 1175.2L1596.2 1169.4L1596.7 1175.5L1597.2 1169.0L1597.7 1175.6L1598.2 1169.7L1598.7 1175.4L1599.2 1169.6L1599.7 1175.5L1600.2 1170.1L1600.7 1174.7L1601.2 1170.7L1601.7 1175.2L1602.2 1170.2L1602.7 1175.2L1603.2 1169.5L1603.7 1175.9L1604.2 1169.7L1604.7 1175.2L1605.2 1168.5L1605.7 1175.3L1606.2 1166.7L1606.7 1174.4L1607.2 1165.9L1607.7 1174.9L1608.2 1166.9L1608.7 1175.3L1609.2 1168.7L1609.7 1176.4L1610.2 1169.6L1610.7 1176.4L1611.2 1169.3L1611.7 1176.8L1612.2 1169.7L1612.7 1176.2L1613.2 1169.7L1613.7 1176.1L1614.2 1169.8L1614.7 1175.5L1615.2 1170.1L1615.7 1175.5L1616.2 1170.1L1616.7 1175.3L1617.2 1169.8L1617.7 1175.1L1618.2 1169.8L1618.7 1174.6L1619.2 1169.8L1619.7 1174.4L1620.2 1169.1L1620.7 1174.5L1621.2 1168.4L1621.7 1174.5L1622.2 1168.5L1622.7 1174.3L1623.2 1167.7L1623.7 1174.3L1624.2 1166.6L1624.7 1174.4L1625.2 1166.2L1625.7 1174.6L1626.2 1167.1L1626.7 1174.9L1627.2 1166.6L1627.7 1174.9L1628.2 1167.7L1628.7 1174.8L1629.2 1168.6L1629.7 1175.4L1630.2 1169.4L1630.7 1175.1L1631.2 1170.7L1631.7 1175.6L1632.2 1170.2L1632.7 1175.8L1633.2 1170.2L1633.7 1175.7L1634.2 1170.5L1634.7 1176.0L1635.2 1170.6L1635.7 1176.5L1636.2 1170.9L1636.7 1177.2L1637.2 1170.7L1637.7 1177.2L1638.2 1170.7L1638.7 1177.1L1639.2 1170.1L1639.7 1175.8L1640.2 1169.6L1640.7 1175.2L1641.2 1169.9L1641.7 1175.4L1642.2 1169.5L1642.7 1175.1L1643.2 1169.3L1643.7 1174.8L1644.2 1169.8L1644.7 1174.7L1645.2 1169.4L1645.7 1173.9L1646.2 1168.0L1646.7 1171.5L1647.2 1165.4L1647.7 1169.2L1648.2 1162.9L1648.7 1166.3L1649.2 1160.6L1649.7 1164.2L1650.2 1153.5L1650.7 1154.2L1651.2 1142.7L1651.7 1144.3L1652.2 1135.1L1652.7 1138.2L1653.0 1130.8L1653.2 1137.4L1653.7 1134.8L1654.2 1143.6L1654.7 1140.3L1655.2 1148.6L1655.7 1146.2L1656.2 1154.1L1656.7 1151.0L1657.2 1157.6L1657.7 1154.3L1658.2 1161.9L1658.7 1158.5L1659.2 1165.5L1659.7 1161.5L1660.2 1166.8L1660.7 1163.0L1661.2 1168.3L1661.7 1164.2L1662.2 1170.1L1662.7 1165.7L1663.2 1171.2L1663.7 1166.9L1664.2 1171.9L1664.7 1167.9L1665.2 1173.9L1665.7 1169.5L1666.2 1174.6L1666.7 1169.4L1667.2 1174.5L1667.7 1169.7L1668.2 1174.7L1668.7 1170.4L1669.2 1174.7L1669.7 1170.7L1670.2 1174.9L1670.7 1171.1L1671.2 1175.3L1671.7 1170.8L1672.2 1176.0L1672.7 1170.5L1673.2 1176.1L1673.7 1170.6L1674.2 1176.3L1674.7 1170.4L1675.2 1176.9L1675.7 1169.4L1676.2 1178.2L1676.7 1168.6L1677.2 1175.5L1677.7 1168.3L1678.2 1174.6L1678.7 1167.6L1679.2 1172.4L1679.7 1166.7L1680.2 1172.3L1680.7 1165.9L1681.2 1173.4L1681.7 1166.0L1682.0 1174.2L1682.2 1165.7L1682.7 1174.5L1683.2 1166.5L1683.7 1174.0L1684.2 1167.5L1684.7 1173.4L1685.2 1168.5L1685.7 1173.6L1686.2 1169.3L1686.7 1174.7L1687.2 1169.7L1687.7 1175.1L1688.2 1170.4L1688.7 1175.0L1689.2 1170.3L1689.7 1175.6L1690.2 1169.9L1690.7 1175.3L1691.2 1170.4L1691.7 1175.1L1692.2 1170.1L1692.7 1174.7L1693.2 1170.0L1693.7 1174.8L1694.2 1170.2L1694.7 1174.7L1695.2 1170.1L1695.7 1174.6L1696.2 1170.3L1696.7 1175.5L1697.2 1169.7L1697.7 1175.3L1698.2 1170.3L1698.7 1174.6L1699.2 1169.6L1699.7 1173.5L1700.2 1168.9L1700.7 1173.3L1701.2 1167.0L1701.7 1173.4L1702.2 1165.1L1702.7 1173.3L1703.2 1162.5L1703.7 1172.6L1704.2 1163.3L1704.7 1170.9L1705.2 1163.5L1705.7 1168.2L1706.2 1163.3L1706.7 1166.6L1707.2 1161.6L1707.7 1163.2L1708.2 1152.2L1708.7 1148.8L1709.2 1139.9L1709.7 1137.5L1710.2 1124.1L1710.7 1111.9L1711.2 1103.3L1711.7 1099.2L1712.2 1093.1L1712.7 1089.1L1713.0 1085.0L1713.2 1089.3L1713.7 1096.4L1714.2 1105.6L1714.7 1112.7L1715.2 1121.9L1715.7 1121.1L1716.2 1124.3L1716.7 1123.1L1717.2 1126.6L1717.7 1125.2L1718.2 1129.0L1718.7 1129.5L1719.2 1137.8L1719.7 1137.9L1720.2 1147.5L1720.7 1147.3L1721.2 1157.4L1721.7 1156.7L1722.2 1166.7L1722.7 1163.9L1723.2 1171.8L1723.7 1165.5L1724.2 1172.6L1724.7 1166.4L1725.2 1172.9L1725.7 1167.7L1726.2 1173.5L1726.7 1168.8L1727.2 1173.9L1727.7 1169.5L1728.2 1175.1L1728.7 1169.8L1729.2 1175.5L1729.7 1169.8L1730.2 1175.6L1730.7 1169.9L1731.2 1175.4L1731.7 1170.2L1732.2 1175.0L1732.7 1169.9L1733.2 1175.1L1733.7 1169.7L1734.2 1175.2L1734.7 1169.7L1735.2 1175.7L1735.7 1169.2L1736.2 1175.8L1736.7 1169.4L1737.2 1175.8L1737.7 1169.6L1738.2 1175.7L1738.7 1170.4L1739.2 1176.2L1739.7 1170.3L1740.2 1176.3L1740.7 1171.2L1741.2 1176.3L1741.7 1171.1L1742.2 1175.9L1742.7 1170.9L1743.2 1176.2L1743.7 1171.3L1744.2 1175.9L1744.7 1170.6L1745.2 1175.7L1745.7 1170.6L1746.2 1175.8L1746.7 1170.8L1747.2 1176.2L1747.7 1170.7L1748.2 1176.0L1748.7 1170.7L1749.2 1175.8L1749.7 1171.0L1750.2 1176.0L1750.7 1171.3L1751.2 1175.8L1751.7 1171.1L1752.2 1176.1L1752.7 1171.0L1753.2 1175.7L1753.7 1171.2L1754.2 1176.0L1754.7 1171.2L1755.2 1175.2L1755.7 1170.5L1756.2 1175.0L1756.7 1170.0L1757.2 1174.0L1757.7 1169.3L1758.2 1173.8L1758.7 1169.5L1759.2 1173.6L1759.7 1167.4L1760.2 1169.4L1760.7 1162.7L1761.2 1165.0L1761.7 1158.7L1762.2 1161.0L1762.7 1154.1L1763.2 1150.6L1763.7 1135.8L1764.2 1138.3L1764.7 1133.6L1765.2 1135.2L1765.7 1131.3L1766.2 1132.6L1766.7 1128.6L1767.2 1121.6L1767.6 1113.0L1767.7 1116.4L1768.2 1126.8L1768.7 1140.2L1769.2 1137.2L1769.7 1141.3L1770.2 1137.8L1770.7 1142.7L1771.2 1138.8L1771.7 1143.9L1772.2 1139.1L1772.7 1145.1L1773.2 1140.0L1773.7 1146.2L1774.2 1144.6L1774.7 1155.4L1775.2 1153.8L1775.7 1160.4L1776.2 1157.5L1776.7 1163.6L1777.2 1160.5L1777.7 1167.2L1778.2 1164.0L1778.7 1170.2L1779.2 1167.9L1779.7 1173.8L1780.2 1169.6L1780.7 1174.2L1781.2 1169.5L1781.7 1174.9L1782.2 1170.1L1782.7 1176.6L1783.2 1169.8L1783.7 1177.4L1784.2 1170.4L1784.7 1179.1L1785.2 1170.7L1785.7 1177.4L1786.2 1171.1L1786.7 1176.0L1787.2 1171.8L1787.7 1175.8L1788.2 1172.0L1788.7 1175.4L1789.2 1171.7L1789.7 1175.3L1790.2 1171.6L1790.7 1175.7L1791.2 1171.6L1791.7 1176.1L1792.2 1171.3L1792.7 1176.3L1793.2 1171.2L1793.7 1176.6L1794.2 1171.1L1794.7 1175.8L1795.2 1171.4L1795.7 1175.6L1796.2 1171.1L1796.7 1175.7L1797.2 1171.4L1797.7 1176.3L1798.2 1170.9L1798.7 1176.1L1799.2 1171.1L1799.7 1176.6L1800.2 1170.3L1800.7 1175.9L1801.2 1169.9L1801.7 1176.0L1802.2 1169.1L1802.7 1176.1L1803.2 1170.1L1803.7 1176.2L1804.2 1170.4L1804.7 1176.8L1805.2 1171.9L1805.7 1176.7L1806.2 1171.9L1806.7 1176.3L1807.2 1171.2L1807.7 1175.8L1808.2 1171.6L1808.7 1176.3L1809.2 1171.4L1809.7 1175.7L1810.2 1171.5L1810.7 1175.5L1811.2 1172.1L1811.7 1175.4L1812.2 1171.7L1812.7 1175.5L1813.2 1171.6L1813.7 1175.8L1814.2 1171.9L1814.7 1175.6L1815.2 1171.4L1815.7 1175.6L1816.2 1170.8L1816.7 1175.4L1817.2 1171.0L1817.7 1175.8L1818.2 1170.3L1818.7 1175.8L1819.2 1169.2L1819.7 1175.3L1820.2 1169.2L1820.7 1175.8L1821.2 1169.5L1821.7 1175.6L1822.2 1170.1L1822.7 1175.7L1823.2 1171.5L1823.7 1175.5L1824.2 1171.3L1824.7 1175.6L1825.2 1170.8L1825.7 1175.4L1826.2 1170.3L1826.7 1175.5L1827.2 1171.2L1827.7 1175.7L1828.2 1171.2L1828.7 1176.1L1829.2 1172.1L1829.7 1176.6L1830.2 1171.6L1830.7 1177.0L1831.2 1171.2L1831.7 1177.5L1832.2 1171.0L1832.7 1178.1L1833.2 1171.1L1833.7 1177.2L1834.2 1170.8L1834.7 1176.0L1835.2 1170.9L1835.7 1175.2L1836.2 1171.5L1836.7 1175.2L1837.2 1170.9L1837.7 1175.5L1838.2 1170.9L1838.7 1175.3L1839.2 1171.2L1839.7 1175.7L1840.2 1170.8L1840.7 1175.6L1841.2 1170.7L1841.7 1176.1L1842.2 1170.7L1842.7 1175.6L1843.2 1171.3L1843.7 1175.7L1844.2 1171.3L1844.7 1175.9L1845.2 1171.7L1845.7 1176.2L1846.2 1171.4L1846.7 1175.8L1847.2 1171.8L1847.7 1176.8L1848.2 1170.6L1848.7 1176.8L1849.2 1170.0L1849.7 1177.4L1850.2 1168.4L1850.7 1178.0L1851.2 1169.2L1851.7 1177.2L1852.2 1170.4L1852.7 1176.4L1853.2 1170.7L1853.7 1176.1L1854.2 1171.0L1854.7 1176.2L1855.2 1171.0L1855.7 1176.4L1856.2 1171.8L1856.7 1176.1L1857.2 1171.6L1857.7 1176.1L1858.2 1171.0L1858.7 1175.6L1859.2 1171.1L1859.7 1175.5L1860.2 1171.2L1860.7 1175.7L1861.2 1170.7L1861.7 1175.7L1862.2 1171.1L1862.7 1175.6L1863.2 1171.6L1863.7 1176.2L1864.2 1171.5L1864.7 1176.6L1865.2 1171.4L1865.7 1176.5L1866.2 1171.5L1866.7 1175.9L1867.2 1171.9L1867.7 1175.5L1868.2 1171.9L1868.7 1175.7L1869.2 1171.7L1869.7 1175.7L1870.2 1171.1L1870.7 1175.4L1871.2 1171.6L1871.7 1176.0L1872.2 1170.3L1872.7 1175.9L1873.2 1169.7L1873.7 1176.1L1874.2 1168.8L1874.7 1175.7L1875.2 1169.8L1875.7 1175.7L1876.2 1171.1L1876.7 1175.6L1877.2 1171.3L1877.7 1175.0L1878.2 1170.9L1878.7 1175.0L1879.2 1170.5L1879.7 1174.6L1880.2 1169.7L1880.7 1174.0L1881.2 1169.8L1881.7 1173.8L1882.2 1168.9L1882.7 1173.2L1883.2 1169.1L1883.7 1173.4L1884.2 1166.8L1884.7 1172.6L1885.2 1165.4L1885.7 1172.3L1886.2 1163.6L1886.7 1172.5L1887.2 1164.6L1887.7 1172.7L1888.2 1166.9L1888.7 1172.8L1889.2 1167.9L1889.7 1173.4L1890.2 1168.7L1890.7 1175.3L1891.2 1169.3L1891.7 1178.1L1892.2 1169.8L1892.7 1178.7L1893.2 1170.5L1893.7 1176.9L1894.2 1170.2L1894.7 1176.0L1895.2 1170.3L1895.7 1176.1L1896.2 1170.8L1896.7 1176.1L1897.2 1171.1L1897.7 1176.0L1898.2 1171.5L1898.7 1175.8L1899.2 1171.1L1899.7 1176.4L1900.2 1171.4L1900.7 1176.3L1901.2 1171.6L1901.7 1176.6L1902.2 1171.3L1902.7 1176.5L1903.2 1171.6L1903.7 1176.9L1904.2 1171.9L1904.7 1176.2L1905.2 1171.4L1905.7 1176.3L1906.2 1170.9L1906.7 1175.9L1907.2 1170.8L1907.7 1176.0L1908.2 1171.1L1908.7 1176.0L1909.2 1171.2L1909.7 1176.4L1910.2 1172.1L1910.7 1176.8L1911.2 1171.4L1911.7 1176.6L1912.2 1171.3L1912.7 1176.4L1913.2 1171.1L1913.7 1176.2L1914.2 1170.6L1914.7 1176.0L1915.2 1169.3L1915.7 1175.9L1916.2 1168.4L1916.7 1176.2L1917.2 1168.8L1917.7 1176.1L1918.2 1170.9L1918.7 1175.6L1919.2 1171.6L1919.7 1176.1L1920.2 1171.6L1920.7 1176.2L1921.2 1171.4L1921.7 1176.3L1922.2 1170.6L1922.7 1175.8L1923.2 1170.8L1923.7 1176.1L1924.2 1171.1L1924.7 1175.7L1925.2 1171.8L1925.7 1175.6L1926.2 1171.5L1926.7 1175.8L1927.2 1171.9L1927.7 1176.3L1928.2 1171.8L1928.7 1176.0L1929.2 1171.6L1929.7 1176.0L1930.2 1171.4L1930.7 1176.0L1931.2 1170.9L1931.7 1175.9L1932.2 1171.6L1932.7 1176.3L1933.2 1171.7L1933.7 1176.2L1934.2 1172.3L1934.7 1175.9L1935.2 1172.4L1935.7 1175.7L1936.2 1171.9L1936.7 1175.9L1937.2 1172.2L1937.7 1176.8L1938.2 1172.2L1938.7 1177.1L1939.2 1172.0L1939.7 1177.9L1940.2 1172.1L1940.7 1178.5L1941.2 1172.1L1941.7 1177.2L1942.2 1171.9L1942.7 1176.8L1943.2 1171.7L1943.7 1176.2L1944.2 1171.4L1944.7 1176.5L1945.2 1171.7L1945.7 1176.6L1946.2 1171.6L1946.7 1177.3L1947.2 1171.7L1947.7 1177.7L1948.2 1171.6L1948.7 1179.6L1949.2 1171.6L1949.7 1179.1L1950.2 1172.1L1950.7 1178.9L1951.2 1172.1L1951.7 1179.4L1952.2 1171.9L1952.7 1179.0L1953.2 1171.9L1953.7 1177.8L1954.2 1171.4L1954.7 1176.4L1955.2 1171.2L1955.7 1176.0L1956.2 1171.3L1956.7 1176.1L1957.2 1171.9L1957.7 1175.8L1958.2 1172.4L1958.7 1176.4L1959.2 1171.9L1959.7 1176.3L1960.2 1171.9L1960.7 1176.4L1961.2 1171.9L1961.7 1176.8L1962.2 1171.7L1962.7 1176.4L1963.2 1171.4L1963.7 1176.4L1964.2 1171.1L1964.7 1175.7L1965.2 1171.0L1965.7 1175.2L1966.2 1170.2L1966.7 1175.0L1967.2 1170.0L1967.7 1174.9L1968.2 1169.7L1968.7 1174.0L1969.2 1169.8L1969.7 1174.1L1970.0 1169.3L1970.2 1173.6L1970.7 1169.5L1971.2 1174.1L1971.7 1170.1L1972.2 1174.5L1972.7 1170.7L1973.2 1175.1L1973.7 1171.4L1974.2 1175.2L1974.7 1170.8L1975.2 1175.5L1975.7 1170.7L1976.2 1175.9L1976.7 1171.2L1977.2 1176.1L1977.7 1171.8L1978.2 1176.0L1978.7 1172.1L1979.2 1176.3L1979.7 1171.2L1980.2 1177.0L1980.7 1169.5L1981.2 1176.8L1981.7 1167.6L1982.2 1176.3L1982.7 1167.5L1983.2 1176.4L1983.7 1169.9L1984.2 1176.3L1984.7 1171.4L1985.2 1176.5L1985.7 1172.1L1986.2 1176.3L1986.7 1171.5L1987.2 1175.7L1987.7 1171.3L1988.2 1175.6L1988.7 1171.1L1989.2 1175.9L1989.7 1171.6L1990.2 1175.9L1990.7 1171.1L1991.2 1176.6L1991.7 1171.5L1992.2 1176.0L1992.7 1171.2L1993.2 1176.0L1993.7 1171.1L1994.2 1175.8L1994.7 1171.6L1995.2 1175.6L1995.7 1171.5L1996.2 1175.7L1996.7 1171.1L1997.2 1175.6L1997.7 1171.3L1998.2 1175.8L1998.7 1171.3L1999.2 1175.9L1999.7 1171.2L2000.2 1175.9L2000.7 1170.9L2001.2 1176.4L2001.7 1170.9L2002.2 1176.3L2002.7 1169.5L2003.2 1176.6L2003.7 1169.7L2004.2 1176.2L2004.7 1170.0L2005.2 1176.6L2005.7 1171.2L2006.2 1176.3L2006.7 1171.6L2007.2 1176.5L2007.7 1171.5L2008.2 1176.2L2008.7 1171.8L2009.2 1176.2L2009.7 1172.0L2010.2 1176.4L2010.7 1172.0L2011.2 1176.3L2011.7 1172.4L2012.2 1176.5L2012.7 1172.3L2013.2 1176.4L2013.7 1172.0L2014.2 1176.0L2014.7 1171.8L2015.2 1175.8L2015.7 1171.4L2016.2 1175.8L2016.7 1171.4L2017.2 1176.2L2017.7 1171.5L2018.2 1176.8L2018.7 1171.8L2019.2 1176.3L2019.7 1171.9L2020.2 1176.3L2020.7 1172.0L2021.2 1177.0L2021.7 1171.5L2022.2 1176.4L2022.7 1171.4L2023.2 1176.4L2023.7 1171.1L2024.2 1176.6L2024.7 1171.6L2025.2 1176.7L2025.7 1171.2L2026.2 1176.5L2026.7 1171.3L2027.2 1177.0L2027.7 1171.7L2028.2 1178.0L2028.7 1171.9L2029.2 1177.8L2029.7 1171.9L2030.2 1178.7L2030.7 1172.1L2031.2 1179.7L2031.7 1172.1L2032.2 1178.6L2032.7 1171.7L2033.2 1179.2L2033.7 1171.8L2034.2 1177.6L2034.7 1172.2L2035.2 1176.6L2035.7 1172.2L2036.2 1175.5L2036.7 1172.5L2037.2 1176.1L2037.7 1172.0L2038.2 1176.1L2038.7 1171.7L2039.2 1176.7L2039.7 1171.4L2040.2 1176.4L2040.7 1171.3L2041.2 1176.1L2041.7 1171.6L2042.2 1175.7L2042.7 1171.8L2043.2 1176.0L2043.7 1171.3L2044.2 1175.6L2044.7 1171.5L2045.2 1175.5L2045.7 1171.0L2046.2 1176.4L2046.7 1171.6L2047.2 1177.1L2047.7 1172.1L2048.2 1178.5L2048.7 1172.0L2049.2 1177.7L2049.7 1172.1L2050.2 1176.4L2050.7 1171.5L2051.2 1175.9L2051.7 1171.9L2052.2 1176.1L2052.7 1172.2L2053.2 1175.9L2053.7 1172.5L2054.2 1176.0L2054.7 1172.3L2055.2 1176.0L2055.7 1172.3L2056.2 1176.0L2056.7 1172.5L2057.2 1175.8L2057.7 1172.3L2058.2 1175.8L2058.7 1172.1L2059.2 1175.8L2059.7 1172.2L2060.2 1175.8L2060.7 1171.9L2061.2 1175.9L2061.7 1171.3L2062.2 1176.0L2062.7 1171.4L2063.2 1176.2L2063.7 1171.6L2064.2 1176.2L2064.7 1171.3L2065.2 1176.3L2065.7 1171.8L2066.2 1177.1L2066.7 1170.8L2067.2 1176.5L2067.7 1170.2L2068.2 1176.6L2068.7 1169.1L2069.2 1176.8L2069.7 1168.6L2070.2 1176.8L2070.7 1169.5L2071.2 1176.4L2071.7 1171.3L2072.2 1176.7L2072.7 1171.6L2073.2 1176.4L2073.7 1170.7L2074.2 1176.6L2074.7 1169.7L2075.2 1176.5L2075.7 1170.3L2076.2 1176.6L2076.7 1170.7L2077.2 1176.6L2077.7 1171.9L2078.2 1176.6L2078.7 1172.1L2079.2 1176.8L2079.7 1172.0L2080.2 1176.6L2080.7 1171.8L2081.2 1176.9L2081.7 1171.6L2082.2 1176.5L2082.7 1171.6L2083.2 1176.6L2083.7 1172.2L2084.2 1176.4L2084.7 1171.8L2085.2 1176.4L2085.7 1171.9L2086.2 1176.0L2086.7 1171.6L2087.2 1175.8L2087.7 1172.0L2088.2 1176.2L2088.7 1172.2L2089.2 1176.1L2089.7 1171.7L2090.2 1176.4L2090.7 1171.4L2091.2 1176.3L2091.7 1170.1L2092.2 1176.7L2092.7 1169.9L2093.2 1176.7L2093.7 1168.6L2094.2 1177.0L2094.7 1169.5L2095.2 1178.7L2095.7 1168.6L2096.2 1178.8L2096.7 1168.5L2097.2 1178.1L2097.7 1170.1L2098.2 1176.5L2098.7 1171.1L2099.2 1176.0L2099.7 1171.8L2100.2 1175.6L2100.7 1172.0L2101.2 1175.9L2101.7 1172.3L2102.2 1176.1L2102.7 1171.9L2103.2 1175.9L2103.7 1172.2L2104.2 1176.5L2104.7 1172.1L2105.2 1176.7L2105.7 1172.0L2106.2 1176.4L2106.7 1171.8L2107.2 1176.4L2107.7 1172.0L2108.2 1177.1L2108.7 1171.8L2109.2 1176.8L2109.7 1172.1L2110.2 1176.3L2110.7 1171.8L2111.2 1175.9L2111.7 1171.6L2112.2 1176.1L2112.7 1171.6L2113.2 1176.1L2113.7 1172.1L2114.2 1175.7L2114.7 1171.5L2115.2 1175.9L2115.7 1171.3L2116.2 1175.7L2116.7 1171.3L2117.2 1175.7L2117.7 1171.7L2118.2 1175.8L2118.7 1171.8L2119.2 1176.1L2119.7 1172.5L2120.2 1176.5L2120.7 1172.5L2121.2 1176.3L2121.7 1172.3L2122.2 1176.4L2122.7 1171.4L2123.2 1176.7L2123.7 1171.4L2124.2 1176.5L2124.7 1170.1L2125.2 1176.1L2125.7 1169.4L2126.2 1175.7L2126.7 1169.5L2127.2 1175.7L2127.7 1169.6L2128.2 1175.9L2128.7 1171.4L2129.2 1176.1L2129.7 1171.6L2130.2 1176.1L2130.7 1171.7L2131.2 1176.6L2131.7 1172.4L2132.2 1176.6L2132.7 1172.5L2133.2 1176.3L2133.7 1172.5L2134.2 1176.6L2134.7 1172.7L2135.2 1176.3L2135.7 1172.4L2136.2 1176.2L2136.7 1172.3L2137.2 1176.2L2137.7 1172.1L2138.2 1176.2L2138.7 1172.0L2139.2 1176.0L2139.7 1172.3L2140.2 1175.9L2140.7 1172.2L2141.2 1175.6L2141.7 1172.1L2142.2 1175.8L2142.7 1172.0L2143.2 1176.6L2143.7 1171.8L2144.2 1176.3L2144.7 1171.6L2145.2 1176.3L2145.7 1171.9L2146.2 1176.2L2146.7 1171.6L2147.2 1176.0L2147.7 1171.1L2148.2 1175.8L2148.7 1170.2L2149.2 1176.1L2149.7 1169.6L2150.2 1176.0L2150.7 1169.7L2151.2 1175.8L2151.7 1170.8L2152.2 1175.9L2152.7 1172.0L2153.2 1175.6L2153.7 1172.2L2154.2 1175.9L2154.7 1172.3"/>
<path class="curve" stroke="#0000ee" stroke-width="4.6" d="M869.6 975V1164M919.3 905V1164M968.8 1036V1164"/>
</g>
<g fill="#6c8cf8" stroke="#5566a8" stroke-width="1.3">
<rect x="644.6" y="897.0" width="41.1" height="31.0"/><line x1="644.0" y1="897.5" x2="686.4" y2="897.5" stroke="#232a4e" stroke-width="2.2"/>
<rect x="1092.1" y="872.0" width="40.0" height="30.7"/><line x1="1091.4" y1="872.5" x2="1132.7" y2="872.5" stroke="#232a4e" stroke-width="2.2"/>
<rect x="1513.7" y="897.4" width="39.5" height="30.2"/><line x1="1513.0" y1="897.8" x2="1553.8" y2="897.8" stroke="#232a4e" stroke-width="2.2"/>
<rect x="641.6" y="1112.5" width="39.7" height="30.9"/><line x1="641.0" y1="1142.9" x2="682.0" y2="1142.9" stroke="#232a4e" stroke-width="2.2"/>
<rect x="1086.7" y="1098.9" width="38.7" height="30.7"/><line x1="1086.0" y1="1129.1" x2="1126.0" y2="1129.1" stroke="#232a4e" stroke-width="2.2"/>
<rect x="1512.4" y="1121.0" width="40.8" height="28.1"/><line x1="1511.7" y1="1148.6" x2="1553.8" y2="1148.6" stroke="#232a4e" stroke-width="2.2"/>
<rect x="1647.5" y="410.8" width="40.3" height="31.5"/><line x1="1646.8" y1="441.8" x2="1688.4" y2="441.8" stroke="#232a4e" stroke-width="2.2"/>
</g>
<g fill="#4f86c8" stroke="#16376e" stroke-width="3.3">
<ellipse cx="926.0" cy="43.2" rx="21.8" ry="16.3"/>
<ellipse cx="872.5" cy="660.5" rx="22.8" ry="17.4"/>
<ellipse cx="975.2" cy="608.8" rx="22.0" ry="16.9"/>
<ellipse cx="1222.7" cy="887.4" rx="22.6" ry="17.6"/>
<ellipse cx="1560.5" cy="887.4" rx="22.2" ry="17.6"/>
<ellipse cx="1656.0" cy="890.2" rx="22.2" ry="17.6"/>
<ellipse cx="1715.8" cy="773.1" rx="22.2" ry="17.6"/>
<ellipse cx="1772.8" cy="865.7" rx="22.2" ry="17.6"/>
<ellipse cx="1215.4" cy="1120.0" rx="22.6" ry="17.4"/>
<ellipse cx="1563.7" cy="1120.0" rx="22.2" ry="17.4"/>
<ellipse cx="1653.0" cy="1105.6" rx="22.6" ry="17.0"/>
<ellipse cx="1712.5" cy="1063.8" rx="22.2" ry="17.2"/>
<ellipse cx="1768.2" cy="1095.3" rx="22.2" ry="17.2"/>
<ellipse cx="1666.0" cy="330.4" rx="23.0" ry="17.3"/>
</g>
<line x1="1575.7" y1="84.5" x2="1728.8" y2="84.5" stroke="#000" stroke-width="6.2"/>
<line x1="1575.7" y1="167.2" x2="1728.8" y2="167.2" stroke="#0000d0" stroke-width="6.2"/>
<line x1="1575.7" y1="249.0" x2="1728.8" y2="249.0" stroke="#e00000" stroke-width="6.2"/>
<g class="sans" font-size="64.6">
<text x="1744.6" y="107.8">AZ31</text>
<text x="1760.6" y="189.6" letter-spacing="0.45">MAO/AZ31</text>
<text x="1744.2" y="271.3" letter-spacing="0.15">Cu/MA/AZ31</text>
<text transform="translate(1752.2 352.8) scale(1.055 1)">Mg</text>
<text transform="translate(1751.0 445.5) scale(1.04 1)">MgO</text>
</g>
<g class="sans" font-size="72.5" text-anchor="end">
<text transform="translate(336.3 1364.2) scale(1 1.045)">0</text>
<text transform="translate(336.3 1127.5) scale(1 1.045)">500</text>
<text transform="translate(336.3 890.8) scale(1 1.045)">1000</text>
<text transform="translate(336.3 654.1) scale(1 1.045)">1500</text>
<text transform="translate(336.3 417.4) scale(1 1.045)">2000</text>
<text transform="translate(336.3 180.7) scale(1 1.045)">2500</text>
</g>
<g class="serif" font-size="88" text-anchor="middle">
<text x="602.3" y="1561.4">20</text>
<text x="1046.0" y="1561.4">40</text>
<text x="1489.6" y="1561.4">60</text>
<text x="1933.3" y="1561.4">80</text>
</g>
<text class="serif" font-size="95.6" x="1232.2" y="1733" text-anchor="middle" letter-spacing="0.35">2 Theta (degree)</text>
<text class="serif" font-size="97.2" text-anchor="middle" transform="translate(87.6 773) rotate(-90)">Intensity(a.u.)</text>
</g>
</svg>
</body>
</html>
